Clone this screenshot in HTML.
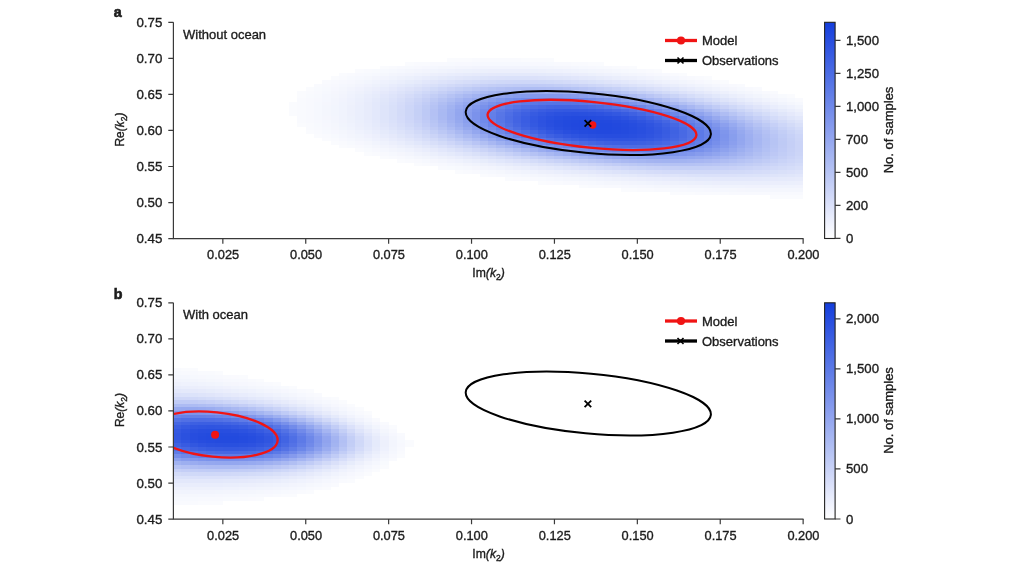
<!DOCTYPE html>
<html><head><meta charset="utf-8"><style>
html,body{margin:0;padding:0;background:#fff;overflow:hidden;}
svg{display:block;font-family:"Liberation Sans", sans-serif;will-change:transform;}
text{fill:#1c1c1c;stroke:#1c1c1c;stroke-width:0.35px;}
</style></head><body>
<svg width="1024" height="571" viewBox="0 0 1024 571">
<rect width="1024" height="571" fill="#fff"/>
<defs><linearGradient id="cbg" x1="0" y1="1" x2="0" y2="0">
<stop offset="0.00" stop-color="#ffffff"/>
<stop offset="0.10" stop-color="#e8ecfc"/>
<stop offset="0.20" stop-color="#d0d8f8"/>
<stop offset="0.30" stop-color="#b8c5f4"/>
<stop offset="0.40" stop-color="#a1b2f1"/>
<stop offset="0.50" stop-color="#8a9eee"/>
<stop offset="0.60" stop-color="#728bea"/>
<stop offset="0.70" stop-color="#5a78e6"/>
<stop offset="0.80" stop-color="#4365e3"/>
<stop offset="0.90" stop-color="#2c51e0"/>
<stop offset="1.00" stop-color="#143edc"/>
</linearGradient></defs>
<clipPath id="clip0"><rect x="174" y="10.00" width="631" height="228.10"/></clipPath>
<g clip-path="url(#clip0)" shape-rendering="crispEdges">
<rect x="289" y="112" width="8" height="4" fill="#fafbfe"/>
<rect x="289" y="109" width="8" height="3" fill="#fafbfe"/>
<rect x="289" y="105" width="8" height="4" fill="#fafbfe"/>
<rect x="289" y="102" width="8" height="3" fill="#fafbfe"/>
<rect x="297" y="123" width="9" height="4" fill="#fafbfe"/>
<rect x="297" y="120" width="9" height="3" fill="#f9fafe"/>
<rect x="297" y="116" width="9" height="4" fill="#f9fafe"/>
<rect x="297" y="112" width="9" height="4" fill="#f9fafe"/>
<rect x="297" y="109" width="9" height="3" fill="#f9fafe"/>
<rect x="297" y="105" width="9" height="4" fill="#f9fafe"/>
<rect x="297" y="102" width="9" height="3" fill="#f9fafe"/>
<rect x="297" y="98" width="9" height="4" fill="#f9fafe"/>
<rect x="297" y="94" width="9" height="4" fill="#fafbfe"/>
<rect x="297" y="91" width="9" height="3" fill="#fafbfe"/>
<rect x="306" y="130" width="8" height="4" fill="#fafbfe"/>
<rect x="306" y="127" width="8" height="3" fill="#f9fafe"/>
<rect x="306" y="123" width="8" height="4" fill="#f9fafe"/>
<rect x="306" y="120" width="8" height="3" fill="#f8f9fe"/>
<rect x="306" y="116" width="8" height="4" fill="#f8f9fe"/>
<rect x="306" y="112" width="8" height="4" fill="#f8f9fe"/>
<rect x="306" y="109" width="8" height="3" fill="#f8f9fe"/>
<rect x="306" y="105" width="8" height="4" fill="#f8f9fe"/>
<rect x="306" y="102" width="8" height="3" fill="#f8f9fe"/>
<rect x="306" y="98" width="8" height="4" fill="#f8f9fe"/>
<rect x="306" y="94" width="8" height="4" fill="#f8fafe"/>
<rect x="306" y="91" width="8" height="3" fill="#f9fafe"/>
<rect x="306" y="87" width="8" height="4" fill="#fafbfe"/>
<rect x="314" y="134" width="8" height="4" fill="#fafbfe"/>
<rect x="314" y="130" width="8" height="4" fill="#f9fafe"/>
<rect x="314" y="127" width="8" height="3" fill="#f8f9fe"/>
<rect x="314" y="123" width="8" height="4" fill="#f7f9fe"/>
<rect x="314" y="120" width="8" height="3" fill="#f7f8fe"/>
<rect x="314" y="116" width="8" height="4" fill="#f6f8fe"/>
<rect x="314" y="112" width="8" height="4" fill="#f6f8fe"/>
<rect x="314" y="109" width="8" height="3" fill="#f6f8fe"/>
<rect x="314" y="105" width="8" height="4" fill="#f6f8fe"/>
<rect x="314" y="102" width="8" height="3" fill="#f6f8fe"/>
<rect x="314" y="98" width="8" height="4" fill="#f7f8fe"/>
<rect x="314" y="94" width="8" height="4" fill="#f7f9fe"/>
<rect x="314" y="91" width="8" height="3" fill="#f8f9fe"/>
<rect x="314" y="87" width="8" height="4" fill="#f8fafe"/>
<rect x="314" y="84" width="8" height="3" fill="#f9fafe"/>
<rect x="322" y="138" width="9" height="3" fill="#fafbfe"/>
<rect x="322" y="134" width="9" height="4" fill="#f9fafe"/>
<rect x="322" y="130" width="9" height="4" fill="#f7f9fe"/>
<rect x="322" y="127" width="9" height="3" fill="#f6f8fe"/>
<rect x="322" y="123" width="9" height="4" fill="#f6f7fe"/>
<rect x="322" y="120" width="9" height="3" fill="#f5f7fe"/>
<rect x="322" y="116" width="9" height="4" fill="#f5f6fd"/>
<rect x="322" y="112" width="9" height="4" fill="#f4f6fd"/>
<rect x="322" y="109" width="9" height="3" fill="#f4f6fd"/>
<rect x="322" y="105" width="9" height="4" fill="#f4f6fd"/>
<rect x="322" y="102" width="9" height="3" fill="#f5f6fd"/>
<rect x="322" y="98" width="9" height="4" fill="#f5f7fe"/>
<rect x="322" y="94" width="9" height="4" fill="#f5f7fe"/>
<rect x="322" y="91" width="9" height="3" fill="#f6f8fe"/>
<rect x="322" y="87" width="9" height="4" fill="#f7f9fe"/>
<rect x="322" y="84" width="9" height="3" fill="#f8f9fe"/>
<rect x="322" y="80" width="9" height="4" fill="#f9fafe"/>
<rect x="331" y="141" width="8" height="4" fill="#fafbfe"/>
<rect x="331" y="138" width="8" height="3" fill="#f9fafe"/>
<rect x="331" y="134" width="8" height="4" fill="#f7f9fe"/>
<rect x="331" y="130" width="8" height="4" fill="#f6f7fe"/>
<rect x="331" y="127" width="8" height="3" fill="#f5f6fd"/>
<rect x="331" y="123" width="8" height="4" fill="#f4f6fd"/>
<rect x="331" y="120" width="8" height="3" fill="#f3f5fd"/>
<rect x="331" y="116" width="8" height="4" fill="#f3f5fd"/>
<rect x="331" y="112" width="8" height="4" fill="#f2f5fd"/>
<rect x="331" y="109" width="8" height="3" fill="#f2f5fd"/>
<rect x="331" y="105" width="8" height="4" fill="#f2f5fd"/>
<rect x="331" y="102" width="8" height="3" fill="#f3f5fd"/>
<rect x="331" y="98" width="8" height="4" fill="#f3f5fd"/>
<rect x="331" y="94" width="8" height="4" fill="#f4f6fd"/>
<rect x="331" y="91" width="8" height="3" fill="#f5f6fd"/>
<rect x="331" y="87" width="8" height="4" fill="#f6f7fe"/>
<rect x="331" y="84" width="8" height="3" fill="#f7f8fe"/>
<rect x="331" y="80" width="8" height="4" fill="#f8f9fe"/>
<rect x="331" y="76" width="8" height="4" fill="#fafbfe"/>
<rect x="339" y="145" width="8" height="3" fill="#fafbfe"/>
<rect x="339" y="141" width="8" height="4" fill="#f9fafe"/>
<rect x="339" y="138" width="8" height="3" fill="#f7f8fe"/>
<rect x="339" y="134" width="8" height="4" fill="#f5f7fe"/>
<rect x="339" y="130" width="8" height="4" fill="#f4f6fd"/>
<rect x="339" y="127" width="8" height="3" fill="#f2f5fd"/>
<rect x="339" y="123" width="8" height="4" fill="#f1f4fd"/>
<rect x="339" y="120" width="8" height="3" fill="#f1f3fd"/>
<rect x="339" y="116" width="8" height="4" fill="#f0f3fd"/>
<rect x="339" y="112" width="8" height="4" fill="#f0f3fd"/>
<rect x="339" y="109" width="8" height="3" fill="#f0f3fd"/>
<rect x="339" y="105" width="8" height="4" fill="#f0f3fd"/>
<rect x="339" y="102" width="8" height="3" fill="#f0f3fd"/>
<rect x="339" y="98" width="8" height="4" fill="#f1f3fd"/>
<rect x="339" y="94" width="8" height="4" fill="#f2f4fd"/>
<rect x="339" y="91" width="8" height="3" fill="#f3f5fd"/>
<rect x="339" y="87" width="8" height="4" fill="#f4f6fd"/>
<rect x="339" y="84" width="8" height="3" fill="#f5f7fe"/>
<rect x="339" y="80" width="8" height="4" fill="#f7f8fe"/>
<rect x="339" y="76" width="8" height="4" fill="#f9fafe"/>
<rect x="339" y="73" width="8" height="3" fill="#fafbfe"/>
<rect x="347" y="145" width="8" height="3" fill="#f9fafe"/>
<rect x="347" y="141" width="8" height="4" fill="#f7f9fe"/>
<rect x="347" y="138" width="8" height="3" fill="#f5f7fe"/>
<rect x="347" y="134" width="8" height="4" fill="#f3f5fd"/>
<rect x="347" y="130" width="8" height="4" fill="#f2f4fd"/>
<rect x="347" y="127" width="8" height="3" fill="#f0f3fd"/>
<rect x="347" y="123" width="8" height="4" fill="#eff2fd"/>
<rect x="347" y="120" width="8" height="3" fill="#eef1fc"/>
<rect x="347" y="116" width="8" height="4" fill="#edf1fc"/>
<rect x="347" y="112" width="8" height="4" fill="#edf0fc"/>
<rect x="347" y="109" width="8" height="3" fill="#edf0fc"/>
<rect x="347" y="105" width="8" height="4" fill="#edf0fc"/>
<rect x="347" y="102" width="8" height="3" fill="#eef1fc"/>
<rect x="347" y="98" width="8" height="4" fill="#eef1fd"/>
<rect x="347" y="94" width="8" height="4" fill="#eff2fd"/>
<rect x="347" y="91" width="8" height="3" fill="#f0f3fd"/>
<rect x="347" y="87" width="8" height="4" fill="#f2f4fd"/>
<rect x="347" y="84" width="8" height="3" fill="#f4f6fd"/>
<rect x="347" y="80" width="8" height="4" fill="#f6f7fe"/>
<rect x="347" y="76" width="8" height="4" fill="#f7f9fe"/>
<rect x="347" y="73" width="8" height="3" fill="#f9fafe"/>
<rect x="355" y="148" width="9" height="4" fill="#fafbfe"/>
<rect x="355" y="145" width="9" height="3" fill="#f8f9fe"/>
<rect x="355" y="141" width="9" height="4" fill="#f6f7fe"/>
<rect x="355" y="138" width="9" height="3" fill="#f3f5fd"/>
<rect x="355" y="134" width="9" height="4" fill="#f1f4fd"/>
<rect x="355" y="130" width="9" height="4" fill="#eff2fd"/>
<rect x="355" y="127" width="9" height="3" fill="#edf0fc"/>
<rect x="355" y="123" width="9" height="4" fill="#eceffc"/>
<rect x="355" y="120" width="9" height="3" fill="#ebeffc"/>
<rect x="355" y="116" width="9" height="4" fill="#eaeefc"/>
<rect x="355" y="112" width="9" height="4" fill="#eaeefc"/>
<rect x="355" y="109" width="9" height="3" fill="#eaeefc"/>
<rect x="355" y="105" width="9" height="4" fill="#eaeefc"/>
<rect x="355" y="102" width="9" height="3" fill="#ebeefc"/>
<rect x="355" y="98" width="9" height="4" fill="#ebeffc"/>
<rect x="355" y="94" width="9" height="4" fill="#ecf0fc"/>
<rect x="355" y="91" width="9" height="3" fill="#eef1fc"/>
<rect x="355" y="87" width="9" height="4" fill="#f0f2fd"/>
<rect x="355" y="84" width="9" height="3" fill="#f2f4fd"/>
<rect x="355" y="80" width="9" height="4" fill="#f4f6fd"/>
<rect x="355" y="76" width="9" height="4" fill="#f6f8fe"/>
<rect x="355" y="73" width="9" height="3" fill="#f8f9fe"/>
<rect x="355" y="69" width="9" height="4" fill="#fafbfe"/>
<rect x="364" y="152" width="8" height="4" fill="#fafbfe"/>
<rect x="364" y="148" width="8" height="4" fill="#f8fafe"/>
<rect x="364" y="145" width="8" height="3" fill="#f6f8fe"/>
<rect x="364" y="141" width="8" height="4" fill="#f4f6fd"/>
<rect x="364" y="138" width="8" height="3" fill="#f1f4fd"/>
<rect x="364" y="134" width="8" height="4" fill="#eff1fd"/>
<rect x="364" y="130" width="8" height="4" fill="#ecf0fc"/>
<rect x="364" y="127" width="8" height="3" fill="#eaeefc"/>
<rect x="364" y="123" width="8" height="4" fill="#e9edfc"/>
<rect x="364" y="120" width="8" height="3" fill="#e8ecfc"/>
<rect x="364" y="116" width="8" height="4" fill="#e7ebfb"/>
<rect x="364" y="112" width="8" height="4" fill="#e7ebfb"/>
<rect x="364" y="109" width="8" height="3" fill="#e7ebfb"/>
<rect x="364" y="105" width="8" height="4" fill="#e7ebfb"/>
<rect x="364" y="102" width="8" height="3" fill="#e7ebfb"/>
<rect x="364" y="98" width="8" height="4" fill="#e8ecfc"/>
<rect x="364" y="94" width="8" height="4" fill="#e9edfc"/>
<rect x="364" y="91" width="8" height="3" fill="#ebeffc"/>
<rect x="364" y="87" width="8" height="4" fill="#edf0fc"/>
<rect x="364" y="84" width="8" height="3" fill="#f0f2fd"/>
<rect x="364" y="80" width="8" height="4" fill="#f2f5fd"/>
<rect x="364" y="76" width="8" height="4" fill="#f5f7fd"/>
<rect x="364" y="73" width="8" height="3" fill="#f7f9fe"/>
<rect x="364" y="69" width="8" height="4" fill="#f9fafe"/>
<rect x="372" y="152" width="8" height="4" fill="#f9fafe"/>
<rect x="372" y="148" width="8" height="4" fill="#f7f8fe"/>
<rect x="372" y="145" width="8" height="3" fill="#f4f6fd"/>
<rect x="372" y="141" width="8" height="4" fill="#f1f4fd"/>
<rect x="372" y="138" width="8" height="3" fill="#eef1fd"/>
<rect x="372" y="134" width="8" height="4" fill="#eceffc"/>
<rect x="372" y="130" width="8" height="4" fill="#e9edfc"/>
<rect x="372" y="127" width="8" height="3" fill="#e7ebfb"/>
<rect x="372" y="123" width="8" height="4" fill="#e5eafb"/>
<rect x="372" y="120" width="8" height="3" fill="#e4e9fb"/>
<rect x="372" y="116" width="8" height="4" fill="#e3e8fb"/>
<rect x="372" y="112" width="8" height="4" fill="#e3e8fb"/>
<rect x="372" y="109" width="8" height="3" fill="#e3e8fb"/>
<rect x="372" y="105" width="8" height="4" fill="#e3e8fb"/>
<rect x="372" y="102" width="8" height="3" fill="#e3e8fb"/>
<rect x="372" y="98" width="8" height="4" fill="#e4e9fb"/>
<rect x="372" y="94" width="8" height="4" fill="#e6ebfb"/>
<rect x="372" y="91" width="8" height="3" fill="#e8ecfc"/>
<rect x="372" y="87" width="8" height="4" fill="#ebeefc"/>
<rect x="372" y="84" width="8" height="3" fill="#edf1fc"/>
<rect x="372" y="80" width="8" height="4" fill="#f0f3fd"/>
<rect x="372" y="76" width="8" height="4" fill="#f3f5fd"/>
<rect x="372" y="73" width="8" height="3" fill="#f6f8fe"/>
<rect x="372" y="69" width="8" height="4" fill="#f8fafe"/>
<rect x="380" y="156" width="9" height="3" fill="#fafbfe"/>
<rect x="380" y="152" width="9" height="4" fill="#f8f9fe"/>
<rect x="380" y="148" width="9" height="4" fill="#f5f7fe"/>
<rect x="380" y="145" width="9" height="3" fill="#f2f4fd"/>
<rect x="380" y="141" width="9" height="4" fill="#eff2fd"/>
<rect x="380" y="138" width="9" height="3" fill="#eceffc"/>
<rect x="380" y="134" width="9" height="4" fill="#e8ecfc"/>
<rect x="380" y="130" width="9" height="4" fill="#e5eafb"/>
<rect x="380" y="127" width="9" height="3" fill="#e3e8fb"/>
<rect x="380" y="123" width="9" height="4" fill="#e1e6fa"/>
<rect x="380" y="120" width="9" height="3" fill="#dfe5fa"/>
<rect x="380" y="116" width="9" height="4" fill="#dee4fa"/>
<rect x="380" y="112" width="9" height="4" fill="#dee4fa"/>
<rect x="380" y="109" width="9" height="3" fill="#dee4fa"/>
<rect x="380" y="105" width="9" height="4" fill="#dee4fa"/>
<rect x="380" y="102" width="9" height="3" fill="#dfe5fa"/>
<rect x="380" y="98" width="9" height="4" fill="#e0e6fa"/>
<rect x="380" y="94" width="9" height="4" fill="#e2e7fb"/>
<rect x="380" y="91" width="9" height="3" fill="#e5e9fb"/>
<rect x="380" y="87" width="9" height="4" fill="#e8ecfc"/>
<rect x="380" y="84" width="9" height="3" fill="#ebeffc"/>
<rect x="380" y="80" width="9" height="4" fill="#eef1fd"/>
<rect x="380" y="76" width="9" height="4" fill="#f2f4fd"/>
<rect x="380" y="73" width="9" height="3" fill="#f5f7fd"/>
<rect x="380" y="69" width="9" height="4" fill="#f7f9fe"/>
<rect x="380" y="66" width="9" height="3" fill="#fafbfe"/>
<rect x="389" y="156" width="8" height="3" fill="#f9fafe"/>
<rect x="389" y="152" width="8" height="4" fill="#f6f8fe"/>
<rect x="389" y="148" width="8" height="4" fill="#f3f5fd"/>
<rect x="389" y="145" width="8" height="3" fill="#f0f2fd"/>
<rect x="389" y="141" width="8" height="4" fill="#eceffc"/>
<rect x="389" y="138" width="8" height="3" fill="#e8ecfc"/>
<rect x="389" y="134" width="8" height="4" fill="#e5e9fb"/>
<rect x="389" y="130" width="8" height="4" fill="#e1e7fb"/>
<rect x="389" y="127" width="8" height="3" fill="#dee4fa"/>
<rect x="389" y="123" width="8" height="4" fill="#dce2fa"/>
<rect x="389" y="120" width="8" height="3" fill="#dae1fa"/>
<rect x="389" y="116" width="8" height="4" fill="#d9e0f9"/>
<rect x="389" y="112" width="8" height="4" fill="#d9e0f9"/>
<rect x="389" y="109" width="8" height="3" fill="#d9e0f9"/>
<rect x="389" y="105" width="8" height="4" fill="#d9e0f9"/>
<rect x="389" y="102" width="8" height="3" fill="#dae1fa"/>
<rect x="389" y="98" width="8" height="4" fill="#dce2fa"/>
<rect x="389" y="94" width="8" height="4" fill="#dee4fa"/>
<rect x="389" y="91" width="8" height="3" fill="#e1e6fb"/>
<rect x="389" y="87" width="8" height="4" fill="#e5e9fb"/>
<rect x="389" y="84" width="8" height="3" fill="#e8ecfc"/>
<rect x="389" y="80" width="8" height="4" fill="#ecf0fc"/>
<rect x="389" y="76" width="8" height="4" fill="#f0f3fd"/>
<rect x="389" y="73" width="8" height="3" fill="#f3f5fd"/>
<rect x="389" y="69" width="8" height="4" fill="#f6f8fe"/>
<rect x="389" y="66" width="8" height="3" fill="#f9fafe"/>
<rect x="397" y="159" width="8" height="4" fill="#fafbfe"/>
<rect x="397" y="156" width="8" height="3" fill="#f8f9fe"/>
<rect x="397" y="152" width="8" height="4" fill="#f5f6fd"/>
<rect x="397" y="148" width="8" height="4" fill="#f1f4fd"/>
<rect x="397" y="145" width="8" height="3" fill="#edf0fc"/>
<rect x="397" y="141" width="8" height="4" fill="#e9edfc"/>
<rect x="397" y="138" width="8" height="3" fill="#e5e9fb"/>
<rect x="397" y="134" width="8" height="4" fill="#e0e6fa"/>
<rect x="397" y="130" width="8" height="4" fill="#dde3fa"/>
<rect x="397" y="127" width="8" height="3" fill="#d9e0f9"/>
<rect x="397" y="123" width="8" height="4" fill="#d7def9"/>
<rect x="397" y="120" width="8" height="3" fill="#d5dcf9"/>
<rect x="397" y="116" width="8" height="4" fill="#d4dbf9"/>
<rect x="397" y="112" width="8" height="4" fill="#d3dbf8"/>
<rect x="397" y="109" width="8" height="3" fill="#d3dbf8"/>
<rect x="397" y="105" width="8" height="4" fill="#d4dbf9"/>
<rect x="397" y="102" width="8" height="3" fill="#d5dcf9"/>
<rect x="397" y="98" width="8" height="4" fill="#d7def9"/>
<rect x="397" y="94" width="8" height="4" fill="#dae0f9"/>
<rect x="397" y="91" width="8" height="3" fill="#dde3fa"/>
<rect x="397" y="87" width="8" height="4" fill="#e1e6fb"/>
<rect x="397" y="84" width="8" height="3" fill="#e5eafb"/>
<rect x="397" y="80" width="8" height="4" fill="#eaeefc"/>
<rect x="397" y="76" width="8" height="4" fill="#eef1fc"/>
<rect x="397" y="73" width="8" height="3" fill="#f2f4fd"/>
<rect x="397" y="69" width="8" height="4" fill="#f5f7fe"/>
<rect x="397" y="66" width="8" height="3" fill="#f8f9fe"/>
<rect x="405" y="159" width="9" height="4" fill="#f9fafe"/>
<rect x="405" y="156" width="9" height="3" fill="#f6f8fe"/>
<rect x="405" y="152" width="9" height="4" fill="#f3f5fd"/>
<rect x="405" y="148" width="9" height="4" fill="#eff2fd"/>
<rect x="405" y="145" width="9" height="3" fill="#eaeefc"/>
<rect x="405" y="141" width="9" height="4" fill="#e5eafb"/>
<rect x="405" y="138" width="9" height="3" fill="#e1e6fa"/>
<rect x="405" y="134" width="9" height="4" fill="#dce2fa"/>
<rect x="405" y="130" width="9" height="4" fill="#d8dff9"/>
<rect x="405" y="127" width="9" height="3" fill="#d4dcf9"/>
<rect x="405" y="123" width="9" height="4" fill="#d1d9f8"/>
<rect x="405" y="120" width="9" height="3" fill="#cfd7f8"/>
<rect x="405" y="116" width="9" height="4" fill="#cdd6f8"/>
<rect x="405" y="112" width="9" height="4" fill="#cdd6f7"/>
<rect x="405" y="109" width="9" height="3" fill="#cdd6f7"/>
<rect x="405" y="105" width="9" height="4" fill="#cdd6f8"/>
<rect x="405" y="102" width="9" height="3" fill="#cfd7f8"/>
<rect x="405" y="98" width="9" height="4" fill="#d1d9f8"/>
<rect x="405" y="94" width="9" height="4" fill="#d5dcf9"/>
<rect x="405" y="91" width="9" height="3" fill="#d9e0f9"/>
<rect x="405" y="87" width="9" height="4" fill="#dee3fa"/>
<rect x="405" y="84" width="9" height="3" fill="#e2e8fb"/>
<rect x="405" y="80" width="9" height="4" fill="#e7ecfb"/>
<rect x="405" y="76" width="9" height="4" fill="#ecf0fc"/>
<rect x="405" y="73" width="9" height="3" fill="#f1f3fd"/>
<rect x="405" y="69" width="9" height="4" fill="#f4f6fd"/>
<rect x="405" y="66" width="9" height="3" fill="#f7f9fe"/>
<rect x="405" y="62" width="9" height="4" fill="#fafbfe"/>
<rect x="414" y="163" width="8" height="3" fill="#fafbfe"/>
<rect x="414" y="159" width="8" height="4" fill="#f8f9fe"/>
<rect x="414" y="156" width="8" height="3" fill="#f4f6fd"/>
<rect x="414" y="152" width="8" height="4" fill="#f0f3fd"/>
<rect x="414" y="148" width="8" height="4" fill="#eceffc"/>
<rect x="414" y="145" width="8" height="3" fill="#e7ebfb"/>
<rect x="414" y="141" width="8" height="4" fill="#e1e7fb"/>
<rect x="414" y="138" width="8" height="3" fill="#dce2fa"/>
<rect x="414" y="134" width="8" height="4" fill="#d7def9"/>
<rect x="414" y="130" width="8" height="4" fill="#d2daf8"/>
<rect x="414" y="127" width="8" height="3" fill="#ced6f8"/>
<rect x="414" y="123" width="8" height="4" fill="#cad4f7"/>
<rect x="414" y="120" width="8" height="3" fill="#c8d1f7"/>
<rect x="414" y="116" width="8" height="4" fill="#c6d0f6"/>
<rect x="414" y="112" width="8" height="4" fill="#c5d0f6"/>
<rect x="414" y="109" width="8" height="3" fill="#c5d0f6"/>
<rect x="414" y="105" width="8" height="4" fill="#c6d0f7"/>
<rect x="414" y="102" width="8" height="3" fill="#c8d2f7"/>
<rect x="414" y="98" width="8" height="4" fill="#cbd4f7"/>
<rect x="414" y="94" width="8" height="4" fill="#cfd8f8"/>
<rect x="414" y="91" width="8" height="3" fill="#d4dcf9"/>
<rect x="414" y="87" width="8" height="4" fill="#dae0f9"/>
<rect x="414" y="84" width="8" height="3" fill="#dfe5fa"/>
<rect x="414" y="80" width="8" height="4" fill="#e5eafb"/>
<rect x="414" y="76" width="8" height="4" fill="#eaeefc"/>
<rect x="414" y="73" width="8" height="3" fill="#eff2fd"/>
<rect x="414" y="69" width="8" height="4" fill="#f3f5fd"/>
<rect x="414" y="66" width="8" height="3" fill="#f7f8fe"/>
<rect x="414" y="62" width="8" height="4" fill="#f9fafe"/>
<rect x="422" y="163" width="8" height="3" fill="#f9fafe"/>
<rect x="422" y="159" width="8" height="4" fill="#f6f8fe"/>
<rect x="422" y="156" width="8" height="3" fill="#f2f5fd"/>
<rect x="422" y="152" width="8" height="4" fill="#eef1fc"/>
<rect x="422" y="148" width="8" height="4" fill="#e9edfc"/>
<rect x="422" y="145" width="8" height="3" fill="#e3e8fb"/>
<rect x="422" y="141" width="8" height="4" fill="#dde3fa"/>
<rect x="422" y="138" width="8" height="3" fill="#d7def9"/>
<rect x="422" y="134" width="8" height="4" fill="#d1d9f8"/>
<rect x="422" y="130" width="8" height="4" fill="#ccd5f7"/>
<rect x="422" y="127" width="8" height="3" fill="#c7d1f7"/>
<rect x="422" y="123" width="8" height="4" fill="#c3cdf6"/>
<rect x="422" y="120" width="8" height="3" fill="#c0cbf6"/>
<rect x="422" y="116" width="8" height="4" fill="#bec9f5"/>
<rect x="422" y="112" width="8" height="4" fill="#bdc9f5"/>
<rect x="422" y="109" width="8" height="3" fill="#bdc9f5"/>
<rect x="422" y="105" width="8" height="4" fill="#becaf5"/>
<rect x="422" y="102" width="8" height="3" fill="#c1ccf6"/>
<rect x="422" y="98" width="8" height="4" fill="#c5cff6"/>
<rect x="422" y="94" width="8" height="4" fill="#cad3f7"/>
<rect x="422" y="91" width="8" height="3" fill="#cfd8f8"/>
<rect x="422" y="87" width="8" height="4" fill="#d6ddf9"/>
<rect x="422" y="84" width="8" height="3" fill="#dce2fa"/>
<rect x="422" y="80" width="8" height="4" fill="#e2e7fb"/>
<rect x="422" y="76" width="8" height="4" fill="#e8ecfc"/>
<rect x="422" y="73" width="8" height="3" fill="#eef1fc"/>
<rect x="422" y="69" width="8" height="4" fill="#f2f4fd"/>
<rect x="422" y="66" width="8" height="3" fill="#f6f7fe"/>
<rect x="422" y="62" width="8" height="4" fill="#f9fafe"/>
<rect x="430" y="163" width="8" height="3" fill="#f8f9fe"/>
<rect x="430" y="159" width="8" height="4" fill="#f5f6fd"/>
<rect x="430" y="156" width="8" height="3" fill="#f0f3fd"/>
<rect x="430" y="152" width="8" height="4" fill="#ebeffc"/>
<rect x="430" y="148" width="8" height="4" fill="#e6eafb"/>
<rect x="430" y="145" width="8" height="3" fill="#dfe5fa"/>
<rect x="430" y="141" width="8" height="4" fill="#d8dff9"/>
<rect x="430" y="138" width="8" height="3" fill="#d2daf8"/>
<rect x="430" y="134" width="8" height="4" fill="#cbd4f7"/>
<rect x="430" y="130" width="8" height="4" fill="#c4cff6"/>
<rect x="430" y="127" width="8" height="3" fill="#bfcaf5"/>
<rect x="430" y="123" width="8" height="4" fill="#bac6f5"/>
<rect x="430" y="120" width="8" height="3" fill="#b7c4f4"/>
<rect x="430" y="116" width="8" height="4" fill="#b4c2f4"/>
<rect x="430" y="112" width="8" height="4" fill="#b4c1f4"/>
<rect x="430" y="109" width="8" height="3" fill="#b4c1f4"/>
<rect x="430" y="105" width="8" height="4" fill="#b6c3f4"/>
<rect x="430" y="102" width="8" height="3" fill="#b9c5f5"/>
<rect x="430" y="98" width="8" height="4" fill="#bdc9f5"/>
<rect x="430" y="94" width="8" height="4" fill="#c3cef6"/>
<rect x="430" y="91" width="8" height="3" fill="#cad4f7"/>
<rect x="430" y="87" width="8" height="4" fill="#d1daf8"/>
<rect x="430" y="84" width="8" height="3" fill="#d9e0f9"/>
<rect x="430" y="80" width="8" height="4" fill="#e0e5fa"/>
<rect x="430" y="76" width="8" height="4" fill="#e6ebfb"/>
<rect x="430" y="73" width="8" height="3" fill="#eceffc"/>
<rect x="430" y="69" width="8" height="4" fill="#f1f4fd"/>
<rect x="430" y="66" width="8" height="3" fill="#f5f7fe"/>
<rect x="430" y="62" width="8" height="4" fill="#f8f9fe"/>
<rect x="438" y="166" width="9" height="4" fill="#f9fafe"/>
<rect x="438" y="163" width="9" height="3" fill="#f7f8fe"/>
<rect x="438" y="159" width="9" height="4" fill="#f3f5fd"/>
<rect x="438" y="156" width="9" height="3" fill="#eef1fc"/>
<rect x="438" y="152" width="9" height="4" fill="#e8ecfc"/>
<rect x="438" y="148" width="9" height="4" fill="#e2e7fb"/>
<rect x="438" y="145" width="9" height="3" fill="#dbe1fa"/>
<rect x="438" y="141" width="9" height="4" fill="#d3dbf8"/>
<rect x="438" y="138" width="9" height="3" fill="#cbd5f7"/>
<rect x="438" y="134" width="9" height="4" fill="#c4cef6"/>
<rect x="438" y="130" width="9" height="4" fill="#bcc8f5"/>
<rect x="438" y="127" width="9" height="3" fill="#b6c3f4"/>
<rect x="438" y="123" width="9" height="4" fill="#b1bff3"/>
<rect x="438" y="120" width="9" height="3" fill="#adbbf3"/>
<rect x="438" y="116" width="9" height="4" fill="#aab9f2"/>
<rect x="438" y="112" width="9" height="4" fill="#a9b9f2"/>
<rect x="438" y="109" width="9" height="3" fill="#aab9f2"/>
<rect x="438" y="105" width="9" height="4" fill="#acbbf3"/>
<rect x="438" y="102" width="9" height="3" fill="#b0bef3"/>
<rect x="438" y="98" width="9" height="4" fill="#b6c3f4"/>
<rect x="438" y="94" width="9" height="4" fill="#bdc9f5"/>
<rect x="438" y="91" width="9" height="3" fill="#c5cff6"/>
<rect x="438" y="87" width="9" height="4" fill="#cdd6f8"/>
<rect x="438" y="84" width="9" height="3" fill="#d5ddf9"/>
<rect x="438" y="80" width="9" height="4" fill="#dde3fa"/>
<rect x="438" y="76" width="9" height="4" fill="#e4e9fb"/>
<rect x="438" y="73" width="9" height="3" fill="#ebeefc"/>
<rect x="438" y="69" width="9" height="4" fill="#f0f3fd"/>
<rect x="438" y="66" width="9" height="3" fill="#f4f6fd"/>
<rect x="438" y="62" width="9" height="4" fill="#f8f9fe"/>
<rect x="447" y="166" width="8" height="4" fill="#f8fafe"/>
<rect x="447" y="163" width="8" height="3" fill="#f5f7fe"/>
<rect x="447" y="159" width="8" height="4" fill="#f1f3fd"/>
<rect x="447" y="156" width="8" height="3" fill="#eceffc"/>
<rect x="447" y="152" width="8" height="4" fill="#e5eafb"/>
<rect x="447" y="148" width="8" height="4" fill="#dee4fa"/>
<rect x="447" y="145" width="8" height="3" fill="#d6ddf9"/>
<rect x="447" y="141" width="8" height="4" fill="#ced6f8"/>
<rect x="447" y="138" width="8" height="3" fill="#c5cff6"/>
<rect x="447" y="134" width="8" height="4" fill="#bcc8f5"/>
<rect x="447" y="130" width="8" height="4" fill="#b4c1f4"/>
<rect x="447" y="127" width="8" height="3" fill="#acbbf3"/>
<rect x="447" y="123" width="8" height="4" fill="#a6b6f2"/>
<rect x="447" y="120" width="8" height="3" fill="#a2b2f1"/>
<rect x="447" y="116" width="8" height="4" fill="#9fb0f1"/>
<rect x="447" y="112" width="8" height="4" fill="#9fb0f1"/>
<rect x="447" y="109" width="8" height="3" fill="#9fb1f1"/>
<rect x="447" y="105" width="8" height="4" fill="#a2b3f1"/>
<rect x="447" y="102" width="8" height="3" fill="#a7b7f2"/>
<rect x="447" y="98" width="8" height="4" fill="#aebdf3"/>
<rect x="447" y="94" width="8" height="4" fill="#b6c3f4"/>
<rect x="447" y="91" width="8" height="3" fill="#bfcbf6"/>
<rect x="447" y="87" width="8" height="4" fill="#c9d2f7"/>
<rect x="447" y="84" width="8" height="3" fill="#d2daf8"/>
<rect x="447" y="80" width="8" height="4" fill="#dbe1fa"/>
<rect x="447" y="76" width="8" height="4" fill="#e2e8fb"/>
<rect x="447" y="73" width="8" height="3" fill="#e9edfc"/>
<rect x="447" y="69" width="8" height="4" fill="#eff2fd"/>
<rect x="447" y="66" width="8" height="3" fill="#f4f6fd"/>
<rect x="447" y="62" width="8" height="4" fill="#f7f9fe"/>
<rect x="447" y="58" width="8" height="4" fill="#fafbfe"/>
<rect x="455" y="170" width="8" height="4" fill="#fafbfe"/>
<rect x="455" y="166" width="8" height="4" fill="#f7f9fe"/>
<rect x="455" y="163" width="8" height="3" fill="#f4f6fd"/>
<rect x="455" y="159" width="8" height="4" fill="#eff2fd"/>
<rect x="455" y="156" width="8" height="3" fill="#e9edfc"/>
<rect x="455" y="152" width="8" height="4" fill="#e2e7fb"/>
<rect x="455" y="148" width="8" height="4" fill="#dae0f9"/>
<rect x="455" y="145" width="8" height="3" fill="#d1d9f8"/>
<rect x="455" y="141" width="8" height="4" fill="#c7d1f7"/>
<rect x="455" y="138" width="8" height="3" fill="#bdc9f5"/>
<rect x="455" y="134" width="8" height="4" fill="#b3c1f4"/>
<rect x="455" y="130" width="8" height="4" fill="#aab9f2"/>
<rect x="455" y="127" width="8" height="3" fill="#a1b2f1"/>
<rect x="455" y="123" width="8" height="4" fill="#9badf0"/>
<rect x="455" y="120" width="8" height="3" fill="#96a9ef"/>
<rect x="455" y="116" width="8" height="4" fill="#94a7ef"/>
<rect x="455" y="112" width="8" height="4" fill="#93a6ef"/>
<rect x="455" y="109" width="8" height="3" fill="#94a7ef"/>
<rect x="455" y="105" width="8" height="4" fill="#98aaf0"/>
<rect x="455" y="102" width="8" height="3" fill="#9eaff1"/>
<rect x="455" y="98" width="8" height="4" fill="#a6b6f2"/>
<rect x="455" y="94" width="8" height="4" fill="#afbef3"/>
<rect x="455" y="91" width="8" height="3" fill="#bac6f5"/>
<rect x="455" y="87" width="8" height="4" fill="#c4cff6"/>
<rect x="455" y="84" width="8" height="3" fill="#cfd7f8"/>
<rect x="455" y="80" width="8" height="4" fill="#d8dff9"/>
<rect x="455" y="76" width="8" height="4" fill="#e1e6fa"/>
<rect x="455" y="73" width="8" height="3" fill="#e8ecfc"/>
<rect x="455" y="69" width="8" height="4" fill="#eef1fc"/>
<rect x="455" y="66" width="8" height="3" fill="#f3f5fd"/>
<rect x="455" y="62" width="8" height="4" fill="#f7f8fe"/>
<rect x="455" y="58" width="8" height="4" fill="#fafbfe"/>
<rect x="463" y="170" width="9" height="4" fill="#f9fafe"/>
<rect x="463" y="166" width="9" height="4" fill="#f6f8fe"/>
<rect x="463" y="163" width="9" height="3" fill="#f2f4fd"/>
<rect x="463" y="159" width="9" height="4" fill="#ecf0fc"/>
<rect x="463" y="156" width="9" height="3" fill="#e6eafb"/>
<rect x="463" y="152" width="9" height="4" fill="#dee4fa"/>
<rect x="463" y="148" width="9" height="4" fill="#d5ddf9"/>
<rect x="463" y="145" width="9" height="3" fill="#cbd4f7"/>
<rect x="463" y="141" width="9" height="4" fill="#c0ccf6"/>
<rect x="463" y="138" width="9" height="3" fill="#b5c2f4"/>
<rect x="463" y="134" width="9" height="4" fill="#aab9f2"/>
<rect x="463" y="130" width="9" height="4" fill="#9fb0f1"/>
<rect x="463" y="127" width="9" height="3" fill="#96a9ef"/>
<rect x="463" y="123" width="9" height="4" fill="#8fa3ee"/>
<rect x="463" y="120" width="9" height="3" fill="#8a9fee"/>
<rect x="463" y="116" width="9" height="4" fill="#879ded"/>
<rect x="463" y="112" width="9" height="4" fill="#879ced"/>
<rect x="463" y="109" width="9" height="3" fill="#899eed"/>
<rect x="463" y="105" width="9" height="4" fill="#8ea2ee"/>
<rect x="463" y="102" width="9" height="3" fill="#95a8ef"/>
<rect x="463" y="98" width="9" height="4" fill="#9eaff1"/>
<rect x="463" y="94" width="9" height="4" fill="#a9b8f2"/>
<rect x="463" y="91" width="9" height="3" fill="#b4c2f4"/>
<rect x="463" y="87" width="9" height="4" fill="#c0ccf6"/>
<rect x="463" y="84" width="9" height="3" fill="#ccd5f7"/>
<rect x="463" y="80" width="9" height="4" fill="#d6ddf9"/>
<rect x="463" y="76" width="9" height="4" fill="#dfe5fa"/>
<rect x="463" y="73" width="9" height="3" fill="#e7ebfb"/>
<rect x="463" y="69" width="9" height="4" fill="#edf1fc"/>
<rect x="463" y="66" width="9" height="3" fill="#f3f5fd"/>
<rect x="463" y="62" width="9" height="4" fill="#f7f8fe"/>
<rect x="463" y="58" width="9" height="4" fill="#fafbfe"/>
<rect x="472" y="170" width="8" height="4" fill="#f8f9fe"/>
<rect x="472" y="166" width="8" height="4" fill="#f5f6fd"/>
<rect x="472" y="163" width="8" height="3" fill="#f0f3fd"/>
<rect x="472" y="159" width="8" height="4" fill="#eaeefc"/>
<rect x="472" y="156" width="8" height="3" fill="#e3e8fb"/>
<rect x="472" y="152" width="8" height="4" fill="#dae1f9"/>
<rect x="472" y="148" width="8" height="4" fill="#d0d8f8"/>
<rect x="472" y="145" width="8" height="3" fill="#c5cff6"/>
<rect x="472" y="141" width="8" height="4" fill="#b9c5f5"/>
<rect x="472" y="138" width="8" height="3" fill="#acbbf3"/>
<rect x="472" y="134" width="8" height="4" fill="#a0b1f1"/>
<rect x="472" y="130" width="8" height="4" fill="#94a7ef"/>
<rect x="472" y="127" width="8" height="3" fill="#8a9fee"/>
<rect x="472" y="123" width="8" height="4" fill="#8298ec"/>
<rect x="472" y="120" width="8" height="3" fill="#7d94ec"/>
<rect x="472" y="116" width="8" height="4" fill="#7b92eb"/>
<rect x="472" y="112" width="8" height="4" fill="#7b92eb"/>
<rect x="472" y="109" width="8" height="3" fill="#7e95ec"/>
<rect x="472" y="105" width="8" height="4" fill="#8399ed"/>
<rect x="472" y="102" width="8" height="3" fill="#8ba0ee"/>
<rect x="472" y="98" width="8" height="4" fill="#96a9ef"/>
<rect x="472" y="94" width="8" height="4" fill="#a2b3f1"/>
<rect x="472" y="91" width="8" height="3" fill="#afbef3"/>
<rect x="472" y="87" width="8" height="4" fill="#bcc8f5"/>
<rect x="472" y="84" width="8" height="3" fill="#c9d2f7"/>
<rect x="472" y="80" width="8" height="4" fill="#d4dcf9"/>
<rect x="472" y="76" width="8" height="4" fill="#dee4fa"/>
<rect x="472" y="73" width="8" height="3" fill="#e6eafb"/>
<rect x="472" y="69" width="8" height="4" fill="#edf0fc"/>
<rect x="472" y="66" width="8" height="3" fill="#f2f4fd"/>
<rect x="472" y="62" width="8" height="4" fill="#f6f8fe"/>
<rect x="472" y="58" width="8" height="4" fill="#f9fafe"/>
<rect x="480" y="174" width="8" height="3" fill="#fafbfe"/>
<rect x="480" y="170" width="8" height="4" fill="#f7f9fe"/>
<rect x="480" y="166" width="8" height="4" fill="#f3f5fd"/>
<rect x="480" y="163" width="8" height="3" fill="#eef1fc"/>
<rect x="480" y="159" width="8" height="4" fill="#e7ecfb"/>
<rect x="480" y="156" width="8" height="3" fill="#dfe5fa"/>
<rect x="480" y="152" width="8" height="4" fill="#d6ddf9"/>
<rect x="480" y="148" width="8" height="4" fill="#cbd4f7"/>
<rect x="480" y="145" width="8" height="3" fill="#becaf5"/>
<rect x="480" y="141" width="8" height="4" fill="#b1bff3"/>
<rect x="480" y="138" width="8" height="3" fill="#a2b3f1"/>
<rect x="480" y="134" width="8" height="4" fill="#95a8ef"/>
<rect x="480" y="130" width="8" height="4" fill="#889ded"/>
<rect x="480" y="127" width="8" height="3" fill="#7d94ec"/>
<rect x="480" y="123" width="8" height="4" fill="#758eea"/>
<rect x="480" y="120" width="8" height="3" fill="#708aea"/>
<rect x="480" y="116" width="8" height="4" fill="#6e88e9"/>
<rect x="480" y="112" width="8" height="4" fill="#6f89ea"/>
<rect x="480" y="109" width="8" height="3" fill="#728bea"/>
<rect x="480" y="105" width="8" height="4" fill="#7991eb"/>
<rect x="480" y="102" width="8" height="3" fill="#8298ec"/>
<rect x="480" y="98" width="8" height="4" fill="#8ea2ee"/>
<rect x="480" y="94" width="8" height="4" fill="#9caef0"/>
<rect x="480" y="91" width="8" height="3" fill="#aab9f2"/>
<rect x="480" y="87" width="8" height="4" fill="#b9c5f5"/>
<rect x="480" y="84" width="8" height="3" fill="#c6d0f7"/>
<rect x="480" y="80" width="8" height="4" fill="#d2daf8"/>
<rect x="480" y="76" width="8" height="4" fill="#dce3fa"/>
<rect x="480" y="73" width="8" height="3" fill="#e5eafb"/>
<rect x="480" y="69" width="8" height="4" fill="#ecf0fc"/>
<rect x="480" y="66" width="8" height="3" fill="#f2f4fd"/>
<rect x="480" y="62" width="8" height="4" fill="#f6f8fe"/>
<rect x="480" y="58" width="8" height="4" fill="#f9fafe"/>
<rect x="488" y="174" width="8" height="3" fill="#f9fafe"/>
<rect x="488" y="170" width="8" height="4" fill="#f6f8fe"/>
<rect x="488" y="166" width="8" height="4" fill="#f2f4fd"/>
<rect x="488" y="163" width="8" height="3" fill="#eceffc"/>
<rect x="488" y="159" width="8" height="4" fill="#e4e9fb"/>
<rect x="488" y="156" width="8" height="3" fill="#dce2fa"/>
<rect x="488" y="152" width="8" height="4" fill="#d1d9f8"/>
<rect x="488" y="148" width="8" height="4" fill="#c5cff6"/>
<rect x="488" y="145" width="8" height="3" fill="#b7c4f4"/>
<rect x="488" y="141" width="8" height="4" fill="#a8b7f2"/>
<rect x="488" y="138" width="8" height="3" fill="#98abf0"/>
<rect x="488" y="134" width="8" height="4" fill="#899eed"/>
<rect x="488" y="130" width="8" height="4" fill="#7c93eb"/>
<rect x="488" y="127" width="8" height="3" fill="#708aea"/>
<rect x="488" y="123" width="8" height="4" fill="#6883e9"/>
<rect x="488" y="120" width="8" height="3" fill="#6480e8"/>
<rect x="488" y="116" width="8" height="4" fill="#627ee8"/>
<rect x="488" y="112" width="8" height="4" fill="#637fe8"/>
<rect x="488" y="109" width="8" height="3" fill="#6782e8"/>
<rect x="488" y="105" width="8" height="4" fill="#6f89ea"/>
<rect x="488" y="102" width="8" height="3" fill="#7991eb"/>
<rect x="488" y="98" width="8" height="4" fill="#879ced"/>
<rect x="488" y="94" width="8" height="4" fill="#96a9ef"/>
<rect x="488" y="91" width="8" height="3" fill="#a6b6f2"/>
<rect x="488" y="87" width="8" height="4" fill="#b5c3f4"/>
<rect x="488" y="84" width="8" height="3" fill="#c4cef6"/>
<rect x="488" y="80" width="8" height="4" fill="#d1d9f8"/>
<rect x="488" y="76" width="8" height="4" fill="#dbe2fa"/>
<rect x="488" y="73" width="8" height="3" fill="#e5e9fb"/>
<rect x="488" y="69" width="8" height="4" fill="#eceffc"/>
<rect x="488" y="66" width="8" height="3" fill="#f2f4fd"/>
<rect x="488" y="62" width="8" height="4" fill="#f6f8fe"/>
<rect x="488" y="58" width="8" height="4" fill="#f9fafe"/>
<rect x="496" y="174" width="9" height="3" fill="#f8f9fe"/>
<rect x="496" y="170" width="9" height="4" fill="#f5f7fd"/>
<rect x="496" y="166" width="9" height="4" fill="#f0f3fd"/>
<rect x="496" y="163" width="9" height="3" fill="#e9edfc"/>
<rect x="496" y="159" width="9" height="4" fill="#e1e7fb"/>
<rect x="496" y="156" width="9" height="3" fill="#d8dff9"/>
<rect x="496" y="152" width="9" height="4" fill="#ccd5f7"/>
<rect x="496" y="148" width="9" height="4" fill="#becaf5"/>
<rect x="496" y="145" width="9" height="3" fill="#afbdf3"/>
<rect x="496" y="141" width="9" height="4" fill="#9eb0f1"/>
<rect x="496" y="138" width="9" height="3" fill="#8da2ee"/>
<rect x="496" y="134" width="9" height="4" fill="#7d94ec"/>
<rect x="496" y="130" width="9" height="4" fill="#6f89ea"/>
<rect x="496" y="127" width="9" height="3" fill="#6480e8"/>
<rect x="496" y="123" width="9" height="4" fill="#5c79e7"/>
<rect x="496" y="120" width="9" height="3" fill="#5876e6"/>
<rect x="496" y="116" width="9" height="4" fill="#5775e6"/>
<rect x="496" y="112" width="9" height="4" fill="#5876e6"/>
<rect x="496" y="109" width="9" height="3" fill="#5d7ae7"/>
<rect x="496" y="105" width="9" height="4" fill="#6681e8"/>
<rect x="496" y="102" width="9" height="3" fill="#718bea"/>
<rect x="496" y="98" width="9" height="4" fill="#8097ec"/>
<rect x="496" y="94" width="9" height="4" fill="#91a4ef"/>
<rect x="496" y="91" width="9" height="3" fill="#a2b3f1"/>
<rect x="496" y="87" width="9" height="4" fill="#b3c0f4"/>
<rect x="496" y="84" width="9" height="3" fill="#c2cdf6"/>
<rect x="496" y="80" width="9" height="4" fill="#cfd8f8"/>
<rect x="496" y="76" width="9" height="4" fill="#dbe1fa"/>
<rect x="496" y="73" width="9" height="3" fill="#e4e9fb"/>
<rect x="496" y="69" width="9" height="4" fill="#eceffc"/>
<rect x="496" y="66" width="9" height="3" fill="#f2f4fd"/>
<rect x="496" y="62" width="9" height="4" fill="#f6f8fe"/>
<rect x="496" y="58" width="9" height="4" fill="#f9fafe"/>
<rect x="505" y="177" width="8" height="4" fill="#fafbfe"/>
<rect x="505" y="174" width="8" height="3" fill="#f7f9fe"/>
<rect x="505" y="170" width="8" height="4" fill="#f3f5fd"/>
<rect x="505" y="166" width="8" height="4" fill="#eef1fc"/>
<rect x="505" y="163" width="8" height="3" fill="#e7ebfb"/>
<rect x="505" y="159" width="8" height="4" fill="#dee4fa"/>
<rect x="505" y="156" width="8" height="3" fill="#d4dbf9"/>
<rect x="505" y="152" width="8" height="4" fill="#c7d1f7"/>
<rect x="505" y="148" width="8" height="4" fill="#b8c5f4"/>
<rect x="505" y="145" width="8" height="3" fill="#a7b7f2"/>
<rect x="505" y="141" width="8" height="4" fill="#95a8ef"/>
<rect x="505" y="138" width="8" height="3" fill="#8299ec"/>
<rect x="505" y="134" width="8" height="4" fill="#718bea"/>
<rect x="505" y="130" width="8" height="4" fill="#637fe8"/>
<rect x="505" y="127" width="8" height="3" fill="#5876e6"/>
<rect x="505" y="123" width="8" height="4" fill="#5170e5"/>
<rect x="505" y="120" width="8" height="3" fill="#4d6de4"/>
<rect x="505" y="116" width="8" height="4" fill="#4c6ce4"/>
<rect x="505" y="112" width="8" height="4" fill="#4e6ee5"/>
<rect x="505" y="109" width="8" height="3" fill="#5472e6"/>
<rect x="505" y="105" width="8" height="4" fill="#5d7ae7"/>
<rect x="505" y="102" width="8" height="3" fill="#6a85e9"/>
<rect x="505" y="98" width="8" height="4" fill="#7a92eb"/>
<rect x="505" y="94" width="8" height="4" fill="#8ca1ee"/>
<rect x="505" y="91" width="8" height="3" fill="#9fb0f1"/>
<rect x="505" y="87" width="8" height="4" fill="#b0bef3"/>
<rect x="505" y="84" width="8" height="3" fill="#c1ccf6"/>
<rect x="505" y="80" width="8" height="4" fill="#cfd7f8"/>
<rect x="505" y="76" width="8" height="4" fill="#dae1fa"/>
<rect x="505" y="73" width="8" height="3" fill="#e4e9fb"/>
<rect x="505" y="69" width="8" height="4" fill="#eceffc"/>
<rect x="505" y="66" width="8" height="3" fill="#f2f4fd"/>
<rect x="505" y="62" width="8" height="4" fill="#f6f8fe"/>
<rect x="505" y="58" width="8" height="4" fill="#f9fafe"/>
<rect x="513" y="177" width="8" height="4" fill="#fafafe"/>
<rect x="513" y="174" width="8" height="3" fill="#f6f8fe"/>
<rect x="513" y="170" width="8" height="4" fill="#f2f4fd"/>
<rect x="513" y="166" width="8" height="4" fill="#eceffc"/>
<rect x="513" y="163" width="8" height="3" fill="#e4e9fb"/>
<rect x="513" y="159" width="8" height="4" fill="#dbe1fa"/>
<rect x="513" y="156" width="8" height="3" fill="#cfd8f8"/>
<rect x="513" y="152" width="8" height="4" fill="#c1ccf6"/>
<rect x="513" y="148" width="8" height="4" fill="#b1bff3"/>
<rect x="513" y="145" width="8" height="3" fill="#9eb0f1"/>
<rect x="513" y="141" width="8" height="4" fill="#8b9fee"/>
<rect x="513" y="138" width="8" height="3" fill="#7790eb"/>
<rect x="513" y="134" width="8" height="4" fill="#6681e8"/>
<rect x="513" y="130" width="8" height="4" fill="#5775e6"/>
<rect x="513" y="127" width="8" height="3" fill="#4d6de4"/>
<rect x="513" y="123" width="8" height="4" fill="#4667e3"/>
<rect x="513" y="120" width="8" height="3" fill="#4364e3"/>
<rect x="513" y="116" width="8" height="4" fill="#4364e3"/>
<rect x="513" y="112" width="8" height="4" fill="#4566e3"/>
<rect x="513" y="109" width="8" height="3" fill="#4c6ce4"/>
<rect x="513" y="105" width="8" height="4" fill="#5674e6"/>
<rect x="513" y="102" width="8" height="3" fill="#6480e8"/>
<rect x="513" y="98" width="8" height="4" fill="#758eea"/>
<rect x="513" y="94" width="8" height="4" fill="#889ded"/>
<rect x="513" y="91" width="8" height="3" fill="#9caef0"/>
<rect x="513" y="87" width="8" height="4" fill="#afbdf3"/>
<rect x="513" y="84" width="8" height="3" fill="#c0cbf6"/>
<rect x="513" y="80" width="8" height="4" fill="#ced7f8"/>
<rect x="513" y="76" width="8" height="4" fill="#dae1fa"/>
<rect x="513" y="73" width="8" height="3" fill="#e4e9fb"/>
<rect x="513" y="69" width="8" height="4" fill="#eceffc"/>
<rect x="513" y="66" width="8" height="3" fill="#f2f4fd"/>
<rect x="513" y="62" width="8" height="4" fill="#f6f8fe"/>
<rect x="513" y="58" width="8" height="4" fill="#f9fafe"/>
<rect x="521" y="177" width="9" height="4" fill="#f9fafe"/>
<rect x="521" y="174" width="9" height="3" fill="#f5f7fe"/>
<rect x="521" y="170" width="9" height="4" fill="#f0f3fd"/>
<rect x="521" y="166" width="9" height="4" fill="#eaeefc"/>
<rect x="521" y="163" width="9" height="3" fill="#e2e7fb"/>
<rect x="521" y="159" width="9" height="4" fill="#d8dff9"/>
<rect x="521" y="156" width="9" height="3" fill="#cbd4f7"/>
<rect x="521" y="152" width="9" height="4" fill="#bbc7f5"/>
<rect x="521" y="148" width="9" height="4" fill="#a9b9f2"/>
<rect x="521" y="145" width="9" height="3" fill="#95a8ef"/>
<rect x="521" y="141" width="9" height="4" fill="#8197ec"/>
<rect x="521" y="138" width="9" height="3" fill="#6d87e9"/>
<rect x="521" y="134" width="9" height="4" fill="#5b78e7"/>
<rect x="521" y="130" width="9" height="4" fill="#4d6ce4"/>
<rect x="521" y="127" width="9" height="3" fill="#4264e3"/>
<rect x="521" y="123" width="9" height="4" fill="#3c5fe2"/>
<rect x="521" y="120" width="9" height="3" fill="#3a5de2"/>
<rect x="521" y="116" width="9" height="4" fill="#3a5de2"/>
<rect x="521" y="112" width="9" height="4" fill="#3e60e2"/>
<rect x="521" y="109" width="9" height="3" fill="#4566e3"/>
<rect x="521" y="105" width="9" height="4" fill="#506fe5"/>
<rect x="521" y="102" width="9" height="3" fill="#5f7be7"/>
<rect x="521" y="98" width="9" height="4" fill="#718aea"/>
<rect x="521" y="94" width="9" height="4" fill="#859bed"/>
<rect x="521" y="91" width="9" height="3" fill="#9aacf0"/>
<rect x="521" y="87" width="9" height="4" fill="#aebcf3"/>
<rect x="521" y="84" width="9" height="3" fill="#bfcbf6"/>
<rect x="521" y="80" width="9" height="4" fill="#ced7f8"/>
<rect x="521" y="76" width="9" height="4" fill="#dae1fa"/>
<rect x="521" y="73" width="9" height="3" fill="#e4e9fb"/>
<rect x="521" y="69" width="9" height="4" fill="#eceffc"/>
<rect x="521" y="66" width="9" height="3" fill="#f2f4fd"/>
<rect x="521" y="62" width="9" height="4" fill="#f6f8fe"/>
<rect x="521" y="58" width="9" height="4" fill="#fafbfe"/>
<rect x="530" y="177" width="8" height="4" fill="#f8f9fe"/>
<rect x="530" y="174" width="8" height="3" fill="#f4f6fd"/>
<rect x="530" y="170" width="8" height="4" fill="#eff2fd"/>
<rect x="530" y="166" width="8" height="4" fill="#e8ecfc"/>
<rect x="530" y="163" width="8" height="3" fill="#dfe5fa"/>
<rect x="530" y="159" width="8" height="4" fill="#d4dcf9"/>
<rect x="530" y="156" width="8" height="3" fill="#c6d0f7"/>
<rect x="530" y="152" width="8" height="4" fill="#b5c2f4"/>
<rect x="530" y="148" width="8" height="4" fill="#a2b2f1"/>
<rect x="530" y="145" width="8" height="3" fill="#8ca1ee"/>
<rect x="530" y="141" width="8" height="4" fill="#778feb"/>
<rect x="530" y="138" width="8" height="3" fill="#627ee8"/>
<rect x="530" y="134" width="8" height="4" fill="#5170e5"/>
<rect x="530" y="130" width="8" height="4" fill="#4365e3"/>
<rect x="530" y="127" width="8" height="3" fill="#3a5de2"/>
<rect x="530" y="123" width="8" height="4" fill="#3459e1"/>
<rect x="530" y="120" width="8" height="3" fill="#3357e1"/>
<rect x="530" y="116" width="8" height="4" fill="#3358e1"/>
<rect x="530" y="112" width="8" height="4" fill="#375be1"/>
<rect x="530" y="109" width="8" height="3" fill="#3f61e2"/>
<rect x="530" y="105" width="8" height="4" fill="#4a6be4"/>
<rect x="530" y="102" width="8" height="3" fill="#5a78e6"/>
<rect x="530" y="98" width="8" height="4" fill="#6e88e9"/>
<rect x="530" y="94" width="8" height="4" fill="#8399ed"/>
<rect x="530" y="91" width="8" height="3" fill="#99abf0"/>
<rect x="530" y="87" width="8" height="4" fill="#adbcf3"/>
<rect x="530" y="84" width="8" height="3" fill="#bfcbf6"/>
<rect x="530" y="80" width="8" height="4" fill="#cfd7f8"/>
<rect x="530" y="76" width="8" height="4" fill="#dbe1fa"/>
<rect x="530" y="73" width="8" height="3" fill="#e5e9fb"/>
<rect x="530" y="69" width="8" height="4" fill="#ecf0fc"/>
<rect x="530" y="66" width="8" height="3" fill="#f2f5fd"/>
<rect x="530" y="62" width="8" height="4" fill="#f7f8fe"/>
<rect x="530" y="58" width="8" height="4" fill="#fafbfe"/>
<rect x="538" y="181" width="8" height="4" fill="#fafbfe"/>
<rect x="538" y="177" width="8" height="4" fill="#f7f9fe"/>
<rect x="538" y="174" width="8" height="3" fill="#f3f5fd"/>
<rect x="538" y="170" width="8" height="4" fill="#edf0fc"/>
<rect x="538" y="166" width="8" height="4" fill="#e6eafb"/>
<rect x="538" y="163" width="8" height="3" fill="#dce2fa"/>
<rect x="538" y="159" width="8" height="4" fill="#d0d9f8"/>
<rect x="538" y="156" width="8" height="3" fill="#c1ccf6"/>
<rect x="538" y="152" width="8" height="4" fill="#afbdf3"/>
<rect x="538" y="148" width="8" height="4" fill="#9aacf0"/>
<rect x="538" y="145" width="8" height="3" fill="#849aed"/>
<rect x="538" y="141" width="8" height="4" fill="#6d87e9"/>
<rect x="538" y="138" width="8" height="3" fill="#5876e6"/>
<rect x="538" y="134" width="8" height="4" fill="#4768e4"/>
<rect x="538" y="130" width="8" height="4" fill="#3a5ee2"/>
<rect x="538" y="127" width="8" height="3" fill="#3257e0"/>
<rect x="538" y="123" width="8" height="4" fill="#2e53e0"/>
<rect x="538" y="120" width="8" height="3" fill="#2d52e0"/>
<rect x="538" y="116" width="8" height="4" fill="#2e53e0"/>
<rect x="538" y="112" width="8" height="4" fill="#3257e0"/>
<rect x="538" y="109" width="8" height="3" fill="#3a5de2"/>
<rect x="538" y="105" width="8" height="4" fill="#4768e4"/>
<rect x="538" y="102" width="8" height="3" fill="#5775e6"/>
<rect x="538" y="98" width="8" height="4" fill="#6c86e9"/>
<rect x="538" y="94" width="8" height="4" fill="#8299ec"/>
<rect x="538" y="91" width="8" height="3" fill="#99abf0"/>
<rect x="538" y="87" width="8" height="4" fill="#aebcf3"/>
<rect x="538" y="84" width="8" height="3" fill="#c0cbf6"/>
<rect x="538" y="80" width="8" height="4" fill="#cfd8f8"/>
<rect x="538" y="76" width="8" height="4" fill="#dce2fa"/>
<rect x="538" y="73" width="8" height="3" fill="#e5eafb"/>
<rect x="538" y="69" width="8" height="4" fill="#edf0fc"/>
<rect x="538" y="66" width="8" height="3" fill="#f3f5fd"/>
<rect x="538" y="62" width="8" height="4" fill="#f7f8fe"/>
<rect x="538" y="58" width="8" height="4" fill="#fafbfe"/>
<rect x="546" y="181" width="8" height="4" fill="#fafafe"/>
<rect x="546" y="177" width="8" height="4" fill="#f6f8fe"/>
<rect x="546" y="174" width="8" height="3" fill="#f2f4fd"/>
<rect x="546" y="170" width="8" height="4" fill="#eceffc"/>
<rect x="546" y="166" width="8" height="4" fill="#e4e9fb"/>
<rect x="546" y="163" width="8" height="3" fill="#d9e0f9"/>
<rect x="546" y="159" width="8" height="4" fill="#ccd5f7"/>
<rect x="546" y="156" width="8" height="3" fill="#bcc8f5"/>
<rect x="546" y="152" width="8" height="4" fill="#a9b8f2"/>
<rect x="546" y="148" width="8" height="4" fill="#93a6ef"/>
<rect x="546" y="145" width="8" height="3" fill="#7b93eb"/>
<rect x="546" y="141" width="8" height="4" fill="#6480e8"/>
<rect x="546" y="138" width="8" height="3" fill="#506fe5"/>
<rect x="546" y="134" width="8" height="4" fill="#3f61e2"/>
<rect x="546" y="130" width="8" height="4" fill="#3358e1"/>
<rect x="546" y="127" width="8" height="3" fill="#2c52e0"/>
<rect x="546" y="123" width="8" height="4" fill="#294fdf"/>
<rect x="546" y="120" width="8" height="3" fill="#284edf"/>
<rect x="546" y="116" width="8" height="4" fill="#2950df"/>
<rect x="546" y="112" width="8" height="4" fill="#2e53e0"/>
<rect x="546" y="109" width="8" height="3" fill="#375ae1"/>
<rect x="546" y="105" width="8" height="4" fill="#4465e3"/>
<rect x="546" y="102" width="8" height="3" fill="#5674e6"/>
<rect x="546" y="98" width="8" height="4" fill="#6b86e9"/>
<rect x="546" y="94" width="8" height="4" fill="#8299ec"/>
<rect x="546" y="91" width="8" height="3" fill="#99acf0"/>
<rect x="546" y="87" width="8" height="4" fill="#afbdf3"/>
<rect x="546" y="84" width="8" height="3" fill="#c1ccf6"/>
<rect x="546" y="80" width="8" height="4" fill="#d0d9f8"/>
<rect x="546" y="76" width="8" height="4" fill="#dde3fa"/>
<rect x="546" y="73" width="8" height="3" fill="#e6ebfb"/>
<rect x="546" y="69" width="8" height="4" fill="#eef1fc"/>
<rect x="546" y="66" width="8" height="3" fill="#f3f5fd"/>
<rect x="546" y="62" width="8" height="4" fill="#f7f9fe"/>
<rect x="546" y="58" width="8" height="4" fill="#fafbfe"/>
<rect x="554" y="181" width="9" height="4" fill="#f9fafe"/>
<rect x="554" y="177" width="9" height="4" fill="#f5f7fe"/>
<rect x="554" y="174" width="9" height="3" fill="#f1f3fd"/>
<rect x="554" y="170" width="9" height="4" fill="#eaeefc"/>
<rect x="554" y="166" width="9" height="4" fill="#e1e7fb"/>
<rect x="554" y="163" width="9" height="3" fill="#d6def9"/>
<rect x="554" y="159" width="9" height="4" fill="#c8d2f7"/>
<rect x="554" y="156" width="9" height="3" fill="#b7c4f4"/>
<rect x="554" y="152" width="9" height="4" fill="#a2b3f1"/>
<rect x="554" y="148" width="9" height="4" fill="#8ba0ee"/>
<rect x="554" y="145" width="9" height="3" fill="#738cea"/>
<rect x="554" y="141" width="9" height="4" fill="#5c79e7"/>
<rect x="554" y="138" width="9" height="3" fill="#4869e4"/>
<rect x="554" y="134" width="9" height="4" fill="#385ce1"/>
<rect x="554" y="130" width="9" height="4" fill="#2e53e0"/>
<rect x="554" y="127" width="9" height="3" fill="#274edf"/>
<rect x="554" y="123" width="9" height="4" fill="#254cde"/>
<rect x="554" y="120" width="9" height="3" fill="#244cde"/>
<rect x="554" y="116" width="9" height="4" fill="#264ddf"/>
<rect x="554" y="112" width="9" height="4" fill="#2b51df"/>
<rect x="554" y="109" width="9" height="3" fill="#3459e1"/>
<rect x="554" y="105" width="9" height="4" fill="#4264e3"/>
<rect x="554" y="102" width="9" height="3" fill="#5574e6"/>
<rect x="554" y="98" width="9" height="4" fill="#6b86e9"/>
<rect x="554" y="94" width="9" height="4" fill="#8399ed"/>
<rect x="554" y="91" width="9" height="3" fill="#9badf0"/>
<rect x="554" y="87" width="9" height="4" fill="#b0bef3"/>
<rect x="554" y="84" width="9" height="3" fill="#c3cef6"/>
<rect x="554" y="80" width="9" height="4" fill="#d2daf8"/>
<rect x="554" y="76" width="9" height="4" fill="#dee4fa"/>
<rect x="554" y="73" width="9" height="3" fill="#e7ebfb"/>
<rect x="554" y="69" width="9" height="4" fill="#eef1fd"/>
<rect x="554" y="66" width="9" height="3" fill="#f4f6fd"/>
<rect x="554" y="62" width="9" height="4" fill="#f8f9fe"/>
<rect x="563" y="181" width="8" height="4" fill="#f8f9fe"/>
<rect x="563" y="177" width="8" height="4" fill="#f4f6fd"/>
<rect x="563" y="174" width="8" height="3" fill="#eff2fd"/>
<rect x="563" y="170" width="8" height="4" fill="#e8ecfc"/>
<rect x="563" y="166" width="8" height="4" fill="#dfe5fa"/>
<rect x="563" y="163" width="8" height="3" fill="#d3dbf8"/>
<rect x="563" y="159" width="8" height="4" fill="#c4cff6"/>
<rect x="563" y="156" width="8" height="3" fill="#b2c0f4"/>
<rect x="563" y="152" width="8" height="4" fill="#9caef0"/>
<rect x="563" y="148" width="8" height="4" fill="#849aed"/>
<rect x="563" y="145" width="8" height="3" fill="#6b86e9"/>
<rect x="563" y="141" width="8" height="4" fill="#5573e6"/>
<rect x="563" y="138" width="8" height="3" fill="#4163e3"/>
<rect x="563" y="134" width="8" height="4" fill="#3357e1"/>
<rect x="563" y="130" width="8" height="4" fill="#294fdf"/>
<rect x="563" y="127" width="8" height="3" fill="#244bde"/>
<rect x="563" y="123" width="8" height="4" fill="#224ade"/>
<rect x="563" y="120" width="8" height="3" fill="#224ade"/>
<rect x="563" y="116" width="8" height="4" fill="#244bde"/>
<rect x="563" y="112" width="8" height="4" fill="#2a50df"/>
<rect x="563" y="109" width="8" height="3" fill="#3358e1"/>
<rect x="563" y="105" width="8" height="4" fill="#4264e3"/>
<rect x="563" y="102" width="8" height="3" fill="#5674e6"/>
<rect x="563" y="98" width="8" height="4" fill="#6d87e9"/>
<rect x="563" y="94" width="8" height="4" fill="#859bed"/>
<rect x="563" y="91" width="8" height="3" fill="#9daff0"/>
<rect x="563" y="87" width="8" height="4" fill="#b3c0f4"/>
<rect x="563" y="84" width="8" height="3" fill="#c5cff6"/>
<rect x="563" y="80" width="8" height="4" fill="#d4dbf9"/>
<rect x="563" y="76" width="8" height="4" fill="#dfe5fa"/>
<rect x="563" y="73" width="8" height="3" fill="#e8ecfc"/>
<rect x="563" y="69" width="8" height="4" fill="#eff2fd"/>
<rect x="563" y="66" width="8" height="3" fill="#f5f6fd"/>
<rect x="563" y="62" width="8" height="4" fill="#f8f9fe"/>
<rect x="571" y="181" width="8" height="4" fill="#f8f9fe"/>
<rect x="571" y="177" width="8" height="4" fill="#f3f6fd"/>
<rect x="571" y="174" width="8" height="3" fill="#eef1fc"/>
<rect x="571" y="170" width="8" height="4" fill="#e6ebfb"/>
<rect x="571" y="166" width="8" height="4" fill="#dde3fa"/>
<rect x="571" y="163" width="8" height="3" fill="#d0d9f8"/>
<rect x="571" y="159" width="8" height="4" fill="#c0ccf6"/>
<rect x="571" y="156" width="8" height="3" fill="#adbcf3"/>
<rect x="571" y="152" width="8" height="4" fill="#96a9ef"/>
<rect x="571" y="148" width="8" height="4" fill="#7d95ec"/>
<rect x="571" y="145" width="8" height="3" fill="#6580e8"/>
<rect x="571" y="141" width="8" height="4" fill="#4e6ee5"/>
<rect x="571" y="138" width="8" height="3" fill="#3c5fe2"/>
<rect x="571" y="134" width="8" height="4" fill="#2e54e0"/>
<rect x="571" y="130" width="8" height="4" fill="#264ddf"/>
<rect x="571" y="127" width="8" height="3" fill="#2249de"/>
<rect x="571" y="123" width="8" height="4" fill="#2148de"/>
<rect x="571" y="120" width="8" height="3" fill="#2149de"/>
<rect x="571" y="116" width="8" height="4" fill="#234ade"/>
<rect x="571" y="112" width="8" height="4" fill="#294fdf"/>
<rect x="571" y="109" width="8" height="3" fill="#3458e1"/>
<rect x="571" y="105" width="8" height="4" fill="#4365e3"/>
<rect x="571" y="102" width="8" height="3" fill="#5875e6"/>
<rect x="571" y="98" width="8" height="4" fill="#6f89ea"/>
<rect x="571" y="94" width="8" height="4" fill="#889ded"/>
<rect x="571" y="91" width="8" height="3" fill="#a0b1f1"/>
<rect x="571" y="87" width="8" height="4" fill="#b5c3f4"/>
<rect x="571" y="84" width="8" height="3" fill="#c7d1f7"/>
<rect x="571" y="80" width="8" height="4" fill="#d6ddf9"/>
<rect x="571" y="76" width="8" height="4" fill="#e1e6fb"/>
<rect x="571" y="73" width="8" height="3" fill="#eaedfc"/>
<rect x="571" y="69" width="8" height="4" fill="#f0f3fd"/>
<rect x="571" y="66" width="8" height="3" fill="#f5f7fe"/>
<rect x="571" y="62" width="8" height="4" fill="#f9fafe"/>
<rect x="579" y="185" width="9" height="3" fill="#fafbfe"/>
<rect x="579" y="181" width="9" height="4" fill="#f7f8fe"/>
<rect x="579" y="177" width="9" height="4" fill="#f2f5fd"/>
<rect x="579" y="174" width="9" height="3" fill="#edf0fc"/>
<rect x="579" y="170" width="9" height="4" fill="#e5e9fb"/>
<rect x="579" y="166" width="9" height="4" fill="#dae1fa"/>
<rect x="579" y="163" width="9" height="3" fill="#cdd6f8"/>
<rect x="579" y="159" width="9" height="4" fill="#bcc8f5"/>
<rect x="579" y="156" width="9" height="3" fill="#a8b8f2"/>
<rect x="579" y="152" width="9" height="4" fill="#90a4ef"/>
<rect x="579" y="148" width="9" height="4" fill="#7790eb"/>
<rect x="579" y="145" width="9" height="3" fill="#5f7be7"/>
<rect x="579" y="141" width="9" height="4" fill="#4969e4"/>
<rect x="579" y="138" width="9" height="3" fill="#375be1"/>
<rect x="579" y="134" width="9" height="4" fill="#2b51df"/>
<rect x="579" y="130" width="9" height="4" fill="#244bde"/>
<rect x="579" y="127" width="9" height="3" fill="#2148de"/>
<rect x="579" y="123" width="9" height="4" fill="#2048de"/>
<rect x="579" y="120" width="9" height="3" fill="#2048de"/>
<rect x="579" y="116" width="9" height="4" fill="#234ade"/>
<rect x="579" y="112" width="9" height="4" fill="#2950df"/>
<rect x="579" y="109" width="9" height="3" fill="#3559e1"/>
<rect x="579" y="105" width="9" height="4" fill="#4566e3"/>
<rect x="579" y="102" width="9" height="3" fill="#5a78e6"/>
<rect x="579" y="98" width="9" height="4" fill="#738cea"/>
<rect x="579" y="94" width="9" height="4" fill="#8ca0ee"/>
<rect x="579" y="91" width="9" height="3" fill="#a4b4f1"/>
<rect x="579" y="87" width="9" height="4" fill="#b9c5f5"/>
<rect x="579" y="84" width="9" height="3" fill="#cad3f7"/>
<rect x="579" y="80" width="9" height="4" fill="#d8dff9"/>
<rect x="579" y="76" width="9" height="4" fill="#e3e8fb"/>
<rect x="579" y="73" width="9" height="3" fill="#ebeefc"/>
<rect x="579" y="69" width="9" height="4" fill="#f1f4fd"/>
<rect x="579" y="66" width="9" height="3" fill="#f6f8fe"/>
<rect x="579" y="62" width="9" height="4" fill="#f9fafe"/>
<rect x="588" y="185" width="8" height="3" fill="#f9fafe"/>
<rect x="588" y="181" width="8" height="4" fill="#f6f8fe"/>
<rect x="588" y="177" width="8" height="4" fill="#f1f4fd"/>
<rect x="588" y="174" width="8" height="3" fill="#ebeffc"/>
<rect x="588" y="170" width="8" height="4" fill="#e3e8fb"/>
<rect x="588" y="166" width="8" height="4" fill="#d8dff9"/>
<rect x="588" y="163" width="8" height="3" fill="#cad3f7"/>
<rect x="588" y="159" width="8" height="4" fill="#b8c5f4"/>
<rect x="588" y="156" width="8" height="3" fill="#a3b4f1"/>
<rect x="588" y="152" width="8" height="4" fill="#8ba0ee"/>
<rect x="588" y="148" width="8" height="4" fill="#728bea"/>
<rect x="588" y="145" width="8" height="3" fill="#5977e6"/>
<rect x="588" y="141" width="8" height="4" fill="#4466e3"/>
<rect x="588" y="138" width="8" height="3" fill="#3458e1"/>
<rect x="588" y="134" width="8" height="4" fill="#294fdf"/>
<rect x="588" y="130" width="8" height="4" fill="#234ade"/>
<rect x="588" y="127" width="8" height="3" fill="#2048de"/>
<rect x="588" y="123" width="8" height="4" fill="#2048de"/>
<rect x="588" y="120" width="8" height="3" fill="#2048de"/>
<rect x="588" y="116" width="8" height="4" fill="#244bde"/>
<rect x="588" y="112" width="8" height="4" fill="#2b51df"/>
<rect x="588" y="109" width="8" height="3" fill="#375be1"/>
<rect x="588" y="105" width="8" height="4" fill="#4869e4"/>
<rect x="588" y="102" width="8" height="3" fill="#5e7be7"/>
<rect x="588" y="98" width="8" height="4" fill="#778feb"/>
<rect x="588" y="94" width="8" height="4" fill="#90a4ee"/>
<rect x="588" y="91" width="8" height="3" fill="#a8b7f2"/>
<rect x="588" y="87" width="8" height="4" fill="#bcc8f5"/>
<rect x="588" y="84" width="8" height="3" fill="#cdd6f8"/>
<rect x="588" y="80" width="8" height="4" fill="#dae1f9"/>
<rect x="588" y="76" width="8" height="4" fill="#e4e9fb"/>
<rect x="588" y="73" width="8" height="3" fill="#ecf0fc"/>
<rect x="588" y="69" width="8" height="4" fill="#f2f5fd"/>
<rect x="588" y="66" width="8" height="3" fill="#f7f8fe"/>
<rect x="588" y="62" width="8" height="4" fill="#fafbfe"/>
<rect x="596" y="185" width="8" height="3" fill="#f9fafe"/>
<rect x="596" y="181" width="8" height="4" fill="#f5f7fe"/>
<rect x="596" y="177" width="8" height="4" fill="#f0f3fd"/>
<rect x="596" y="174" width="8" height="3" fill="#eaedfc"/>
<rect x="596" y="170" width="8" height="4" fill="#e1e6fb"/>
<rect x="596" y="166" width="8" height="4" fill="#d5ddf9"/>
<rect x="596" y="163" width="8" height="3" fill="#c7d1f7"/>
<rect x="596" y="159" width="8" height="4" fill="#b5c2f4"/>
<rect x="596" y="156" width="8" height="3" fill="#9fb0f1"/>
<rect x="596" y="152" width="8" height="4" fill="#869ced"/>
<rect x="596" y="148" width="8" height="4" fill="#6d87e9"/>
<rect x="596" y="145" width="8" height="3" fill="#5573e6"/>
<rect x="596" y="141" width="8" height="4" fill="#4163e3"/>
<rect x="596" y="138" width="8" height="3" fill="#3156e0"/>
<rect x="596" y="134" width="8" height="4" fill="#274edf"/>
<rect x="596" y="130" width="8" height="4" fill="#2249de"/>
<rect x="596" y="127" width="8" height="3" fill="#2048de"/>
<rect x="596" y="123" width="8" height="4" fill="#2048de"/>
<rect x="596" y="120" width="8" height="3" fill="#2149de"/>
<rect x="596" y="116" width="8" height="4" fill="#254cde"/>
<rect x="596" y="112" width="8" height="4" fill="#2d52e0"/>
<rect x="596" y="109" width="8" height="3" fill="#3a5de2"/>
<rect x="596" y="105" width="8" height="4" fill="#4c6ce4"/>
<rect x="596" y="102" width="8" height="3" fill="#637fe8"/>
<rect x="596" y="98" width="8" height="4" fill="#7c93eb"/>
<rect x="596" y="94" width="8" height="4" fill="#95a8ef"/>
<rect x="596" y="91" width="8" height="3" fill="#acbbf3"/>
<rect x="596" y="87" width="8" height="4" fill="#c0cbf6"/>
<rect x="596" y="84" width="8" height="3" fill="#d0d8f8"/>
<rect x="596" y="80" width="8" height="4" fill="#dce3fa"/>
<rect x="596" y="76" width="8" height="4" fill="#e6ebfb"/>
<rect x="596" y="73" width="8" height="3" fill="#eef1fc"/>
<rect x="596" y="69" width="8" height="4" fill="#f3f5fd"/>
<rect x="596" y="66" width="8" height="3" fill="#f7f9fe"/>
<rect x="596" y="62" width="8" height="4" fill="#fafbfe"/>
<rect x="604" y="185" width="8" height="3" fill="#f8f9fe"/>
<rect x="604" y="181" width="8" height="4" fill="#f4f6fd"/>
<rect x="604" y="177" width="8" height="4" fill="#eff2fd"/>
<rect x="604" y="174" width="8" height="3" fill="#e8ecfc"/>
<rect x="604" y="170" width="8" height="4" fill="#dfe5fa"/>
<rect x="604" y="166" width="8" height="4" fill="#d3dbf8"/>
<rect x="604" y="163" width="8" height="3" fill="#c4cef6"/>
<rect x="604" y="159" width="8" height="4" fill="#b1bff3"/>
<rect x="604" y="156" width="8" height="3" fill="#9aacf0"/>
<rect x="604" y="152" width="8" height="4" fill="#8298ec"/>
<rect x="604" y="148" width="8" height="4" fill="#6984e9"/>
<rect x="604" y="145" width="8" height="3" fill="#5170e5"/>
<rect x="604" y="141" width="8" height="4" fill="#3e60e2"/>
<rect x="604" y="138" width="8" height="3" fill="#3055e0"/>
<rect x="604" y="134" width="8" height="4" fill="#274ddf"/>
<rect x="604" y="130" width="8" height="4" fill="#2249de"/>
<rect x="604" y="127" width="8" height="3" fill="#2048de"/>
<rect x="604" y="123" width="8" height="4" fill="#2048de"/>
<rect x="604" y="120" width="8" height="3" fill="#2249de"/>
<rect x="604" y="116" width="8" height="4" fill="#264ddf"/>
<rect x="604" y="112" width="8" height="4" fill="#3055e0"/>
<rect x="604" y="109" width="8" height="3" fill="#3e60e2"/>
<rect x="604" y="105" width="8" height="4" fill="#5170e5"/>
<rect x="604" y="102" width="8" height="3" fill="#6883e9"/>
<rect x="604" y="98" width="8" height="4" fill="#8298ec"/>
<rect x="604" y="94" width="8" height="4" fill="#9aacf0"/>
<rect x="604" y="91" width="8" height="3" fill="#b1bff3"/>
<rect x="604" y="87" width="8" height="4" fill="#c3cef6"/>
<rect x="604" y="84" width="8" height="3" fill="#d3dbf8"/>
<rect x="604" y="80" width="8" height="4" fill="#dfe4fa"/>
<rect x="604" y="76" width="8" height="4" fill="#e8ecfc"/>
<rect x="604" y="73" width="8" height="3" fill="#eff2fd"/>
<rect x="604" y="69" width="8" height="4" fill="#f4f6fd"/>
<rect x="604" y="66" width="8" height="3" fill="#f8f9fe"/>
<rect x="612" y="185" width="9" height="3" fill="#f8f9fe"/>
<rect x="612" y="181" width="9" height="4" fill="#f4f6fd"/>
<rect x="612" y="177" width="9" height="4" fill="#eef1fc"/>
<rect x="612" y="174" width="9" height="3" fill="#e7ebfb"/>
<rect x="612" y="170" width="9" height="4" fill="#dde3fa"/>
<rect x="612" y="166" width="9" height="4" fill="#d1d9f8"/>
<rect x="612" y="163" width="9" height="3" fill="#c1ccf6"/>
<rect x="612" y="159" width="9" height="4" fill="#adbcf3"/>
<rect x="612" y="156" width="9" height="3" fill="#97a9ef"/>
<rect x="612" y="152" width="9" height="4" fill="#7e95ec"/>
<rect x="612" y="148" width="9" height="4" fill="#6581e8"/>
<rect x="612" y="145" width="9" height="3" fill="#4f6ee5"/>
<rect x="612" y="141" width="9" height="4" fill="#3c5fe2"/>
<rect x="612" y="138" width="9" height="3" fill="#2f54e0"/>
<rect x="612" y="134" width="9" height="4" fill="#274ddf"/>
<rect x="612" y="130" width="9" height="4" fill="#234ade"/>
<rect x="612" y="127" width="9" height="3" fill="#2149de"/>
<rect x="612" y="123" width="9" height="4" fill="#2249de"/>
<rect x="612" y="120" width="9" height="3" fill="#244bde"/>
<rect x="612" y="116" width="9" height="4" fill="#294fdf"/>
<rect x="612" y="112" width="9" height="4" fill="#3358e1"/>
<rect x="612" y="109" width="9" height="3" fill="#4364e3"/>
<rect x="612" y="105" width="9" height="4" fill="#5775e6"/>
<rect x="612" y="102" width="9" height="3" fill="#6f89ea"/>
<rect x="612" y="98" width="9" height="4" fill="#889ded"/>
<rect x="612" y="94" width="9" height="4" fill="#a0b1f1"/>
<rect x="612" y="91" width="9" height="3" fill="#b5c3f4"/>
<rect x="612" y="87" width="9" height="4" fill="#c7d1f7"/>
<rect x="612" y="84" width="9" height="3" fill="#d6ddf9"/>
<rect x="612" y="80" width="9" height="4" fill="#e1e6fb"/>
<rect x="612" y="76" width="9" height="4" fill="#eaeefc"/>
<rect x="612" y="73" width="9" height="3" fill="#f0f3fd"/>
<rect x="612" y="69" width="9" height="4" fill="#f5f7fe"/>
<rect x="612" y="66" width="9" height="3" fill="#f9fafe"/>
<rect x="621" y="188" width="8" height="4" fill="#fafbfe"/>
<rect x="621" y="185" width="8" height="3" fill="#f7f8fe"/>
<rect x="621" y="181" width="8" height="4" fill="#f3f5fd"/>
<rect x="621" y="177" width="8" height="4" fill="#edf0fc"/>
<rect x="621" y="174" width="8" height="3" fill="#e5eafb"/>
<rect x="621" y="170" width="8" height="4" fill="#dbe2fa"/>
<rect x="621" y="166" width="8" height="4" fill="#ced7f8"/>
<rect x="621" y="163" width="8" height="3" fill="#becaf5"/>
<rect x="621" y="159" width="8" height="4" fill="#aab9f2"/>
<rect x="621" y="156" width="8" height="3" fill="#94a7ef"/>
<rect x="621" y="152" width="8" height="4" fill="#7b93eb"/>
<rect x="621" y="148" width="8" height="4" fill="#637fe8"/>
<rect x="621" y="145" width="8" height="3" fill="#4d6de5"/>
<rect x="621" y="141" width="8" height="4" fill="#3c5fe2"/>
<rect x="621" y="138" width="8" height="3" fill="#2f54e0"/>
<rect x="621" y="134" width="8" height="4" fill="#274edf"/>
<rect x="621" y="130" width="8" height="4" fill="#244bde"/>
<rect x="621" y="127" width="8" height="3" fill="#234ade"/>
<rect x="621" y="123" width="8" height="4" fill="#234bde"/>
<rect x="621" y="120" width="8" height="3" fill="#264ddf"/>
<rect x="621" y="116" width="8" height="4" fill="#2d52e0"/>
<rect x="621" y="112" width="8" height="4" fill="#385ce1"/>
<rect x="621" y="109" width="8" height="3" fill="#4969e4"/>
<rect x="621" y="105" width="8" height="4" fill="#5e7be7"/>
<rect x="621" y="102" width="8" height="3" fill="#768eeb"/>
<rect x="621" y="98" width="8" height="4" fill="#8fa3ee"/>
<rect x="621" y="94" width="8" height="4" fill="#a6b6f2"/>
<rect x="621" y="91" width="8" height="3" fill="#bac7f5"/>
<rect x="621" y="87" width="8" height="4" fill="#cbd5f7"/>
<rect x="621" y="84" width="8" height="3" fill="#d9e0f9"/>
<rect x="621" y="80" width="8" height="4" fill="#e3e8fb"/>
<rect x="621" y="76" width="8" height="4" fill="#eceffc"/>
<rect x="621" y="73" width="8" height="3" fill="#f2f4fd"/>
<rect x="621" y="69" width="8" height="4" fill="#f6f8fe"/>
<rect x="621" y="66" width="8" height="3" fill="#fafafe"/>
<rect x="629" y="188" width="8" height="4" fill="#fafbfe"/>
<rect x="629" y="185" width="8" height="3" fill="#f6f8fe"/>
<rect x="629" y="181" width="8" height="4" fill="#f2f4fd"/>
<rect x="629" y="177" width="8" height="4" fill="#eceffc"/>
<rect x="629" y="174" width="8" height="3" fill="#e4e9fb"/>
<rect x="629" y="170" width="8" height="4" fill="#d9e0f9"/>
<rect x="629" y="166" width="8" height="4" fill="#ccd5f7"/>
<rect x="629" y="163" width="8" height="3" fill="#bcc8f5"/>
<rect x="629" y="159" width="8" height="4" fill="#a8b7f2"/>
<rect x="629" y="156" width="8" height="3" fill="#91a5ef"/>
<rect x="629" y="152" width="8" height="4" fill="#7991eb"/>
<rect x="629" y="148" width="8" height="4" fill="#617ee8"/>
<rect x="629" y="145" width="8" height="3" fill="#4d6ce4"/>
<rect x="629" y="141" width="8" height="4" fill="#3c5fe2"/>
<rect x="629" y="138" width="8" height="3" fill="#3055e0"/>
<rect x="629" y="134" width="8" height="4" fill="#294fdf"/>
<rect x="629" y="130" width="8" height="4" fill="#264ddf"/>
<rect x="629" y="127" width="8" height="3" fill="#254cdf"/>
<rect x="629" y="123" width="8" height="4" fill="#264ddf"/>
<rect x="629" y="120" width="8" height="3" fill="#2a50df"/>
<rect x="629" y="116" width="8" height="4" fill="#3257e0"/>
<rect x="629" y="112" width="8" height="4" fill="#3f61e2"/>
<rect x="629" y="109" width="8" height="3" fill="#506fe5"/>
<rect x="629" y="105" width="8" height="4" fill="#6681e8"/>
<rect x="629" y="102" width="8" height="3" fill="#7e95ec"/>
<rect x="629" y="98" width="8" height="4" fill="#96a8ef"/>
<rect x="629" y="94" width="8" height="4" fill="#acbbf3"/>
<rect x="629" y="91" width="8" height="3" fill="#bfcbf6"/>
<rect x="629" y="87" width="8" height="4" fill="#cfd8f8"/>
<rect x="629" y="84" width="8" height="3" fill="#dce2fa"/>
<rect x="629" y="80" width="8" height="4" fill="#e6eafb"/>
<rect x="629" y="76" width="8" height="4" fill="#edf0fc"/>
<rect x="629" y="73" width="8" height="3" fill="#f3f5fd"/>
<rect x="629" y="69" width="8" height="4" fill="#f7f9fe"/>
<rect x="629" y="66" width="8" height="3" fill="#fafbfe"/>
<rect x="637" y="188" width="9" height="4" fill="#f9fafe"/>
<rect x="637" y="185" width="9" height="3" fill="#f6f7fe"/>
<rect x="637" y="181" width="9" height="4" fill="#f1f4fd"/>
<rect x="637" y="177" width="9" height="4" fill="#ebeefc"/>
<rect x="637" y="174" width="9" height="3" fill="#e2e7fb"/>
<rect x="637" y="170" width="9" height="4" fill="#d8dff9"/>
<rect x="637" y="166" width="9" height="4" fill="#cad4f7"/>
<rect x="637" y="163" width="9" height="3" fill="#b9c6f5"/>
<rect x="637" y="159" width="9" height="4" fill="#a6b6f2"/>
<rect x="637" y="156" width="9" height="3" fill="#8fa3ee"/>
<rect x="637" y="152" width="9" height="4" fill="#7890eb"/>
<rect x="637" y="148" width="9" height="4" fill="#617de7"/>
<rect x="637" y="145" width="9" height="3" fill="#4d6de4"/>
<rect x="637" y="141" width="9" height="4" fill="#3d60e2"/>
<rect x="637" y="138" width="9" height="3" fill="#3257e0"/>
<rect x="637" y="134" width="9" height="4" fill="#2c51e0"/>
<rect x="637" y="130" width="9" height="4" fill="#294fdf"/>
<rect x="637" y="127" width="9" height="3" fill="#284fdf"/>
<rect x="637" y="123" width="9" height="4" fill="#2a50df"/>
<rect x="637" y="120" width="9" height="3" fill="#2f54e0"/>
<rect x="637" y="116" width="9" height="4" fill="#385ce1"/>
<rect x="637" y="112" width="9" height="4" fill="#4667e3"/>
<rect x="637" y="109" width="9" height="3" fill="#5876e6"/>
<rect x="637" y="105" width="9" height="4" fill="#6e88e9"/>
<rect x="637" y="102" width="9" height="3" fill="#869bed"/>
<rect x="637" y="98" width="9" height="4" fill="#9daff0"/>
<rect x="637" y="94" width="9" height="4" fill="#b2c0f4"/>
<rect x="637" y="91" width="9" height="3" fill="#c4cff6"/>
<rect x="637" y="87" width="9" height="4" fill="#d3dbf8"/>
<rect x="637" y="84" width="9" height="3" fill="#dfe5fa"/>
<rect x="637" y="80" width="9" height="4" fill="#e8ecfc"/>
<rect x="637" y="76" width="9" height="4" fill="#eff2fd"/>
<rect x="637" y="73" width="9" height="3" fill="#f4f6fd"/>
<rect x="637" y="69" width="9" height="4" fill="#f8f9fe"/>
<rect x="646" y="188" width="8" height="4" fill="#f9fafe"/>
<rect x="646" y="185" width="8" height="3" fill="#f5f7fe"/>
<rect x="646" y="181" width="8" height="4" fill="#f0f3fd"/>
<rect x="646" y="177" width="8" height="4" fill="#eaedfc"/>
<rect x="646" y="174" width="8" height="3" fill="#e1e6fb"/>
<rect x="646" y="170" width="8" height="4" fill="#d6ddf9"/>
<rect x="646" y="166" width="8" height="4" fill="#c8d2f7"/>
<rect x="646" y="163" width="8" height="3" fill="#b8c4f4"/>
<rect x="646" y="159" width="8" height="4" fill="#a4b4f1"/>
<rect x="646" y="156" width="8" height="3" fill="#8ea2ee"/>
<rect x="646" y="152" width="8" height="4" fill="#778feb"/>
<rect x="646" y="148" width="8" height="4" fill="#617de8"/>
<rect x="646" y="145" width="8" height="3" fill="#4e6ee5"/>
<rect x="646" y="141" width="8" height="4" fill="#4062e2"/>
<rect x="646" y="138" width="8" height="3" fill="#3559e1"/>
<rect x="646" y="134" width="8" height="4" fill="#2f54e0"/>
<rect x="646" y="130" width="8" height="4" fill="#2d52e0"/>
<rect x="646" y="127" width="8" height="3" fill="#2d52e0"/>
<rect x="646" y="123" width="8" height="4" fill="#2f54e0"/>
<rect x="646" y="120" width="8" height="3" fill="#3559e1"/>
<rect x="646" y="116" width="8" height="4" fill="#3f62e2"/>
<rect x="646" y="112" width="8" height="4" fill="#4e6ee5"/>
<rect x="646" y="109" width="8" height="3" fill="#617de8"/>
<rect x="646" y="105" width="8" height="4" fill="#7790eb"/>
<rect x="646" y="102" width="8" height="3" fill="#8ea2ee"/>
<rect x="646" y="98" width="8" height="4" fill="#a5b5f2"/>
<rect x="646" y="94" width="8" height="4" fill="#b9c5f5"/>
<rect x="646" y="91" width="8" height="3" fill="#c9d3f7"/>
<rect x="646" y="87" width="8" height="4" fill="#d7def9"/>
<rect x="646" y="84" width="8" height="3" fill="#e2e7fb"/>
<rect x="646" y="80" width="8" height="4" fill="#eaeefc"/>
<rect x="646" y="76" width="8" height="4" fill="#f1f3fd"/>
<rect x="646" y="73" width="8" height="3" fill="#f6f7fe"/>
<rect x="646" y="69" width="8" height="4" fill="#f9fafe"/>
<rect x="654" y="188" width="8" height="4" fill="#f8f9fe"/>
<rect x="654" y="185" width="8" height="3" fill="#f4f6fd"/>
<rect x="654" y="181" width="8" height="4" fill="#eff2fd"/>
<rect x="654" y="177" width="8" height="4" fill="#e9edfc"/>
<rect x="654" y="174" width="8" height="3" fill="#e0e5fa"/>
<rect x="654" y="170" width="8" height="4" fill="#d5dcf9"/>
<rect x="654" y="166" width="8" height="4" fill="#c7d1f7"/>
<rect x="654" y="163" width="8" height="3" fill="#b6c3f4"/>
<rect x="654" y="159" width="8" height="4" fill="#a3b3f1"/>
<rect x="654" y="156" width="8" height="3" fill="#8ea2ee"/>
<rect x="654" y="152" width="8" height="4" fill="#7890eb"/>
<rect x="654" y="148" width="8" height="4" fill="#637fe8"/>
<rect x="654" y="145" width="8" height="3" fill="#5170e5"/>
<rect x="654" y="141" width="8" height="4" fill="#4365e3"/>
<rect x="654" y="138" width="8" height="3" fill="#395de2"/>
<rect x="654" y="134" width="8" height="4" fill="#3458e1"/>
<rect x="654" y="130" width="8" height="4" fill="#3256e0"/>
<rect x="654" y="127" width="8" height="3" fill="#3257e0"/>
<rect x="654" y="123" width="8" height="4" fill="#3559e1"/>
<rect x="654" y="120" width="8" height="3" fill="#3d5fe2"/>
<rect x="654" y="116" width="8" height="4" fill="#4869e4"/>
<rect x="654" y="112" width="8" height="4" fill="#5876e6"/>
<rect x="654" y="109" width="8" height="3" fill="#6b86e9"/>
<rect x="654" y="105" width="8" height="4" fill="#8197ec"/>
<rect x="654" y="102" width="8" height="3" fill="#97aaf0"/>
<rect x="654" y="98" width="8" height="4" fill="#acbbf3"/>
<rect x="654" y="94" width="8" height="4" fill="#bfcaf5"/>
<rect x="654" y="91" width="8" height="3" fill="#ced7f8"/>
<rect x="654" y="87" width="8" height="4" fill="#dbe1fa"/>
<rect x="654" y="84" width="8" height="3" fill="#e5e9fb"/>
<rect x="654" y="80" width="8" height="4" fill="#edf0fc"/>
<rect x="654" y="76" width="8" height="4" fill="#f2f5fd"/>
<rect x="654" y="73" width="8" height="3" fill="#f7f8fe"/>
<rect x="654" y="69" width="8" height="4" fill="#fafbfe"/>
<rect x="662" y="188" width="8" height="4" fill="#f8f9fe"/>
<rect x="662" y="185" width="8" height="3" fill="#f4f6fd"/>
<rect x="662" y="181" width="8" height="4" fill="#eff1fd"/>
<rect x="662" y="177" width="8" height="4" fill="#e8ecfc"/>
<rect x="662" y="174" width="8" height="3" fill="#dfe4fa"/>
<rect x="662" y="170" width="8" height="4" fill="#d3dbf9"/>
<rect x="662" y="166" width="8" height="4" fill="#c6d0f6"/>
<rect x="662" y="163" width="8" height="3" fill="#b5c3f4"/>
<rect x="662" y="159" width="8" height="4" fill="#a2b3f1"/>
<rect x="662" y="156" width="8" height="3" fill="#8ea2ee"/>
<rect x="662" y="152" width="8" height="4" fill="#7991eb"/>
<rect x="662" y="148" width="8" height="4" fill="#6581e8"/>
<rect x="662" y="145" width="8" height="3" fill="#5473e6"/>
<rect x="662" y="141" width="8" height="4" fill="#4768e4"/>
<rect x="662" y="138" width="8" height="3" fill="#3f61e2"/>
<rect x="662" y="134" width="8" height="4" fill="#3a5de2"/>
<rect x="662" y="130" width="8" height="4" fill="#385ce1"/>
<rect x="662" y="127" width="8" height="3" fill="#395ce2"/>
<rect x="662" y="123" width="8" height="4" fill="#3d60e2"/>
<rect x="662" y="120" width="8" height="3" fill="#4566e3"/>
<rect x="662" y="116" width="8" height="4" fill="#5271e5"/>
<rect x="662" y="112" width="8" height="4" fill="#627ee8"/>
<rect x="662" y="109" width="8" height="3" fill="#758eeb"/>
<rect x="662" y="105" width="8" height="4" fill="#8b9fee"/>
<rect x="662" y="102" width="8" height="3" fill="#a0b1f1"/>
<rect x="662" y="98" width="8" height="4" fill="#b4c1f4"/>
<rect x="662" y="94" width="8" height="4" fill="#c5cff6"/>
<rect x="662" y="91" width="8" height="3" fill="#d3dbf8"/>
<rect x="662" y="87" width="8" height="4" fill="#dee4fa"/>
<rect x="662" y="84" width="8" height="3" fill="#e8ecfc"/>
<rect x="662" y="80" width="8" height="4" fill="#eff2fd"/>
<rect x="662" y="76" width="8" height="4" fill="#f4f6fd"/>
<rect x="662" y="73" width="8" height="3" fill="#f8f9fe"/>
<rect x="670" y="192" width="9" height="3" fill="#fafbfe"/>
<rect x="670" y="188" width="9" height="4" fill="#f7f9fe"/>
<rect x="670" y="185" width="9" height="3" fill="#f3f5fd"/>
<rect x="670" y="181" width="9" height="4" fill="#eef1fc"/>
<rect x="670" y="177" width="9" height="4" fill="#e7ebfb"/>
<rect x="670" y="174" width="9" height="3" fill="#dee4fa"/>
<rect x="670" y="170" width="9" height="4" fill="#d2daf8"/>
<rect x="670" y="166" width="9" height="4" fill="#c5cff6"/>
<rect x="670" y="163" width="9" height="3" fill="#b5c2f4"/>
<rect x="670" y="159" width="9" height="4" fill="#a3b3f1"/>
<rect x="670" y="156" width="9" height="3" fill="#8fa3ee"/>
<rect x="670" y="152" width="9" height="4" fill="#7b93eb"/>
<rect x="670" y="148" width="9" height="4" fill="#6984e9"/>
<rect x="670" y="145" width="9" height="3" fill="#5977e6"/>
<rect x="670" y="141" width="9" height="4" fill="#4d6de5"/>
<rect x="670" y="138" width="9" height="3" fill="#4566e3"/>
<rect x="670" y="134" width="9" height="4" fill="#4163e3"/>
<rect x="670" y="130" width="9" height="4" fill="#3f62e2"/>
<rect x="670" y="127" width="9" height="3" fill="#4163e3"/>
<rect x="670" y="123" width="9" height="4" fill="#4667e3"/>
<rect x="670" y="120" width="9" height="3" fill="#4f6fe5"/>
<rect x="670" y="116" width="9" height="4" fill="#5c79e7"/>
<rect x="670" y="112" width="9" height="4" fill="#6d87e9"/>
<rect x="670" y="109" width="9" height="3" fill="#8097ec"/>
<rect x="670" y="105" width="9" height="4" fill="#95a8ef"/>
<rect x="670" y="102" width="9" height="3" fill="#a9b8f2"/>
<rect x="670" y="98" width="9" height="4" fill="#bbc7f5"/>
<rect x="670" y="94" width="9" height="4" fill="#cad4f7"/>
<rect x="670" y="91" width="9" height="3" fill="#d7dff9"/>
<rect x="670" y="87" width="9" height="4" fill="#e2e7fb"/>
<rect x="670" y="84" width="9" height="3" fill="#eaeefc"/>
<rect x="670" y="80" width="9" height="4" fill="#f1f3fd"/>
<rect x="670" y="76" width="9" height="4" fill="#f5f7fe"/>
<rect x="670" y="73" width="9" height="3" fill="#f9fafe"/>
<rect x="679" y="192" width="8" height="3" fill="#fafbfe"/>
<rect x="679" y="188" width="8" height="4" fill="#f7f8fe"/>
<rect x="679" y="185" width="8" height="3" fill="#f3f5fd"/>
<rect x="679" y="181" width="8" height="4" fill="#edf0fc"/>
<rect x="679" y="177" width="8" height="4" fill="#e6eafb"/>
<rect x="679" y="174" width="8" height="3" fill="#dde3fa"/>
<rect x="679" y="170" width="8" height="4" fill="#d2daf8"/>
<rect x="679" y="166" width="8" height="4" fill="#c4cff6"/>
<rect x="679" y="163" width="8" height="3" fill="#b5c2f4"/>
<rect x="679" y="159" width="8" height="4" fill="#a3b4f1"/>
<rect x="679" y="156" width="8" height="3" fill="#91a4ef"/>
<rect x="679" y="152" width="8" height="4" fill="#7e95ec"/>
<rect x="679" y="148" width="8" height="4" fill="#6d87e9"/>
<rect x="679" y="145" width="8" height="3" fill="#5f7be7"/>
<rect x="679" y="141" width="8" height="4" fill="#5472e5"/>
<rect x="679" y="138" width="8" height="3" fill="#4d6ce4"/>
<rect x="679" y="134" width="8" height="4" fill="#4969e4"/>
<rect x="679" y="130" width="8" height="4" fill="#4869e4"/>
<rect x="679" y="127" width="8" height="3" fill="#4a6be4"/>
<rect x="679" y="123" width="8" height="4" fill="#506fe5"/>
<rect x="679" y="120" width="8" height="3" fill="#5a77e6"/>
<rect x="679" y="116" width="8" height="4" fill="#6783e8"/>
<rect x="679" y="112" width="8" height="4" fill="#7890eb"/>
<rect x="679" y="109" width="8" height="3" fill="#8ba0ee"/>
<rect x="679" y="105" width="8" height="4" fill="#9eb0f1"/>
<rect x="679" y="102" width="8" height="3" fill="#b1bff3"/>
<rect x="679" y="98" width="8" height="4" fill="#c2cdf6"/>
<rect x="679" y="94" width="8" height="4" fill="#d0d8f8"/>
<rect x="679" y="91" width="8" height="3" fill="#dce2fa"/>
<rect x="679" y="87" width="8" height="4" fill="#e5eafb"/>
<rect x="679" y="84" width="8" height="3" fill="#edf0fc"/>
<rect x="679" y="80" width="8" height="4" fill="#f2f5fd"/>
<rect x="679" y="76" width="8" height="4" fill="#f7f8fe"/>
<rect x="679" y="73" width="8" height="3" fill="#fafbfe"/>
<rect x="687" y="192" width="8" height="3" fill="#fafbfe"/>
<rect x="687" y="188" width="8" height="4" fill="#f6f8fe"/>
<rect x="687" y="185" width="8" height="3" fill="#f2f4fd"/>
<rect x="687" y="181" width="8" height="4" fill="#ecf0fc"/>
<rect x="687" y="177" width="8" height="4" fill="#e5eafb"/>
<rect x="687" y="174" width="8" height="3" fill="#dce2fa"/>
<rect x="687" y="170" width="8" height="4" fill="#d1d9f8"/>
<rect x="687" y="166" width="8" height="4" fill="#c4cff6"/>
<rect x="687" y="163" width="8" height="3" fill="#b5c2f4"/>
<rect x="687" y="159" width="8" height="4" fill="#a5b5f2"/>
<rect x="687" y="156" width="8" height="3" fill="#93a7ef"/>
<rect x="687" y="152" width="8" height="4" fill="#8298ec"/>
<rect x="687" y="148" width="8" height="4" fill="#728bea"/>
<rect x="687" y="145" width="8" height="3" fill="#6581e8"/>
<rect x="687" y="141" width="8" height="4" fill="#5b79e7"/>
<rect x="687" y="138" width="8" height="3" fill="#5573e6"/>
<rect x="687" y="134" width="8" height="4" fill="#5271e5"/>
<rect x="687" y="130" width="8" height="4" fill="#5271e5"/>
<rect x="687" y="127" width="8" height="3" fill="#5573e6"/>
<rect x="687" y="123" width="8" height="4" fill="#5b79e7"/>
<rect x="687" y="120" width="8" height="3" fill="#6681e8"/>
<rect x="687" y="116" width="8" height="4" fill="#738cea"/>
<rect x="687" y="112" width="8" height="4" fill="#849aed"/>
<rect x="687" y="109" width="8" height="3" fill="#96a9ef"/>
<rect x="687" y="105" width="8" height="4" fill="#a8b7f2"/>
<rect x="687" y="102" width="8" height="3" fill="#b9c5f5"/>
<rect x="687" y="98" width="8" height="4" fill="#c8d2f7"/>
<rect x="687" y="94" width="8" height="4" fill="#d5ddf9"/>
<rect x="687" y="91" width="8" height="3" fill="#e0e5fa"/>
<rect x="687" y="87" width="8" height="4" fill="#e8ecfc"/>
<rect x="687" y="84" width="8" height="3" fill="#eff2fd"/>
<rect x="687" y="80" width="8" height="4" fill="#f4f6fd"/>
<rect x="687" y="76" width="8" height="4" fill="#f8f9fe"/>
<rect x="695" y="192" width="9" height="3" fill="#f9fafe"/>
<rect x="695" y="188" width="9" height="4" fill="#f6f8fe"/>
<rect x="695" y="185" width="9" height="3" fill="#f2f4fd"/>
<rect x="695" y="181" width="9" height="4" fill="#eceffc"/>
<rect x="695" y="177" width="9" height="4" fill="#e4e9fb"/>
<rect x="695" y="174" width="9" height="3" fill="#dbe2fa"/>
<rect x="695" y="170" width="9" height="4" fill="#d1d9f8"/>
<rect x="695" y="166" width="9" height="4" fill="#c4cff6"/>
<rect x="695" y="163" width="9" height="3" fill="#b6c3f4"/>
<rect x="695" y="159" width="9" height="4" fill="#a7b6f2"/>
<rect x="695" y="156" width="9" height="3" fill="#96a9ef"/>
<rect x="695" y="152" width="9" height="4" fill="#879ced"/>
<rect x="695" y="148" width="9" height="4" fill="#7890eb"/>
<rect x="695" y="145" width="9" height="3" fill="#6c87e9"/>
<rect x="695" y="141" width="9" height="4" fill="#647fe8"/>
<rect x="695" y="138" width="9" height="3" fill="#5e7be7"/>
<rect x="695" y="134" width="9" height="4" fill="#5c79e7"/>
<rect x="695" y="130" width="9" height="4" fill="#5c79e7"/>
<rect x="695" y="127" width="9" height="3" fill="#607ce7"/>
<rect x="695" y="123" width="9" height="4" fill="#6782e8"/>
<rect x="695" y="120" width="9" height="3" fill="#728bea"/>
<rect x="695" y="116" width="9" height="4" fill="#7f96ec"/>
<rect x="695" y="112" width="9" height="4" fill="#8fa3ee"/>
<rect x="695" y="109" width="9" height="3" fill="#a0b1f1"/>
<rect x="695" y="105" width="9" height="4" fill="#b1bff3"/>
<rect x="695" y="102" width="9" height="3" fill="#c1ccf6"/>
<rect x="695" y="98" width="9" height="4" fill="#ced7f8"/>
<rect x="695" y="94" width="9" height="4" fill="#dae1f9"/>
<rect x="695" y="91" width="9" height="3" fill="#e3e8fb"/>
<rect x="695" y="87" width="9" height="4" fill="#ebeffc"/>
<rect x="695" y="84" width="9" height="3" fill="#f1f4fd"/>
<rect x="695" y="80" width="9" height="4" fill="#f6f7fe"/>
<rect x="695" y="76" width="9" height="4" fill="#f9fafe"/>
<rect x="704" y="192" width="8" height="3" fill="#f9fafe"/>
<rect x="704" y="188" width="8" height="4" fill="#f6f7fe"/>
<rect x="704" y="185" width="8" height="3" fill="#f1f4fd"/>
<rect x="704" y="181" width="8" height="4" fill="#ebeffc"/>
<rect x="704" y="177" width="8" height="4" fill="#e4e9fb"/>
<rect x="704" y="174" width="8" height="3" fill="#dbe1fa"/>
<rect x="704" y="170" width="8" height="4" fill="#d1d9f8"/>
<rect x="704" y="166" width="8" height="4" fill="#c5cff6"/>
<rect x="704" y="163" width="8" height="3" fill="#b7c4f4"/>
<rect x="704" y="159" width="8" height="4" fill="#a9b8f2"/>
<rect x="704" y="156" width="8" height="3" fill="#9aacf0"/>
<rect x="704" y="152" width="8" height="4" fill="#8ca0ee"/>
<rect x="704" y="148" width="8" height="4" fill="#7f96ec"/>
<rect x="704" y="145" width="8" height="3" fill="#748dea"/>
<rect x="704" y="141" width="8" height="4" fill="#6d87e9"/>
<rect x="704" y="138" width="8" height="3" fill="#6883e9"/>
<rect x="704" y="134" width="8" height="4" fill="#6782e8"/>
<rect x="704" y="130" width="8" height="4" fill="#6883e8"/>
<rect x="704" y="127" width="8" height="3" fill="#6c86e9"/>
<rect x="704" y="123" width="8" height="4" fill="#738cea"/>
<rect x="704" y="120" width="8" height="3" fill="#7e95ec"/>
<rect x="704" y="116" width="8" height="4" fill="#8ba0ee"/>
<rect x="704" y="112" width="8" height="4" fill="#9aacf0"/>
<rect x="704" y="109" width="8" height="3" fill="#aab9f2"/>
<rect x="704" y="105" width="8" height="4" fill="#b9c6f5"/>
<rect x="704" y="102" width="8" height="3" fill="#c8d1f7"/>
<rect x="704" y="98" width="8" height="4" fill="#d4dcf9"/>
<rect x="704" y="94" width="8" height="4" fill="#dee4fa"/>
<rect x="704" y="91" width="8" height="3" fill="#e7ebfb"/>
<rect x="704" y="87" width="8" height="4" fill="#eef1fc"/>
<rect x="704" y="84" width="8" height="3" fill="#f3f5fd"/>
<rect x="704" y="80" width="8" height="4" fill="#f7f9fe"/>
<rect x="704" y="76" width="8" height="4" fill="#fafbfe"/>
<rect x="712" y="192" width="8" height="3" fill="#f9fafe"/>
<rect x="712" y="188" width="8" height="4" fill="#f5f7fe"/>
<rect x="712" y="185" width="8" height="3" fill="#f1f3fd"/>
<rect x="712" y="181" width="8" height="4" fill="#ebeefc"/>
<rect x="712" y="177" width="8" height="4" fill="#e4e8fb"/>
<rect x="712" y="174" width="8" height="3" fill="#dbe1fa"/>
<rect x="712" y="170" width="8" height="4" fill="#d1d9f8"/>
<rect x="712" y="166" width="8" height="4" fill="#c5d0f6"/>
<rect x="712" y="163" width="8" height="3" fill="#b9c5f5"/>
<rect x="712" y="159" width="8" height="4" fill="#acbaf3"/>
<rect x="712" y="156" width="8" height="3" fill="#9eaff1"/>
<rect x="712" y="152" width="8" height="4" fill="#91a5ef"/>
<rect x="712" y="148" width="8" height="4" fill="#869ced"/>
<rect x="712" y="145" width="8" height="3" fill="#7d94ec"/>
<rect x="712" y="141" width="8" height="4" fill="#778feb"/>
<rect x="712" y="138" width="8" height="3" fill="#738cea"/>
<rect x="712" y="134" width="8" height="4" fill="#728bea"/>
<rect x="712" y="130" width="8" height="4" fill="#738cea"/>
<rect x="712" y="127" width="8" height="3" fill="#7890eb"/>
<rect x="712" y="123" width="8" height="4" fill="#7f96ec"/>
<rect x="712" y="120" width="8" height="3" fill="#8a9fee"/>
<rect x="712" y="116" width="8" height="4" fill="#97a9ef"/>
<rect x="712" y="112" width="8" height="4" fill="#a5b5f2"/>
<rect x="712" y="109" width="8" height="3" fill="#b3c1f4"/>
<rect x="712" y="105" width="8" height="4" fill="#c1ccf6"/>
<rect x="712" y="102" width="8" height="3" fill="#ced7f8"/>
<rect x="712" y="98" width="8" height="4" fill="#d9e0f9"/>
<rect x="712" y="94" width="8" height="4" fill="#e2e8fb"/>
<rect x="712" y="91" width="8" height="3" fill="#eaeefc"/>
<rect x="712" y="87" width="8" height="4" fill="#f0f3fd"/>
<rect x="712" y="84" width="8" height="3" fill="#f5f7fe"/>
<rect x="712" y="80" width="8" height="4" fill="#f9fafe"/>
<rect x="720" y="192" width="9" height="3" fill="#f9fafe"/>
<rect x="720" y="188" width="9" height="4" fill="#f5f7fe"/>
<rect x="720" y="185" width="9" height="3" fill="#f0f3fd"/>
<rect x="720" y="181" width="9" height="4" fill="#eaeefc"/>
<rect x="720" y="177" width="9" height="4" fill="#e3e8fb"/>
<rect x="720" y="174" width="9" height="3" fill="#dbe1fa"/>
<rect x="720" y="170" width="9" height="4" fill="#d1d9f8"/>
<rect x="720" y="166" width="9" height="4" fill="#c6d0f7"/>
<rect x="720" y="163" width="9" height="3" fill="#bbc7f5"/>
<rect x="720" y="159" width="9" height="4" fill="#afbdf3"/>
<rect x="720" y="156" width="9" height="3" fill="#a3b3f1"/>
<rect x="720" y="152" width="9" height="4" fill="#97aaf0"/>
<rect x="720" y="148" width="9" height="4" fill="#8ea2ee"/>
<rect x="720" y="145" width="9" height="3" fill="#869bed"/>
<rect x="720" y="141" width="9" height="4" fill="#8197ec"/>
<rect x="720" y="138" width="9" height="3" fill="#7e95ec"/>
<rect x="720" y="134" width="9" height="4" fill="#7d94ec"/>
<rect x="720" y="130" width="9" height="4" fill="#7f96ec"/>
<rect x="720" y="127" width="9" height="3" fill="#849aed"/>
<rect x="720" y="123" width="9" height="4" fill="#8ca0ee"/>
<rect x="720" y="120" width="9" height="3" fill="#96a9ef"/>
<rect x="720" y="116" width="9" height="4" fill="#a2b3f1"/>
<rect x="720" y="112" width="9" height="4" fill="#afbdf3"/>
<rect x="720" y="109" width="9" height="3" fill="#bcc8f5"/>
<rect x="720" y="105" width="9" height="4" fill="#c9d2f7"/>
<rect x="720" y="102" width="9" height="3" fill="#d4dcf9"/>
<rect x="720" y="98" width="9" height="4" fill="#dee4fa"/>
<rect x="720" y="94" width="9" height="4" fill="#e6ebfb"/>
<rect x="720" y="91" width="9" height="3" fill="#edf0fc"/>
<rect x="720" y="87" width="9" height="4" fill="#f3f5fd"/>
<rect x="720" y="84" width="9" height="3" fill="#f7f8fe"/>
<rect x="720" y="80" width="9" height="4" fill="#fafbfe"/>
<rect x="729" y="192" width="8" height="3" fill="#f8f9fe"/>
<rect x="729" y="188" width="8" height="4" fill="#f5f7fd"/>
<rect x="729" y="185" width="8" height="3" fill="#f0f3fd"/>
<rect x="729" y="181" width="8" height="4" fill="#eaeefc"/>
<rect x="729" y="177" width="8" height="4" fill="#e3e8fb"/>
<rect x="729" y="174" width="8" height="3" fill="#dbe1fa"/>
<rect x="729" y="170" width="8" height="4" fill="#d2daf8"/>
<rect x="729" y="166" width="8" height="4" fill="#c8d1f7"/>
<rect x="729" y="163" width="8" height="3" fill="#bdc9f5"/>
<rect x="729" y="159" width="8" height="4" fill="#b2c0f4"/>
<rect x="729" y="156" width="8" height="3" fill="#a7b7f2"/>
<rect x="729" y="152" width="8" height="4" fill="#9eaff0"/>
<rect x="729" y="148" width="8" height="4" fill="#95a8ef"/>
<rect x="729" y="145" width="8" height="3" fill="#8fa3ee"/>
<rect x="729" y="141" width="8" height="4" fill="#8b9fee"/>
<rect x="729" y="138" width="8" height="3" fill="#889eed"/>
<rect x="729" y="134" width="8" height="4" fill="#889eed"/>
<rect x="729" y="130" width="8" height="4" fill="#8b9fee"/>
<rect x="729" y="127" width="8" height="3" fill="#90a4ee"/>
<rect x="729" y="123" width="8" height="4" fill="#97aaf0"/>
<rect x="729" y="120" width="8" height="3" fill="#a1b2f1"/>
<rect x="729" y="116" width="8" height="4" fill="#acbbf3"/>
<rect x="729" y="112" width="8" height="4" fill="#b8c5f4"/>
<rect x="729" y="109" width="8" height="3" fill="#c4cff6"/>
<rect x="729" y="105" width="8" height="4" fill="#cfd8f8"/>
<rect x="729" y="102" width="8" height="3" fill="#dae0f9"/>
<rect x="729" y="98" width="8" height="4" fill="#e2e7fb"/>
<rect x="729" y="94" width="8" height="4" fill="#eaeefc"/>
<rect x="729" y="91" width="8" height="3" fill="#f0f3fd"/>
<rect x="729" y="87" width="8" height="4" fill="#f5f6fd"/>
<rect x="729" y="84" width="8" height="3" fill="#f8f9fe"/>
<rect x="737" y="192" width="8" height="3" fill="#f8f9fe"/>
<rect x="737" y="188" width="8" height="4" fill="#f5f6fd"/>
<rect x="737" y="185" width="8" height="3" fill="#f0f3fd"/>
<rect x="737" y="181" width="8" height="4" fill="#eaeefc"/>
<rect x="737" y="177" width="8" height="4" fill="#e3e8fb"/>
<rect x="737" y="174" width="8" height="3" fill="#dbe2fa"/>
<rect x="737" y="170" width="8" height="4" fill="#d2daf8"/>
<rect x="737" y="166" width="8" height="4" fill="#c9d3f7"/>
<rect x="737" y="163" width="8" height="3" fill="#bfcbf6"/>
<rect x="737" y="159" width="8" height="4" fill="#b6c3f4"/>
<rect x="737" y="156" width="8" height="3" fill="#acbbf3"/>
<rect x="737" y="152" width="8" height="4" fill="#a4b4f1"/>
<rect x="737" y="148" width="8" height="4" fill="#9daff0"/>
<rect x="737" y="145" width="8" height="3" fill="#98aaf0"/>
<rect x="737" y="141" width="8" height="4" fill="#94a7ef"/>
<rect x="737" y="138" width="8" height="3" fill="#93a6ef"/>
<rect x="737" y="134" width="8" height="4" fill="#93a7ef"/>
<rect x="737" y="130" width="8" height="4" fill="#96a9ef"/>
<rect x="737" y="127" width="8" height="3" fill="#9badf0"/>
<rect x="737" y="123" width="8" height="4" fill="#a2b3f1"/>
<rect x="737" y="120" width="8" height="3" fill="#abbaf3"/>
<rect x="737" y="116" width="8" height="4" fill="#b6c3f4"/>
<rect x="737" y="112" width="8" height="4" fill="#c1ccf6"/>
<rect x="737" y="109" width="8" height="3" fill="#cbd5f7"/>
<rect x="737" y="105" width="8" height="4" fill="#d5ddf9"/>
<rect x="737" y="102" width="8" height="3" fill="#dfe4fa"/>
<rect x="737" y="98" width="8" height="4" fill="#e6ebfb"/>
<rect x="737" y="94" width="8" height="4" fill="#edf0fc"/>
<rect x="737" y="91" width="8" height="3" fill="#f2f5fd"/>
<rect x="737" y="87" width="8" height="4" fill="#f6f8fe"/>
<rect x="737" y="84" width="8" height="3" fill="#f9fafe"/>
<rect x="745" y="192" width="8" height="3" fill="#f8f9fe"/>
<rect x="745" y="188" width="8" height="4" fill="#f4f6fd"/>
<rect x="745" y="185" width="8" height="3" fill="#f0f2fd"/>
<rect x="745" y="181" width="8" height="4" fill="#eaeefc"/>
<rect x="745" y="177" width="8" height="4" fill="#e3e8fb"/>
<rect x="745" y="174" width="8" height="3" fill="#dce2fa"/>
<rect x="745" y="170" width="8" height="4" fill="#d3dbf9"/>
<rect x="745" y="166" width="8" height="4" fill="#cbd4f7"/>
<rect x="745" y="163" width="8" height="3" fill="#c2cdf6"/>
<rect x="745" y="159" width="8" height="4" fill="#b9c6f5"/>
<rect x="745" y="156" width="8" height="3" fill="#b1bff3"/>
<rect x="745" y="152" width="8" height="4" fill="#aab9f2"/>
<rect x="745" y="148" width="8" height="4" fill="#a5b5f2"/>
<rect x="745" y="145" width="8" height="3" fill="#a0b1f1"/>
<rect x="745" y="141" width="8" height="4" fill="#9eaff1"/>
<rect x="745" y="138" width="8" height="3" fill="#9daff0"/>
<rect x="745" y="134" width="8" height="4" fill="#9eaff1"/>
<rect x="745" y="130" width="8" height="4" fill="#a1b1f1"/>
<rect x="745" y="127" width="8" height="3" fill="#a6b6f2"/>
<rect x="745" y="123" width="8" height="4" fill="#adbbf3"/>
<rect x="745" y="120" width="8" height="3" fill="#b5c2f4"/>
<rect x="745" y="116" width="8" height="4" fill="#becaf5"/>
<rect x="745" y="112" width="8" height="4" fill="#c8d2f7"/>
<rect x="745" y="109" width="8" height="3" fill="#d2daf8"/>
<rect x="745" y="105" width="8" height="4" fill="#dbe1fa"/>
<rect x="745" y="102" width="8" height="3" fill="#e3e8fb"/>
<rect x="745" y="98" width="8" height="4" fill="#eaeefc"/>
<rect x="745" y="94" width="8" height="4" fill="#f0f3fd"/>
<rect x="745" y="91" width="8" height="3" fill="#f4f6fd"/>
<rect x="745" y="87" width="8" height="4" fill="#f8f9fe"/>
<rect x="753" y="192" width="9" height="3" fill="#f8f9fe"/>
<rect x="753" y="188" width="9" height="4" fill="#f4f6fd"/>
<rect x="753" y="185" width="9" height="3" fill="#f0f2fd"/>
<rect x="753" y="181" width="9" height="4" fill="#eaeefc"/>
<rect x="753" y="177" width="9" height="4" fill="#e4e8fb"/>
<rect x="753" y="174" width="9" height="3" fill="#dce3fa"/>
<rect x="753" y="170" width="9" height="4" fill="#d5dcf9"/>
<rect x="753" y="166" width="9" height="4" fill="#cdd6f8"/>
<rect x="753" y="163" width="9" height="3" fill="#c5cff6"/>
<rect x="753" y="159" width="9" height="4" fill="#bdc9f5"/>
<rect x="753" y="156" width="9" height="3" fill="#b6c3f4"/>
<rect x="753" y="152" width="9" height="4" fill="#b1bff3"/>
<rect x="753" y="148" width="9" height="4" fill="#acbbf3"/>
<rect x="753" y="145" width="9" height="3" fill="#a9b8f2"/>
<rect x="753" y="141" width="9" height="4" fill="#a7b7f2"/>
<rect x="753" y="138" width="9" height="3" fill="#a7b6f2"/>
<rect x="753" y="134" width="9" height="4" fill="#a8b7f2"/>
<rect x="753" y="130" width="9" height="4" fill="#abbaf2"/>
<rect x="753" y="127" width="9" height="3" fill="#afbef3"/>
<rect x="753" y="123" width="9" height="4" fill="#b6c3f4"/>
<rect x="753" y="120" width="9" height="3" fill="#bec9f5"/>
<rect x="753" y="116" width="9" height="4" fill="#c6d0f7"/>
<rect x="753" y="112" width="9" height="4" fill="#cfd8f8"/>
<rect x="753" y="109" width="9" height="3" fill="#d8dff9"/>
<rect x="753" y="105" width="9" height="4" fill="#e0e5fa"/>
<rect x="753" y="102" width="9" height="3" fill="#e7ebfb"/>
<rect x="753" y="98" width="9" height="4" fill="#edf0fc"/>
<rect x="753" y="94" width="9" height="4" fill="#f2f5fd"/>
<rect x="753" y="91" width="9" height="3" fill="#f6f8fe"/>
<rect x="753" y="87" width="9" height="4" fill="#f9fafe"/>
<rect x="762" y="192" width="8" height="3" fill="#f8f9fe"/>
<rect x="762" y="188" width="8" height="4" fill="#f4f6fd"/>
<rect x="762" y="185" width="8" height="3" fill="#f0f2fd"/>
<rect x="762" y="181" width="8" height="4" fill="#eaeefc"/>
<rect x="762" y="177" width="8" height="4" fill="#e4e9fb"/>
<rect x="762" y="174" width="8" height="3" fill="#dde3fa"/>
<rect x="762" y="170" width="8" height="4" fill="#d6ddf9"/>
<rect x="762" y="166" width="8" height="4" fill="#cfd7f8"/>
<rect x="762" y="163" width="8" height="3" fill="#c8d2f7"/>
<rect x="762" y="159" width="8" height="4" fill="#c1ccf6"/>
<rect x="762" y="156" width="8" height="3" fill="#bbc8f5"/>
<rect x="762" y="152" width="8" height="4" fill="#b7c4f4"/>
<rect x="762" y="148" width="8" height="4" fill="#b3c1f4"/>
<rect x="762" y="145" width="8" height="3" fill="#b1bff3"/>
<rect x="762" y="141" width="8" height="4" fill="#b0bef3"/>
<rect x="762" y="138" width="8" height="3" fill="#afbef3"/>
<rect x="762" y="134" width="8" height="4" fill="#b1bff3"/>
<rect x="762" y="130" width="8" height="4" fill="#b4c1f4"/>
<rect x="762" y="127" width="8" height="3" fill="#b8c5f4"/>
<rect x="762" y="123" width="8" height="4" fill="#becaf5"/>
<rect x="762" y="120" width="8" height="3" fill="#c6d0f6"/>
<rect x="762" y="116" width="8" height="4" fill="#cdd6f8"/>
<rect x="762" y="112" width="8" height="4" fill="#d5ddf9"/>
<rect x="762" y="109" width="8" height="3" fill="#dde3fa"/>
<rect x="762" y="105" width="8" height="4" fill="#e4e9fb"/>
<rect x="762" y="102" width="8" height="3" fill="#ebeefc"/>
<rect x="762" y="98" width="8" height="4" fill="#f0f3fd"/>
<rect x="762" y="94" width="8" height="4" fill="#f5f7fd"/>
<rect x="762" y="91" width="8" height="3" fill="#f8f9fe"/>
<rect x="770" y="195" width="8" height="4" fill="#fafbfe"/>
<rect x="770" y="192" width="8" height="3" fill="#f8f9fe"/>
<rect x="770" y="188" width="8" height="4" fill="#f4f6fd"/>
<rect x="770" y="185" width="8" height="3" fill="#f0f3fd"/>
<rect x="770" y="181" width="8" height="4" fill="#ebeefc"/>
<rect x="770" y="177" width="8" height="4" fill="#e5e9fb"/>
<rect x="770" y="174" width="8" height="3" fill="#dee4fa"/>
<rect x="770" y="170" width="8" height="4" fill="#d7dff9"/>
<rect x="770" y="166" width="8" height="4" fill="#d1d9f8"/>
<rect x="770" y="163" width="8" height="3" fill="#cbd4f7"/>
<rect x="770" y="159" width="8" height="4" fill="#c5cff6"/>
<rect x="770" y="156" width="8" height="3" fill="#c0ccf6"/>
<rect x="770" y="152" width="8" height="4" fill="#bdc8f5"/>
<rect x="770" y="148" width="8" height="4" fill="#bac6f5"/>
<rect x="770" y="145" width="8" height="3" fill="#b8c5f4"/>
<rect x="770" y="141" width="8" height="4" fill="#b7c4f4"/>
<rect x="770" y="138" width="8" height="3" fill="#b7c4f4"/>
<rect x="770" y="134" width="8" height="4" fill="#b9c5f5"/>
<rect x="770" y="130" width="8" height="4" fill="#bcc8f5"/>
<rect x="770" y="127" width="8" height="3" fill="#c0ccf6"/>
<rect x="770" y="123" width="8" height="4" fill="#c6d0f7"/>
<rect x="770" y="120" width="8" height="3" fill="#cdd6f8"/>
<rect x="770" y="116" width="8" height="4" fill="#d4dcf9"/>
<rect x="770" y="112" width="8" height="4" fill="#dbe2fa"/>
<rect x="770" y="109" width="8" height="3" fill="#e2e7fb"/>
<rect x="770" y="105" width="8" height="4" fill="#e9edfc"/>
<rect x="770" y="102" width="8" height="3" fill="#eef1fc"/>
<rect x="770" y="98" width="8" height="4" fill="#f3f5fd"/>
<rect x="770" y="94" width="8" height="4" fill="#f7f8fe"/>
<rect x="770" y="91" width="8" height="3" fill="#f9fafe"/>
<rect x="778" y="195" width="9" height="4" fill="#fafbfe"/>
<rect x="778" y="192" width="9" height="3" fill="#f8f9fe"/>
<rect x="778" y="188" width="9" height="4" fill="#f4f6fd"/>
<rect x="778" y="185" width="9" height="3" fill="#f0f3fd"/>
<rect x="778" y="181" width="9" height="4" fill="#ebeefc"/>
<rect x="778" y="177" width="9" height="4" fill="#e5eafb"/>
<rect x="778" y="174" width="9" height="3" fill="#dfe5fa"/>
<rect x="778" y="170" width="9" height="4" fill="#d9e0f9"/>
<rect x="778" y="166" width="9" height="4" fill="#d3dbf8"/>
<rect x="778" y="163" width="9" height="3" fill="#ced7f8"/>
<rect x="778" y="159" width="9" height="4" fill="#c9d3f7"/>
<rect x="778" y="156" width="9" height="3" fill="#c5cff6"/>
<rect x="778" y="152" width="9" height="4" fill="#c2cdf6"/>
<rect x="778" y="148" width="9" height="4" fill="#c0cbf6"/>
<rect x="778" y="145" width="9" height="3" fill="#bfcaf5"/>
<rect x="778" y="141" width="9" height="4" fill="#becaf5"/>
<rect x="778" y="138" width="9" height="3" fill="#bfcaf5"/>
<rect x="778" y="134" width="9" height="4" fill="#c0ccf6"/>
<rect x="778" y="130" width="9" height="4" fill="#c3cef6"/>
<rect x="778" y="127" width="9" height="3" fill="#c8d2f7"/>
<rect x="778" y="123" width="9" height="4" fill="#cdd6f8"/>
<rect x="778" y="120" width="9" height="3" fill="#d3dbf8"/>
<rect x="778" y="116" width="9" height="4" fill="#dae0f9"/>
<rect x="778" y="112" width="9" height="4" fill="#e0e6fa"/>
<rect x="778" y="109" width="9" height="3" fill="#e6ebfb"/>
<rect x="778" y="105" width="9" height="4" fill="#ecf0fc"/>
<rect x="778" y="102" width="9" height="3" fill="#f1f4fd"/>
<rect x="778" y="98" width="9" height="4" fill="#f5f7fe"/>
<rect x="778" y="94" width="9" height="4" fill="#f8fafe"/>
<rect x="787" y="195" width="8" height="4" fill="#fafbfe"/>
<rect x="787" y="192" width="8" height="3" fill="#f8f9fe"/>
<rect x="787" y="188" width="8" height="4" fill="#f4f6fd"/>
<rect x="787" y="185" width="8" height="3" fill="#f0f3fd"/>
<rect x="787" y="181" width="8" height="4" fill="#ebeffc"/>
<rect x="787" y="177" width="8" height="4" fill="#e6eafb"/>
<rect x="787" y="174" width="8" height="3" fill="#e0e6fa"/>
<rect x="787" y="170" width="8" height="4" fill="#dbe1fa"/>
<rect x="787" y="166" width="8" height="4" fill="#d5ddf9"/>
<rect x="787" y="163" width="8" height="3" fill="#d1d9f8"/>
<rect x="787" y="159" width="8" height="4" fill="#cdd6f8"/>
<rect x="787" y="156" width="8" height="3" fill="#cad3f7"/>
<rect x="787" y="152" width="8" height="4" fill="#c7d1f7"/>
<rect x="787" y="148" width="8" height="4" fill="#c6d0f6"/>
<rect x="787" y="145" width="8" height="3" fill="#c5cff6"/>
<rect x="787" y="141" width="8" height="4" fill="#c5cff6"/>
<rect x="787" y="138" width="8" height="3" fill="#c5d0f6"/>
<rect x="787" y="134" width="8" height="4" fill="#c7d1f7"/>
<rect x="787" y="130" width="8" height="4" fill="#cad4f7"/>
<rect x="787" y="127" width="8" height="3" fill="#ced7f8"/>
<rect x="787" y="123" width="8" height="4" fill="#d3dbf8"/>
<rect x="787" y="120" width="8" height="3" fill="#d9e0f9"/>
<rect x="787" y="116" width="8" height="4" fill="#dfe5fa"/>
<rect x="787" y="112" width="8" height="4" fill="#e5e9fb"/>
<rect x="787" y="109" width="8" height="3" fill="#eaeefc"/>
<rect x="787" y="105" width="8" height="4" fill="#eff2fd"/>
<rect x="787" y="102" width="8" height="3" fill="#f4f6fd"/>
<rect x="787" y="98" width="8" height="4" fill="#f7f9fe"/>
<rect x="787" y="94" width="8" height="4" fill="#fafbfe"/>
<rect x="795" y="195" width="8" height="4" fill="#fafbfe"/>
<rect x="795" y="192" width="8" height="3" fill="#f8f9fe"/>
<rect x="795" y="188" width="8" height="4" fill="#f4f6fd"/>
<rect x="795" y="185" width="8" height="3" fill="#f1f3fd"/>
<rect x="795" y="181" width="8" height="4" fill="#eceffc"/>
<rect x="795" y="177" width="8" height="4" fill="#e7ebfb"/>
<rect x="795" y="174" width="8" height="3" fill="#e2e7fb"/>
<rect x="795" y="170" width="8" height="4" fill="#dde3fa"/>
<rect x="795" y="166" width="8" height="4" fill="#d8dff9"/>
<rect x="795" y="163" width="8" height="3" fill="#d4dcf9"/>
<rect x="795" y="159" width="8" height="4" fill="#d0d9f8"/>
<rect x="795" y="156" width="8" height="3" fill="#ced7f8"/>
<rect x="795" y="152" width="8" height="4" fill="#ccd5f7"/>
<rect x="795" y="148" width="8" height="4" fill="#cbd4f7"/>
<rect x="795" y="145" width="8" height="3" fill="#cbd4f7"/>
<rect x="795" y="141" width="8" height="4" fill="#cbd4f7"/>
<rect x="795" y="138" width="8" height="3" fill="#ccd5f7"/>
<rect x="795" y="134" width="8" height="4" fill="#cdd6f8"/>
<rect x="795" y="130" width="8" height="4" fill="#d0d9f8"/>
<rect x="795" y="127" width="8" height="3" fill="#d4dcf9"/>
<rect x="795" y="123" width="8" height="4" fill="#d9e0f9"/>
<rect x="795" y="120" width="8" height="3" fill="#dee4fa"/>
<rect x="795" y="116" width="8" height="4" fill="#e3e8fb"/>
<rect x="795" y="112" width="8" height="4" fill="#e9edfc"/>
<rect x="795" y="109" width="8" height="3" fill="#eef1fc"/>
<rect x="795" y="105" width="8" height="4" fill="#f2f5fd"/>
<rect x="795" y="102" width="8" height="3" fill="#f6f8fe"/>
<rect x="795" y="98" width="8" height="4" fill="#f9fafe"/>
</g>
<ellipse cx="588.30" cy="123.00" rx="123.10" ry="29.90" transform="rotate(5.33 588.30 123.00)" fill="none" stroke="#000" stroke-width="2.00"/>
<g clip-path="url(#clip0)">
<ellipse cx="592.00" cy="124.90" rx="104.90" ry="22.90" transform="rotate(5.70 592.00 124.90)" fill="none" stroke="#f01414" stroke-width="2.30"/>
</g>
<circle cx="592.70" cy="125.00" r="3.7" fill="#f01414"/>
<path d="M584.60 120.10L591.20 126.70M584.60 126.70L591.20 120.10" stroke="#000" stroke-width="1.80" fill="none"/>
<path d="M173.4 22.30 V238.60 H803.5" fill="none" stroke="#3a3a3a" stroke-width="1.2"/>
<path d="M168.3 22.30H173.4M168.3 58.35H173.4M168.3 94.40H173.4M168.3 130.45H173.4M168.3 166.50H173.4M168.3 202.55H173.4M168.3 238.60H173.4M222.84 238.60V243.80M305.74 238.60V243.80M388.64 238.60V243.80M471.54 238.60V243.80M554.44 238.60V243.80M637.34 238.60V243.80M720.24 238.60V243.80M803.14 238.60V243.80" stroke="#3a3a3a" stroke-width="1.2" fill="none"/>
<g font-size="13.3"><text x="162.3" y="26.80" text-anchor="end">0.75</text><text x="162.3" y="62.85" text-anchor="end">0.70</text><text x="162.3" y="98.90" text-anchor="end">0.65</text><text x="162.3" y="134.95" text-anchor="end">0.60</text><text x="162.3" y="171.00" text-anchor="end">0.55</text><text x="162.3" y="207.05" text-anchor="end">0.50</text><text x="162.3" y="243.10" text-anchor="end">0.45</text></g>
<g font-size="12.8"><text x="223.14" y="259.00" text-anchor="middle">0.025</text><text x="306.04" y="259.00" text-anchor="middle">0.050</text><text x="388.94" y="259.00" text-anchor="middle">0.075</text><text x="471.84" y="259.00" text-anchor="middle">0.100</text><text x="554.74" y="259.00" text-anchor="middle">0.125</text><text x="637.64" y="259.00" text-anchor="middle">0.150</text><text x="720.54" y="259.00" text-anchor="middle">0.175</text><text x="803.44" y="259.00" text-anchor="middle">0.200</text></g>
<text x="472.3" y="277.20" font-size="12.2">Im<tspan font-style="italic">(k</tspan><tspan font-size="8.5" dy="3">2</tspan><tspan dy="-3" font-style="italic">)</tspan></text>
<text transform="translate(123.9 146.60) rotate(-90)" font-size="12">Re<tspan font-style="italic">(k</tspan><tspan font-size="8.4" dy="3">2</tspan><tspan dy="-3" font-style="italic">)</tspan></text>
<text x="113.8" y="16.80" font-size="14.3" font-weight="bold" style="stroke-width:0.6px">a</text>
<text x="183" y="38.70" font-size="13">Without ocean</text>
<path d="M665 40.50H697" stroke="#f01414" stroke-width="3.3" fill="none"/>
<circle cx="681" cy="40.50" r="4.1" fill="#f01414"/>
<path d="M665 60.50H697" stroke="#000" stroke-width="3.3" fill="none"/>
<path d="M677.50 57.50L683.50 63.50M677.50 63.50L683.50 57.50" stroke="#000" stroke-width="1.60" fill="none"/>
<text x="702.0" y="45.10" font-size="13">Model</text>
<text x="702.0" y="65.30" font-size="13">Observations</text>
<rect x="824.6" y="22.30" width="10.5" height="216.20" fill="url(#cbg)" stroke="#222" stroke-width="1.1"/>
<path d="M835 238.30H840.5M835 205.30H840.5M835 172.30H840.5M835 139.30H840.5M835 106.30H840.5M835 73.30H840.5M835 40.30H840.5" stroke="#3a3a3a" stroke-width="1.2" fill="none"/>
<g font-size="13.2"><text x="846" y="242.80">0</text><text x="846" y="209.80">200</text><text x="846" y="176.80">500</text><text x="846" y="143.80">700</text><text x="846" y="110.80">1,000</text><text x="846" y="77.80">1,250</text><text x="846" y="44.80">1,500</text></g>
<text transform="translate(892.5 130.00) rotate(-90)" text-anchor="middle" font-size="13">No. of samples</text>
<clipPath id="clip280"><rect x="174" y="290.50" width="631" height="228.10"/></clipPath>
<g clip-path="url(#clip280)" shape-rendering="crispEdges">
<rect x="173" y="501" width="8" height="4" fill="#f9fafe"/>
<rect x="173" y="497" width="8" height="4" fill="#f7f9fe"/>
<rect x="173" y="494" width="8" height="3" fill="#f5f7fd"/>
<rect x="173" y="490" width="8" height="4" fill="#f2f4fd"/>
<rect x="173" y="487" width="8" height="3" fill="#eef1fc"/>
<rect x="173" y="483" width="8" height="4" fill="#e9edfc"/>
<rect x="173" y="479" width="8" height="4" fill="#e3e8fb"/>
<rect x="173" y="476" width="8" height="3" fill="#dce2fa"/>
<rect x="173" y="472" width="8" height="4" fill="#d3dbf8"/>
<rect x="173" y="469" width="8" height="3" fill="#c6d0f7"/>
<rect x="173" y="465" width="8" height="4" fill="#b6c3f4"/>
<rect x="173" y="461" width="8" height="4" fill="#a2b3f1"/>
<rect x="173" y="458" width="8" height="3" fill="#8ca1ee"/>
<rect x="173" y="454" width="8" height="4" fill="#758eea"/>
<rect x="173" y="451" width="8" height="3" fill="#5f7ce7"/>
<rect x="173" y="447" width="8" height="4" fill="#4d6de5"/>
<rect x="173" y="443" width="8" height="4" fill="#3f62e2"/>
<rect x="173" y="440" width="8" height="3" fill="#365ae1"/>
<rect x="173" y="436" width="8" height="4" fill="#3256e0"/>
<rect x="173" y="433" width="8" height="3" fill="#3156e0"/>
<rect x="173" y="429" width="8" height="4" fill="#3458e1"/>
<rect x="173" y="425" width="8" height="4" fill="#3b5ee2"/>
<rect x="173" y="422" width="8" height="3" fill="#4667e3"/>
<rect x="173" y="418" width="8" height="4" fill="#5574e6"/>
<rect x="173" y="415" width="8" height="3" fill="#6984e9"/>
<rect x="173" y="411" width="8" height="4" fill="#8096ec"/>
<rect x="173" y="407" width="8" height="4" fill="#97a9ef"/>
<rect x="173" y="404" width="8" height="3" fill="#adbcf3"/>
<rect x="173" y="400" width="8" height="4" fill="#c0cbf6"/>
<rect x="173" y="397" width="8" height="3" fill="#cfd8f8"/>
<rect x="173" y="393" width="8" height="4" fill="#dbe1fa"/>
<rect x="173" y="389" width="8" height="4" fill="#e3e8fb"/>
<rect x="173" y="386" width="8" height="3" fill="#e9edfc"/>
<rect x="173" y="382" width="8" height="4" fill="#eef1fc"/>
<rect x="173" y="379" width="8" height="3" fill="#f2f4fd"/>
<rect x="173" y="375" width="8" height="4" fill="#f5f7fd"/>
<rect x="173" y="371" width="8" height="4" fill="#f7f9fe"/>
<rect x="173" y="368" width="8" height="3" fill="#f9fafe"/>
<rect x="181" y="501" width="9" height="4" fill="#f9fafe"/>
<rect x="181" y="497" width="9" height="4" fill="#f7f9fe"/>
<rect x="181" y="494" width="9" height="3" fill="#f5f7fd"/>
<rect x="181" y="490" width="9" height="4" fill="#f1f4fd"/>
<rect x="181" y="487" width="9" height="3" fill="#eef1fc"/>
<rect x="181" y="483" width="9" height="4" fill="#e9edfc"/>
<rect x="181" y="479" width="9" height="4" fill="#e3e8fb"/>
<rect x="181" y="476" width="9" height="3" fill="#dbe2fa"/>
<rect x="181" y="472" width="9" height="4" fill="#d1d9f8"/>
<rect x="181" y="469" width="9" height="3" fill="#c4cef6"/>
<rect x="181" y="465" width="9" height="4" fill="#b3c0f4"/>
<rect x="181" y="461" width="9" height="4" fill="#9daff0"/>
<rect x="181" y="458" width="9" height="3" fill="#869bed"/>
<rect x="181" y="454" width="9" height="4" fill="#6e88e9"/>
<rect x="181" y="451" width="9" height="3" fill="#5875e6"/>
<rect x="181" y="447" width="9" height="4" fill="#4566e3"/>
<rect x="181" y="443" width="9" height="4" fill="#385be1"/>
<rect x="181" y="440" width="9" height="3" fill="#2f54e0"/>
<rect x="181" y="436" width="9" height="4" fill="#2b51df"/>
<rect x="181" y="433" width="9" height="3" fill="#2b51df"/>
<rect x="181" y="429" width="9" height="4" fill="#2e53e0"/>
<rect x="181" y="425" width="9" height="4" fill="#3559e1"/>
<rect x="181" y="422" width="9" height="3" fill="#4163e3"/>
<rect x="181" y="418" width="9" height="4" fill="#5170e5"/>
<rect x="181" y="415" width="9" height="3" fill="#6681e8"/>
<rect x="181" y="411" width="9" height="4" fill="#7d94ec"/>
<rect x="181" y="407" width="9" height="4" fill="#96a8ef"/>
<rect x="181" y="404" width="9" height="3" fill="#adbbf3"/>
<rect x="181" y="400" width="9" height="4" fill="#c0cbf6"/>
<rect x="181" y="397" width="9" height="3" fill="#d0d8f8"/>
<rect x="181" y="393" width="9" height="4" fill="#dbe2fa"/>
<rect x="181" y="389" width="9" height="4" fill="#e4e9fb"/>
<rect x="181" y="386" width="9" height="3" fill="#eaeefc"/>
<rect x="181" y="382" width="9" height="4" fill="#eff2fd"/>
<rect x="181" y="379" width="9" height="3" fill="#f2f5fd"/>
<rect x="181" y="375" width="9" height="4" fill="#f5f7fe"/>
<rect x="181" y="371" width="9" height="4" fill="#f8f9fe"/>
<rect x="181" y="368" width="9" height="3" fill="#fafbfe"/>
<rect x="190" y="501" width="8" height="4" fill="#f9fafe"/>
<rect x="190" y="497" width="8" height="4" fill="#f7f9fe"/>
<rect x="190" y="494" width="8" height="3" fill="#f5f7fd"/>
<rect x="190" y="490" width="8" height="4" fill="#f2f4fd"/>
<rect x="190" y="487" width="8" height="3" fill="#eef1fc"/>
<rect x="190" y="483" width="8" height="4" fill="#e9edfc"/>
<rect x="190" y="479" width="8" height="4" fill="#e3e8fb"/>
<rect x="190" y="476" width="8" height="3" fill="#dbe1fa"/>
<rect x="190" y="472" width="8" height="4" fill="#d0d9f8"/>
<rect x="190" y="469" width="8" height="3" fill="#c2cdf6"/>
<rect x="190" y="465" width="8" height="4" fill="#b0bef3"/>
<rect x="190" y="461" width="8" height="4" fill="#9aacf0"/>
<rect x="190" y="458" width="8" height="3" fill="#8197ec"/>
<rect x="190" y="454" width="8" height="4" fill="#6883e8"/>
<rect x="190" y="451" width="8" height="3" fill="#5170e5"/>
<rect x="190" y="447" width="8" height="4" fill="#3f61e2"/>
<rect x="190" y="443" width="8" height="4" fill="#3257e0"/>
<rect x="190" y="440" width="8" height="3" fill="#2a50df"/>
<rect x="190" y="436" width="8" height="4" fill="#274ddf"/>
<rect x="190" y="433" width="8" height="3" fill="#274ddf"/>
<rect x="190" y="429" width="8" height="4" fill="#2a50df"/>
<rect x="190" y="425" width="8" height="4" fill="#3256e0"/>
<rect x="190" y="422" width="8" height="3" fill="#3d60e2"/>
<rect x="190" y="418" width="8" height="4" fill="#4e6ee5"/>
<rect x="190" y="415" width="8" height="3" fill="#6480e8"/>
<rect x="190" y="411" width="8" height="4" fill="#7d94ec"/>
<rect x="190" y="407" width="8" height="4" fill="#96a9ef"/>
<rect x="190" y="404" width="8" height="3" fill="#adbcf3"/>
<rect x="190" y="400" width="8" height="4" fill="#c1ccf6"/>
<rect x="190" y="397" width="8" height="3" fill="#d1d9f8"/>
<rect x="190" y="393" width="8" height="4" fill="#dce3fa"/>
<rect x="190" y="389" width="8" height="4" fill="#e5e9fb"/>
<rect x="190" y="386" width="8" height="3" fill="#ebeefc"/>
<rect x="190" y="382" width="8" height="4" fill="#eff2fd"/>
<rect x="190" y="379" width="8" height="3" fill="#f3f5fd"/>
<rect x="190" y="375" width="8" height="4" fill="#f6f8fe"/>
<rect x="190" y="371" width="8" height="4" fill="#f8f9fe"/>
<rect x="190" y="368" width="8" height="3" fill="#fafbfe"/>
<rect x="198" y="501" width="8" height="4" fill="#fafbfe"/>
<rect x="198" y="497" width="8" height="4" fill="#f8f9fe"/>
<rect x="198" y="494" width="8" height="3" fill="#f5f7fe"/>
<rect x="198" y="490" width="8" height="4" fill="#f2f4fd"/>
<rect x="198" y="487" width="8" height="3" fill="#eef1fc"/>
<rect x="198" y="483" width="8" height="4" fill="#e9edfc"/>
<rect x="198" y="479" width="8" height="4" fill="#e3e8fb"/>
<rect x="198" y="476" width="8" height="3" fill="#dae1fa"/>
<rect x="198" y="472" width="8" height="4" fill="#d0d8f8"/>
<rect x="198" y="469" width="8" height="3" fill="#c1ccf6"/>
<rect x="198" y="465" width="8" height="4" fill="#aebcf3"/>
<rect x="198" y="461" width="8" height="4" fill="#97a9ef"/>
<rect x="198" y="458" width="8" height="3" fill="#7d94ec"/>
<rect x="198" y="454" width="8" height="4" fill="#637fe8"/>
<rect x="198" y="451" width="8" height="3" fill="#4d6de4"/>
<rect x="198" y="447" width="8" height="4" fill="#3a5ee2"/>
<rect x="198" y="443" width="8" height="4" fill="#2e53e0"/>
<rect x="198" y="440" width="8" height="3" fill="#274ddf"/>
<rect x="198" y="436" width="8" height="4" fill="#244bde"/>
<rect x="198" y="433" width="8" height="3" fill="#254cde"/>
<rect x="198" y="429" width="8" height="4" fill="#284edf"/>
<rect x="198" y="425" width="8" height="4" fill="#3055e0"/>
<rect x="198" y="422" width="8" height="3" fill="#3c5fe2"/>
<rect x="198" y="418" width="8" height="4" fill="#4e6de5"/>
<rect x="198" y="415" width="8" height="3" fill="#6480e8"/>
<rect x="198" y="411" width="8" height="4" fill="#7e95ec"/>
<rect x="198" y="407" width="8" height="4" fill="#98aaf0"/>
<rect x="198" y="404" width="8" height="3" fill="#afbef3"/>
<rect x="198" y="400" width="8" height="4" fill="#c3cef6"/>
<rect x="198" y="397" width="8" height="3" fill="#d3dbf8"/>
<rect x="198" y="393" width="8" height="4" fill="#dee4fa"/>
<rect x="198" y="389" width="8" height="4" fill="#e6eafb"/>
<rect x="198" y="386" width="8" height="3" fill="#eceffc"/>
<rect x="198" y="382" width="8" height="4" fill="#f0f3fd"/>
<rect x="198" y="379" width="8" height="3" fill="#f4f6fd"/>
<rect x="198" y="375" width="8" height="4" fill="#f7f8fe"/>
<rect x="198" y="371" width="8" height="4" fill="#f9fafe"/>
<rect x="206" y="501" width="9" height="4" fill="#fafbfe"/>
<rect x="206" y="497" width="9" height="4" fill="#f8f9fe"/>
<rect x="206" y="494" width="9" height="3" fill="#f5f7fe"/>
<rect x="206" y="490" width="9" height="4" fill="#f2f4fd"/>
<rect x="206" y="487" width="9" height="3" fill="#eef1fc"/>
<rect x="206" y="483" width="9" height="4" fill="#e9edfc"/>
<rect x="206" y="479" width="9" height="4" fill="#e3e8fb"/>
<rect x="206" y="476" width="9" height="3" fill="#dbe1fa"/>
<rect x="206" y="472" width="9" height="4" fill="#cfd8f8"/>
<rect x="206" y="469" width="9" height="3" fill="#c0ccf6"/>
<rect x="206" y="465" width="9" height="4" fill="#adbbf3"/>
<rect x="206" y="461" width="9" height="4" fill="#95a8ef"/>
<rect x="206" y="458" width="9" height="3" fill="#7a92eb"/>
<rect x="206" y="454" width="9" height="4" fill="#607de7"/>
<rect x="206" y="451" width="9" height="3" fill="#496ae4"/>
<rect x="206" y="447" width="9" height="4" fill="#375be1"/>
<rect x="206" y="443" width="9" height="4" fill="#2b51df"/>
<rect x="206" y="440" width="9" height="3" fill="#254cdf"/>
<rect x="206" y="436" width="9" height="4" fill="#234ade"/>
<rect x="206" y="433" width="9" height="3" fill="#234bde"/>
<rect x="206" y="429" width="9" height="4" fill="#274edf"/>
<rect x="206" y="425" width="9" height="4" fill="#2f54e0"/>
<rect x="206" y="422" width="9" height="3" fill="#3c5fe2"/>
<rect x="206" y="418" width="9" height="4" fill="#4f6ee5"/>
<rect x="206" y="415" width="9" height="3" fill="#6681e8"/>
<rect x="206" y="411" width="9" height="4" fill="#8097ec"/>
<rect x="206" y="407" width="9" height="4" fill="#9aacf0"/>
<rect x="206" y="404" width="9" height="3" fill="#b2c0f4"/>
<rect x="206" y="400" width="9" height="4" fill="#c6d0f7"/>
<rect x="206" y="397" width="9" height="3" fill="#d5ddf9"/>
<rect x="206" y="393" width="9" height="4" fill="#e0e5fa"/>
<rect x="206" y="389" width="9" height="4" fill="#e7ecfb"/>
<rect x="206" y="386" width="9" height="3" fill="#edf0fc"/>
<rect x="206" y="382" width="9" height="4" fill="#f1f4fd"/>
<rect x="206" y="379" width="9" height="3" fill="#f5f7fd"/>
<rect x="206" y="375" width="9" height="4" fill="#f7f9fe"/>
<rect x="206" y="371" width="9" height="4" fill="#f9fafe"/>
<rect x="215" y="501" width="8" height="4" fill="#fafbfe"/>
<rect x="215" y="497" width="8" height="4" fill="#f8f9fe"/>
<rect x="215" y="494" width="8" height="3" fill="#f6f7fe"/>
<rect x="215" y="490" width="8" height="4" fill="#f2f5fd"/>
<rect x="215" y="487" width="8" height="3" fill="#eef1fd"/>
<rect x="215" y="483" width="8" height="4" fill="#e9edfc"/>
<rect x="215" y="479" width="8" height="4" fill="#e3e8fb"/>
<rect x="215" y="476" width="8" height="3" fill="#dbe1fa"/>
<rect x="215" y="472" width="8" height="4" fill="#d0d8f8"/>
<rect x="215" y="469" width="8" height="3" fill="#c0cbf6"/>
<rect x="215" y="465" width="8" height="4" fill="#acbbf3"/>
<rect x="215" y="461" width="8" height="4" fill="#94a7ef"/>
<rect x="215" y="458" width="8" height="3" fill="#7991eb"/>
<rect x="215" y="454" width="8" height="4" fill="#5e7be7"/>
<rect x="215" y="451" width="8" height="3" fill="#4768e4"/>
<rect x="215" y="447" width="8" height="4" fill="#365ae1"/>
<rect x="215" y="443" width="8" height="4" fill="#2a50df"/>
<rect x="215" y="440" width="8" height="3" fill="#244bde"/>
<rect x="215" y="436" width="8" height="4" fill="#224ade"/>
<rect x="215" y="433" width="8" height="3" fill="#234bde"/>
<rect x="215" y="429" width="8" height="4" fill="#274edf"/>
<rect x="215" y="425" width="8" height="4" fill="#3055e0"/>
<rect x="215" y="422" width="8" height="3" fill="#3d60e2"/>
<rect x="215" y="418" width="8" height="4" fill="#5170e5"/>
<rect x="215" y="415" width="8" height="3" fill="#6984e9"/>
<rect x="215" y="411" width="8" height="4" fill="#849aed"/>
<rect x="215" y="407" width="8" height="4" fill="#9eb0f1"/>
<rect x="215" y="404" width="8" height="3" fill="#b6c3f4"/>
<rect x="215" y="400" width="8" height="4" fill="#c9d3f7"/>
<rect x="215" y="397" width="8" height="3" fill="#d8dff9"/>
<rect x="215" y="393" width="8" height="4" fill="#e2e7fb"/>
<rect x="215" y="389" width="8" height="4" fill="#e9edfc"/>
<rect x="215" y="386" width="8" height="3" fill="#eef1fd"/>
<rect x="215" y="382" width="8" height="4" fill="#f2f5fd"/>
<rect x="215" y="379" width="8" height="3" fill="#f6f7fe"/>
<rect x="215" y="375" width="8" height="4" fill="#f8f9fe"/>
<rect x="215" y="371" width="8" height="4" fill="#fafbfe"/>
<rect x="223" y="497" width="8" height="4" fill="#f8fafe"/>
<rect x="223" y="494" width="8" height="3" fill="#f6f8fe"/>
<rect x="223" y="490" width="8" height="4" fill="#f3f5fd"/>
<rect x="223" y="487" width="8" height="3" fill="#eff2fd"/>
<rect x="223" y="483" width="8" height="4" fill="#eaeefc"/>
<rect x="223" y="479" width="8" height="4" fill="#e4e9fb"/>
<rect x="223" y="476" width="8" height="3" fill="#dbe2fa"/>
<rect x="223" y="472" width="8" height="4" fill="#d0d8f8"/>
<rect x="223" y="469" width="8" height="3" fill="#c0ccf6"/>
<rect x="223" y="465" width="8" height="4" fill="#acbbf3"/>
<rect x="223" y="461" width="8" height="4" fill="#93a7ef"/>
<rect x="223" y="458" width="8" height="3" fill="#7890eb"/>
<rect x="223" y="454" width="8" height="4" fill="#5e7ae7"/>
<rect x="223" y="451" width="8" height="3" fill="#4667e4"/>
<rect x="223" y="447" width="8" height="4" fill="#3559e1"/>
<rect x="223" y="443" width="8" height="4" fill="#2950df"/>
<rect x="223" y="440" width="8" height="3" fill="#244bde"/>
<rect x="223" y="436" width="8" height="4" fill="#224ade"/>
<rect x="223" y="433" width="8" height="3" fill="#244bde"/>
<rect x="223" y="429" width="8" height="4" fill="#284edf"/>
<rect x="223" y="425" width="8" height="4" fill="#3156e0"/>
<rect x="223" y="422" width="8" height="3" fill="#4062e3"/>
<rect x="223" y="418" width="8" height="4" fill="#5473e6"/>
<rect x="223" y="415" width="8" height="3" fill="#6d87e9"/>
<rect x="223" y="411" width="8" height="4" fill="#899eed"/>
<rect x="223" y="407" width="8" height="4" fill="#a3b4f1"/>
<rect x="223" y="404" width="8" height="3" fill="#bac7f5"/>
<rect x="223" y="400" width="8" height="4" fill="#cdd6f8"/>
<rect x="223" y="397" width="8" height="3" fill="#dae1fa"/>
<rect x="223" y="393" width="8" height="4" fill="#e4e9fb"/>
<rect x="223" y="389" width="8" height="4" fill="#ebeefc"/>
<rect x="223" y="386" width="8" height="3" fill="#f0f2fd"/>
<rect x="223" y="382" width="8" height="4" fill="#f4f6fd"/>
<rect x="223" y="379" width="8" height="3" fill="#f7f8fe"/>
<rect x="223" y="375" width="8" height="4" fill="#f9fafe"/>
<rect x="231" y="497" width="8" height="4" fill="#f9fafe"/>
<rect x="231" y="494" width="8" height="3" fill="#f6f8fe"/>
<rect x="231" y="490" width="8" height="4" fill="#f3f5fd"/>
<rect x="231" y="487" width="8" height="3" fill="#eff2fd"/>
<rect x="231" y="483" width="8" height="4" fill="#eaeefc"/>
<rect x="231" y="479" width="8" height="4" fill="#e4e9fb"/>
<rect x="231" y="476" width="8" height="3" fill="#dce2fa"/>
<rect x="231" y="472" width="8" height="4" fill="#d1d9f8"/>
<rect x="231" y="469" width="8" height="3" fill="#c1ccf6"/>
<rect x="231" y="465" width="8" height="4" fill="#acbbf3"/>
<rect x="231" y="461" width="8" height="4" fill="#94a7ef"/>
<rect x="231" y="458" width="8" height="3" fill="#7890eb"/>
<rect x="231" y="454" width="8" height="4" fill="#5e7ae7"/>
<rect x="231" y="451" width="8" height="3" fill="#4667e4"/>
<rect x="231" y="447" width="8" height="4" fill="#3559e1"/>
<rect x="231" y="443" width="8" height="4" fill="#2950df"/>
<rect x="231" y="440" width="8" height="3" fill="#244bde"/>
<rect x="231" y="436" width="8" height="4" fill="#224ade"/>
<rect x="231" y="433" width="8" height="3" fill="#244bde"/>
<rect x="231" y="429" width="8" height="4" fill="#2a50df"/>
<rect x="231" y="425" width="8" height="4" fill="#3458e1"/>
<rect x="231" y="422" width="8" height="3" fill="#4365e3"/>
<rect x="231" y="418" width="8" height="4" fill="#5977e6"/>
<rect x="231" y="415" width="8" height="3" fill="#738cea"/>
<rect x="231" y="411" width="8" height="4" fill="#8ea2ee"/>
<rect x="231" y="407" width="8" height="4" fill="#a9b8f2"/>
<rect x="231" y="404" width="8" height="3" fill="#bfcaf5"/>
<rect x="231" y="400" width="8" height="4" fill="#d0d9f8"/>
<rect x="231" y="397" width="8" height="3" fill="#dde3fa"/>
<rect x="231" y="393" width="8" height="4" fill="#e6eafb"/>
<rect x="231" y="389" width="8" height="4" fill="#ecf0fc"/>
<rect x="231" y="386" width="8" height="3" fill="#f1f4fd"/>
<rect x="231" y="382" width="8" height="4" fill="#f5f6fd"/>
<rect x="231" y="379" width="8" height="3" fill="#f7f9fe"/>
<rect x="231" y="375" width="8" height="4" fill="#fafafe"/>
<rect x="239" y="497" width="9" height="4" fill="#f9fafe"/>
<rect x="239" y="494" width="9" height="3" fill="#f7f8fe"/>
<rect x="239" y="490" width="9" height="4" fill="#f4f6fd"/>
<rect x="239" y="487" width="9" height="3" fill="#f0f3fd"/>
<rect x="239" y="483" width="9" height="4" fill="#ebeffc"/>
<rect x="239" y="479" width="9" height="4" fill="#e5e9fb"/>
<rect x="239" y="476" width="9" height="3" fill="#dde3fa"/>
<rect x="239" y="472" width="9" height="4" fill="#d1daf8"/>
<rect x="239" y="469" width="9" height="3" fill="#c2cdf6"/>
<rect x="239" y="465" width="9" height="4" fill="#aebcf3"/>
<rect x="239" y="461" width="9" height="4" fill="#95a8ef"/>
<rect x="239" y="458" width="9" height="3" fill="#7a91eb"/>
<rect x="239" y="454" width="9" height="4" fill="#5f7be7"/>
<rect x="239" y="451" width="9" height="3" fill="#4868e4"/>
<rect x="239" y="447" width="9" height="4" fill="#365ae1"/>
<rect x="239" y="443" width="9" height="4" fill="#2b51df"/>
<rect x="239" y="440" width="9" height="3" fill="#254cdf"/>
<rect x="239" y="436" width="9" height="4" fill="#244bde"/>
<rect x="239" y="433" width="9" height="3" fill="#264ddf"/>
<rect x="239" y="429" width="9" height="4" fill="#2c52e0"/>
<rect x="239" y="425" width="9" height="4" fill="#375be1"/>
<rect x="239" y="422" width="9" height="3" fill="#4869e4"/>
<rect x="239" y="418" width="9" height="4" fill="#5f7be7"/>
<rect x="239" y="415" width="9" height="3" fill="#7991eb"/>
<rect x="239" y="411" width="9" height="4" fill="#95a8ef"/>
<rect x="239" y="407" width="9" height="4" fill="#aebdf3"/>
<rect x="239" y="404" width="9" height="3" fill="#c4cef6"/>
<rect x="239" y="400" width="9" height="4" fill="#d4dcf9"/>
<rect x="239" y="397" width="9" height="3" fill="#e0e5fa"/>
<rect x="239" y="393" width="9" height="4" fill="#e8ecfc"/>
<rect x="239" y="389" width="9" height="4" fill="#eef1fc"/>
<rect x="239" y="386" width="9" height="3" fill="#f2f5fd"/>
<rect x="239" y="382" width="9" height="4" fill="#f6f7fe"/>
<rect x="239" y="379" width="9" height="3" fill="#f8f9fe"/>
<rect x="239" y="375" width="9" height="4" fill="#fafbfe"/>
<rect x="248" y="497" width="8" height="4" fill="#fafafe"/>
<rect x="248" y="494" width="8" height="3" fill="#f7f9fe"/>
<rect x="248" y="490" width="8" height="4" fill="#f4f6fd"/>
<rect x="248" y="487" width="8" height="3" fill="#f1f3fd"/>
<rect x="248" y="483" width="8" height="4" fill="#eceffc"/>
<rect x="248" y="479" width="8" height="4" fill="#e6eafb"/>
<rect x="248" y="476" width="8" height="3" fill="#dee4fa"/>
<rect x="248" y="472" width="8" height="4" fill="#d3dbf8"/>
<rect x="248" y="469" width="8" height="3" fill="#c3cef6"/>
<rect x="248" y="465" width="8" height="4" fill="#afbef3"/>
<rect x="248" y="461" width="8" height="4" fill="#97aaf0"/>
<rect x="248" y="458" width="8" height="3" fill="#7c93eb"/>
<rect x="248" y="454" width="8" height="4" fill="#617ee8"/>
<rect x="248" y="451" width="8" height="3" fill="#4a6ae4"/>
<rect x="248" y="447" width="8" height="4" fill="#385ce1"/>
<rect x="248" y="443" width="8" height="4" fill="#2d52e0"/>
<rect x="248" y="440" width="8" height="3" fill="#274edf"/>
<rect x="248" y="436" width="8" height="4" fill="#264ddf"/>
<rect x="248" y="433" width="8" height="3" fill="#294fdf"/>
<rect x="248" y="429" width="8" height="4" fill="#3055e0"/>
<rect x="248" y="425" width="8" height="4" fill="#3c5fe2"/>
<rect x="248" y="422" width="8" height="3" fill="#4f6ee5"/>
<rect x="248" y="418" width="8" height="4" fill="#6681e8"/>
<rect x="248" y="415" width="8" height="3" fill="#8197ec"/>
<rect x="248" y="411" width="8" height="4" fill="#9caef0"/>
<rect x="248" y="407" width="8" height="4" fill="#b5c2f4"/>
<rect x="248" y="404" width="8" height="3" fill="#c9d3f7"/>
<rect x="248" y="400" width="8" height="4" fill="#d8dff9"/>
<rect x="248" y="397" width="8" height="3" fill="#e3e8fb"/>
<rect x="248" y="393" width="8" height="4" fill="#eaeefc"/>
<rect x="248" y="389" width="8" height="4" fill="#eff2fd"/>
<rect x="248" y="386" width="8" height="3" fill="#f4f6fd"/>
<rect x="248" y="382" width="8" height="4" fill="#f7f8fe"/>
<rect x="248" y="379" width="8" height="3" fill="#f9fafe"/>
<rect x="256" y="497" width="8" height="4" fill="#fafbfe"/>
<rect x="256" y="494" width="8" height="3" fill="#f8f9fe"/>
<rect x="256" y="490" width="8" height="4" fill="#f5f7fd"/>
<rect x="256" y="487" width="8" height="3" fill="#f1f4fd"/>
<rect x="256" y="483" width="8" height="4" fill="#edf0fc"/>
<rect x="256" y="479" width="8" height="4" fill="#e7ebfb"/>
<rect x="256" y="476" width="8" height="3" fill="#dfe5fa"/>
<rect x="256" y="472" width="8" height="4" fill="#d4dcf9"/>
<rect x="256" y="469" width="8" height="3" fill="#c6d0f6"/>
<rect x="256" y="465" width="8" height="4" fill="#b2c0f4"/>
<rect x="256" y="461" width="8" height="4" fill="#9aacf0"/>
<rect x="256" y="458" width="8" height="3" fill="#8096ec"/>
<rect x="256" y="454" width="8" height="4" fill="#6581e8"/>
<rect x="256" y="451" width="8" height="3" fill="#4e6ee5"/>
<rect x="256" y="447" width="8" height="4" fill="#3c5fe2"/>
<rect x="256" y="443" width="8" height="4" fill="#3156e0"/>
<rect x="256" y="440" width="8" height="3" fill="#2b51df"/>
<rect x="256" y="436" width="8" height="4" fill="#2a50df"/>
<rect x="256" y="433" width="8" height="3" fill="#2d53e0"/>
<rect x="256" y="429" width="8" height="4" fill="#365ae1"/>
<rect x="256" y="425" width="8" height="4" fill="#4365e3"/>
<rect x="256" y="422" width="8" height="3" fill="#5775e6"/>
<rect x="256" y="418" width="8" height="4" fill="#6f89ea"/>
<rect x="256" y="415" width="8" height="3" fill="#8a9fee"/>
<rect x="256" y="411" width="8" height="4" fill="#a4b5f1"/>
<rect x="256" y="407" width="8" height="4" fill="#bcc8f5"/>
<rect x="256" y="404" width="8" height="3" fill="#ced7f8"/>
<rect x="256" y="400" width="8" height="4" fill="#dce2fa"/>
<rect x="256" y="397" width="8" height="3" fill="#e5eafb"/>
<rect x="256" y="393" width="8" height="4" fill="#ecf0fc"/>
<rect x="256" y="389" width="8" height="4" fill="#f1f4fd"/>
<rect x="256" y="386" width="8" height="3" fill="#f5f7fd"/>
<rect x="256" y="382" width="8" height="4" fill="#f8f9fe"/>
<rect x="256" y="379" width="8" height="3" fill="#fafbfe"/>
<rect x="264" y="494" width="9" height="3" fill="#f8f9fe"/>
<rect x="264" y="490" width="9" height="4" fill="#f6f7fe"/>
<rect x="264" y="487" width="9" height="3" fill="#f2f4fd"/>
<rect x="264" y="483" width="9" height="4" fill="#eef1fc"/>
<rect x="264" y="479" width="9" height="4" fill="#e8ecfc"/>
<rect x="264" y="476" width="9" height="3" fill="#e0e6fa"/>
<rect x="264" y="472" width="9" height="4" fill="#d6def9"/>
<rect x="264" y="469" width="9" height="3" fill="#c8d2f7"/>
<rect x="264" y="465" width="9" height="4" fill="#b6c3f4"/>
<rect x="264" y="461" width="9" height="4" fill="#9fb0f1"/>
<rect x="264" y="458" width="9" height="3" fill="#859bed"/>
<rect x="264" y="454" width="9" height="4" fill="#6b85e9"/>
<rect x="264" y="451" width="9" height="3" fill="#5473e6"/>
<rect x="264" y="447" width="9" height="4" fill="#4264e3"/>
<rect x="264" y="443" width="9" height="4" fill="#365ae1"/>
<rect x="264" y="440" width="9" height="3" fill="#3055e0"/>
<rect x="264" y="436" width="9" height="4" fill="#3055e0"/>
<rect x="264" y="433" width="9" height="3" fill="#3458e1"/>
<rect x="264" y="429" width="9" height="4" fill="#3d60e2"/>
<rect x="264" y="425" width="9" height="4" fill="#4c6ce4"/>
<rect x="264" y="422" width="9" height="3" fill="#617de7"/>
<rect x="264" y="418" width="9" height="4" fill="#7991eb"/>
<rect x="264" y="415" width="9" height="3" fill="#94a7ef"/>
<rect x="264" y="411" width="9" height="4" fill="#adbcf3"/>
<rect x="264" y="407" width="9" height="4" fill="#c3cef6"/>
<rect x="264" y="404" width="9" height="3" fill="#d4dbf9"/>
<rect x="264" y="400" width="9" height="4" fill="#e0e5fa"/>
<rect x="264" y="397" width="9" height="3" fill="#e8ecfc"/>
<rect x="264" y="393" width="9" height="4" fill="#eef1fd"/>
<rect x="264" y="389" width="9" height="4" fill="#f3f5fd"/>
<rect x="264" y="386" width="9" height="3" fill="#f6f8fe"/>
<rect x="264" y="382" width="9" height="4" fill="#f9fafe"/>
<rect x="273" y="494" width="8" height="3" fill="#f9fafe"/>
<rect x="273" y="490" width="8" height="4" fill="#f6f8fe"/>
<rect x="273" y="487" width="8" height="3" fill="#f3f5fd"/>
<rect x="273" y="483" width="8" height="4" fill="#eff2fd"/>
<rect x="273" y="479" width="8" height="4" fill="#e9edfc"/>
<rect x="273" y="476" width="8" height="3" fill="#e2e7fb"/>
<rect x="273" y="472" width="8" height="4" fill="#d9e0f9"/>
<rect x="273" y="469" width="8" height="3" fill="#ccd5f7"/>
<rect x="273" y="465" width="8" height="4" fill="#bac6f5"/>
<rect x="273" y="461" width="8" height="4" fill="#a4b4f1"/>
<rect x="273" y="458" width="8" height="3" fill="#8ba0ee"/>
<rect x="273" y="454" width="8" height="4" fill="#728bea"/>
<rect x="273" y="451" width="8" height="3" fill="#5b79e7"/>
<rect x="273" y="447" width="8" height="4" fill="#4a6ae4"/>
<rect x="273" y="443" width="8" height="4" fill="#3e61e2"/>
<rect x="273" y="440" width="8" height="3" fill="#385ce1"/>
<rect x="273" y="436" width="8" height="4" fill="#385be1"/>
<rect x="273" y="433" width="8" height="3" fill="#3d60e2"/>
<rect x="273" y="429" width="8" height="4" fill="#4768e4"/>
<rect x="273" y="425" width="8" height="4" fill="#5775e6"/>
<rect x="273" y="422" width="8" height="3" fill="#6c86e9"/>
<rect x="273" y="418" width="8" height="4" fill="#859bed"/>
<rect x="273" y="415" width="8" height="3" fill="#9eb0f1"/>
<rect x="273" y="411" width="8" height="4" fill="#b6c3f4"/>
<rect x="273" y="407" width="8" height="4" fill="#cad3f7"/>
<rect x="273" y="404" width="8" height="3" fill="#d9e0f9"/>
<rect x="273" y="400" width="8" height="4" fill="#e4e8fb"/>
<rect x="273" y="397" width="8" height="3" fill="#ebeffc"/>
<rect x="273" y="393" width="8" height="4" fill="#f0f3fd"/>
<rect x="273" y="389" width="8" height="4" fill="#f4f6fd"/>
<rect x="273" y="386" width="8" height="3" fill="#f7f9fe"/>
<rect x="273" y="382" width="8" height="4" fill="#fafbfe"/>
<rect x="281" y="494" width="8" height="3" fill="#fafbfe"/>
<rect x="281" y="490" width="8" height="4" fill="#f7f9fe"/>
<rect x="281" y="487" width="8" height="3" fill="#f4f6fd"/>
<rect x="281" y="483" width="8" height="4" fill="#f0f3fd"/>
<rect x="281" y="479" width="8" height="4" fill="#ebeffc"/>
<rect x="281" y="476" width="8" height="3" fill="#e4e9fb"/>
<rect x="281" y="472" width="8" height="4" fill="#dce2fa"/>
<rect x="281" y="469" width="8" height="3" fill="#cfd8f8"/>
<rect x="281" y="465" width="8" height="4" fill="#bfcaf5"/>
<rect x="281" y="461" width="8" height="4" fill="#aab9f2"/>
<rect x="281" y="458" width="8" height="3" fill="#93a6ef"/>
<rect x="281" y="454" width="8" height="4" fill="#7b92eb"/>
<rect x="281" y="451" width="8" height="3" fill="#6580e8"/>
<rect x="281" y="447" width="8" height="4" fill="#5472e5"/>
<rect x="281" y="443" width="8" height="4" fill="#4869e4"/>
<rect x="281" y="440" width="8" height="3" fill="#4264e3"/>
<rect x="281" y="436" width="8" height="4" fill="#4264e3"/>
<rect x="281" y="433" width="8" height="3" fill="#4869e4"/>
<rect x="281" y="429" width="8" height="4" fill="#5372e5"/>
<rect x="281" y="425" width="8" height="4" fill="#6480e8"/>
<rect x="281" y="422" width="8" height="3" fill="#7991eb"/>
<rect x="281" y="418" width="8" height="4" fill="#91a5ef"/>
<rect x="281" y="415" width="8" height="3" fill="#aab9f2"/>
<rect x="281" y="411" width="8" height="4" fill="#bfcbf6"/>
<rect x="281" y="407" width="8" height="4" fill="#d1d9f8"/>
<rect x="281" y="404" width="8" height="3" fill="#dee4fa"/>
<rect x="281" y="400" width="8" height="4" fill="#e7ebfb"/>
<rect x="281" y="397" width="8" height="3" fill="#eef1fc"/>
<rect x="281" y="393" width="8" height="4" fill="#f2f5fd"/>
<rect x="281" y="389" width="8" height="4" fill="#f6f7fe"/>
<rect x="281" y="386" width="8" height="3" fill="#f8fafe"/>
<rect x="289" y="494" width="8" height="3" fill="#fafbfe"/>
<rect x="289" y="490" width="8" height="4" fill="#f8f9fe"/>
<rect x="289" y="487" width="8" height="3" fill="#f5f7fe"/>
<rect x="289" y="483" width="8" height="4" fill="#f2f4fd"/>
<rect x="289" y="479" width="8" height="4" fill="#edf0fc"/>
<rect x="289" y="476" width="8" height="3" fill="#e7ebfb"/>
<rect x="289" y="472" width="8" height="4" fill="#dfe4fa"/>
<rect x="289" y="469" width="8" height="3" fill="#d4dbf9"/>
<rect x="289" y="465" width="8" height="4" fill="#c4cff6"/>
<rect x="289" y="461" width="8" height="4" fill="#b1bff3"/>
<rect x="289" y="458" width="8" height="3" fill="#9badf0"/>
<rect x="289" y="454" width="8" height="4" fill="#859aed"/>
<rect x="289" y="451" width="8" height="3" fill="#7089ea"/>
<rect x="289" y="447" width="8" height="4" fill="#5f7ce7"/>
<rect x="289" y="443" width="8" height="4" fill="#5472e6"/>
<rect x="289" y="440" width="8" height="3" fill="#4f6ee5"/>
<rect x="289" y="436" width="8" height="4" fill="#4f6fe5"/>
<rect x="289" y="433" width="8" height="3" fill="#5574e6"/>
<rect x="289" y="429" width="8" height="4" fill="#617de8"/>
<rect x="289" y="425" width="8" height="4" fill="#728bea"/>
<rect x="289" y="422" width="8" height="3" fill="#889ded"/>
<rect x="289" y="418" width="8" height="4" fill="#9fb0f1"/>
<rect x="289" y="415" width="8" height="3" fill="#b5c2f4"/>
<rect x="289" y="411" width="8" height="4" fill="#c8d2f7"/>
<rect x="289" y="407" width="8" height="4" fill="#d8dff9"/>
<rect x="289" y="404" width="8" height="3" fill="#e3e8fb"/>
<rect x="289" y="400" width="8" height="4" fill="#ebeefc"/>
<rect x="289" y="397" width="8" height="3" fill="#f0f3fd"/>
<rect x="289" y="393" width="8" height="4" fill="#f4f6fd"/>
<rect x="289" y="389" width="8" height="4" fill="#f7f9fe"/>
<rect x="289" y="386" width="8" height="3" fill="#fafbfe"/>
<rect x="297" y="490" width="9" height="4" fill="#f9fafe"/>
<rect x="297" y="487" width="9" height="3" fill="#f6f8fe"/>
<rect x="297" y="483" width="9" height="4" fill="#f3f5fd"/>
<rect x="297" y="479" width="9" height="4" fill="#eff2fd"/>
<rect x="297" y="476" width="9" height="3" fill="#e9edfc"/>
<rect x="297" y="472" width="9" height="4" fill="#e2e7fb"/>
<rect x="297" y="469" width="9" height="3" fill="#d8dff9"/>
<rect x="297" y="465" width="9" height="4" fill="#cad4f7"/>
<rect x="297" y="461" width="9" height="4" fill="#b9c6f5"/>
<rect x="297" y="458" width="9" height="3" fill="#a5b5f2"/>
<rect x="297" y="454" width="9" height="4" fill="#90a4ee"/>
<rect x="297" y="451" width="9" height="3" fill="#7c94ec"/>
<rect x="297" y="447" width="9" height="4" fill="#6c87e9"/>
<rect x="297" y="443" width="9" height="4" fill="#627ee8"/>
<rect x="297" y="440" width="9" height="3" fill="#5d7ae7"/>
<rect x="297" y="436" width="9" height="4" fill="#5e7be7"/>
<rect x="297" y="433" width="9" height="3" fill="#6580e8"/>
<rect x="297" y="429" width="9" height="4" fill="#718aea"/>
<rect x="297" y="425" width="9" height="4" fill="#8298ec"/>
<rect x="297" y="422" width="9" height="3" fill="#96a9ef"/>
<rect x="297" y="418" width="9" height="4" fill="#acbbf3"/>
<rect x="297" y="415" width="9" height="3" fill="#c0cbf6"/>
<rect x="297" y="411" width="9" height="4" fill="#d1d9f8"/>
<rect x="297" y="407" width="9" height="4" fill="#dee4fa"/>
<rect x="297" y="404" width="9" height="3" fill="#e7ecfb"/>
<rect x="297" y="400" width="9" height="4" fill="#eef1fc"/>
<rect x="297" y="397" width="9" height="3" fill="#f3f5fd"/>
<rect x="297" y="393" width="9" height="4" fill="#f6f8fe"/>
<rect x="297" y="389" width="9" height="4" fill="#f9fafe"/>
<rect x="306" y="490" width="8" height="4" fill="#fafbfe"/>
<rect x="306" y="487" width="8" height="3" fill="#f8f9fe"/>
<rect x="306" y="483" width="8" height="4" fill="#f5f7fd"/>
<rect x="306" y="479" width="8" height="4" fill="#f1f3fd"/>
<rect x="306" y="476" width="8" height="3" fill="#eceffc"/>
<rect x="306" y="472" width="8" height="4" fill="#e6eafb"/>
<rect x="306" y="469" width="8" height="3" fill="#dde3fa"/>
<rect x="306" y="465" width="8" height="4" fill="#d1d9f8"/>
<rect x="306" y="461" width="8" height="4" fill="#c1ccf6"/>
<rect x="306" y="458" width="8" height="3" fill="#afbdf3"/>
<rect x="306" y="454" width="8" height="4" fill="#9cadf0"/>
<rect x="306" y="451" width="8" height="3" fill="#8a9fee"/>
<rect x="306" y="447" width="8" height="4" fill="#7b93eb"/>
<rect x="306" y="443" width="8" height="4" fill="#718aea"/>
<rect x="306" y="440" width="8" height="3" fill="#6d87e9"/>
<rect x="306" y="436" width="8" height="4" fill="#6e88e9"/>
<rect x="306" y="433" width="8" height="3" fill="#758eeb"/>
<rect x="306" y="429" width="8" height="4" fill="#8298ec"/>
<rect x="306" y="425" width="8" height="4" fill="#92a6ef"/>
<rect x="306" y="422" width="8" height="3" fill="#a6b6f2"/>
<rect x="306" y="418" width="8" height="4" fill="#b9c6f5"/>
<rect x="306" y="415" width="8" height="3" fill="#cbd4f7"/>
<rect x="306" y="411" width="8" height="4" fill="#d9e0f9"/>
<rect x="306" y="407" width="8" height="4" fill="#e4e9fb"/>
<rect x="306" y="404" width="8" height="3" fill="#eceffc"/>
<rect x="306" y="400" width="8" height="4" fill="#f1f4fd"/>
<rect x="306" y="397" width="8" height="3" fill="#f5f7fd"/>
<rect x="306" y="393" width="8" height="4" fill="#f8f9fe"/>
<rect x="306" y="389" width="8" height="4" fill="#fafbfe"/>
<rect x="314" y="487" width="8" height="3" fill="#f9fafe"/>
<rect x="314" y="483" width="8" height="4" fill="#f6f8fe"/>
<rect x="314" y="479" width="8" height="4" fill="#f3f5fd"/>
<rect x="314" y="476" width="8" height="3" fill="#eff2fd"/>
<rect x="314" y="472" width="8" height="4" fill="#e9edfc"/>
<rect x="314" y="469" width="8" height="3" fill="#e2e7fb"/>
<rect x="314" y="465" width="8" height="4" fill="#d7def9"/>
<rect x="314" y="461" width="8" height="4" fill="#cad3f7"/>
<rect x="314" y="458" width="8" height="3" fill="#bac6f5"/>
<rect x="314" y="454" width="8" height="4" fill="#a8b8f2"/>
<rect x="314" y="451" width="8" height="3" fill="#98aaf0"/>
<rect x="314" y="447" width="8" height="4" fill="#8a9fee"/>
<rect x="314" y="443" width="8" height="4" fill="#8198ec"/>
<rect x="314" y="440" width="8" height="3" fill="#7e95ec"/>
<rect x="314" y="436" width="8" height="4" fill="#8096ec"/>
<rect x="314" y="433" width="8" height="3" fill="#879ced"/>
<rect x="314" y="429" width="8" height="4" fill="#93a6ef"/>
<rect x="314" y="425" width="8" height="4" fill="#a3b3f1"/>
<rect x="314" y="422" width="8" height="3" fill="#b4c2f4"/>
<rect x="314" y="418" width="8" height="4" fill="#c6d0f6"/>
<rect x="314" y="415" width="8" height="3" fill="#d5dcf9"/>
<rect x="314" y="411" width="8" height="4" fill="#e1e6fa"/>
<rect x="314" y="407" width="8" height="4" fill="#e9edfc"/>
<rect x="314" y="404" width="8" height="3" fill="#eff2fd"/>
<rect x="314" y="400" width="8" height="4" fill="#f4f6fd"/>
<rect x="314" y="397" width="8" height="3" fill="#f7f8fe"/>
<rect x="314" y="393" width="8" height="4" fill="#f9fafe"/>
<rect x="322" y="487" width="9" height="3" fill="#fafbfe"/>
<rect x="322" y="483" width="9" height="4" fill="#f8f9fe"/>
<rect x="322" y="479" width="9" height="4" fill="#f5f7fe"/>
<rect x="322" y="476" width="9" height="3" fill="#f1f4fd"/>
<rect x="322" y="472" width="9" height="4" fill="#edf0fc"/>
<rect x="322" y="469" width="9" height="3" fill="#e6ebfb"/>
<rect x="322" y="465" width="9" height="4" fill="#dde3fa"/>
<rect x="322" y="461" width="9" height="4" fill="#d2daf8"/>
<rect x="322" y="458" width="9" height="3" fill="#c4cef6"/>
<rect x="322" y="454" width="9" height="4" fill="#b5c2f4"/>
<rect x="322" y="451" width="9" height="3" fill="#a6b6f2"/>
<rect x="322" y="447" width="9" height="4" fill="#9aacf0"/>
<rect x="322" y="443" width="9" height="4" fill="#92a6ef"/>
<rect x="322" y="440" width="9" height="3" fill="#90a3ee"/>
<rect x="322" y="436" width="9" height="4" fill="#92a5ef"/>
<rect x="322" y="433" width="9" height="3" fill="#99abf0"/>
<rect x="322" y="429" width="9" height="4" fill="#a5b5f2"/>
<rect x="322" y="425" width="9" height="4" fill="#b3c1f4"/>
<rect x="322" y="422" width="9" height="3" fill="#c2cdf6"/>
<rect x="322" y="418" width="9" height="4" fill="#d1d9f8"/>
<rect x="322" y="415" width="9" height="3" fill="#dee4fa"/>
<rect x="322" y="411" width="9" height="4" fill="#e7ebfb"/>
<rect x="322" y="407" width="9" height="4" fill="#eef1fc"/>
<rect x="322" y="404" width="9" height="3" fill="#f3f5fd"/>
<rect x="322" y="400" width="9" height="4" fill="#f6f8fe"/>
<rect x="322" y="397" width="9" height="3" fill="#f9fafe"/>
<rect x="331" y="483" width="8" height="4" fill="#f9fafe"/>
<rect x="331" y="479" width="8" height="4" fill="#f7f8fe"/>
<rect x="331" y="476" width="8" height="3" fill="#f4f6fd"/>
<rect x="331" y="472" width="8" height="4" fill="#f0f3fd"/>
<rect x="331" y="469" width="8" height="3" fill="#ebeefc"/>
<rect x="331" y="465" width="8" height="4" fill="#e3e8fb"/>
<rect x="331" y="461" width="8" height="4" fill="#dae0f9"/>
<rect x="331" y="458" width="8" height="3" fill="#ced7f8"/>
<rect x="331" y="454" width="8" height="4" fill="#c1ccf6"/>
<rect x="331" y="451" width="8" height="3" fill="#b5c2f4"/>
<rect x="331" y="447" width="8" height="4" fill="#aab9f2"/>
<rect x="331" y="443" width="8" height="4" fill="#a3b4f1"/>
<rect x="331" y="440" width="8" height="3" fill="#a1b2f1"/>
<rect x="331" y="436" width="8" height="4" fill="#a4b4f1"/>
<rect x="331" y="433" width="8" height="3" fill="#abbaf2"/>
<rect x="331" y="429" width="8" height="4" fill="#b5c2f4"/>
<rect x="331" y="425" width="8" height="4" fill="#c2cdf6"/>
<rect x="331" y="422" width="8" height="3" fill="#cfd8f8"/>
<rect x="331" y="418" width="8" height="4" fill="#dbe2fa"/>
<rect x="331" y="415" width="8" height="3" fill="#e5eafb"/>
<rect x="331" y="411" width="8" height="4" fill="#edf0fc"/>
<rect x="331" y="407" width="8" height="4" fill="#f2f4fd"/>
<rect x="331" y="404" width="8" height="3" fill="#f6f7fe"/>
<rect x="331" y="400" width="8" height="4" fill="#f8f9fe"/>
<rect x="331" y="397" width="8" height="3" fill="#fafbfe"/>
<rect x="339" y="479" width="8" height="4" fill="#f9fafe"/>
<rect x="339" y="476" width="8" height="3" fill="#f6f8fe"/>
<rect x="339" y="472" width="8" height="4" fill="#f3f5fd"/>
<rect x="339" y="469" width="8" height="3" fill="#eff2fd"/>
<rect x="339" y="465" width="8" height="4" fill="#e9edfc"/>
<rect x="339" y="461" width="8" height="4" fill="#e1e6fb"/>
<rect x="339" y="458" width="8" height="3" fill="#d7def9"/>
<rect x="339" y="454" width="8" height="4" fill="#cdd6f7"/>
<rect x="339" y="451" width="8" height="3" fill="#c2cdf6"/>
<rect x="339" y="447" width="8" height="4" fill="#b9c6f5"/>
<rect x="339" y="443" width="8" height="4" fill="#b4c1f4"/>
<rect x="339" y="440" width="8" height="3" fill="#b2c0f4"/>
<rect x="339" y="436" width="8" height="4" fill="#b5c2f4"/>
<rect x="339" y="433" width="8" height="3" fill="#bbc7f5"/>
<rect x="339" y="429" width="8" height="4" fill="#c4cff6"/>
<rect x="339" y="425" width="8" height="4" fill="#cfd8f8"/>
<rect x="339" y="422" width="8" height="3" fill="#dae1fa"/>
<rect x="339" y="418" width="8" height="4" fill="#e4e9fb"/>
<rect x="339" y="415" width="8" height="3" fill="#eceffc"/>
<rect x="339" y="411" width="8" height="4" fill="#f1f4fd"/>
<rect x="339" y="407" width="8" height="4" fill="#f5f7fe"/>
<rect x="339" y="404" width="8" height="3" fill="#f8f9fe"/>
<rect x="339" y="400" width="8" height="4" fill="#fafbfe"/>
<rect x="347" y="479" width="8" height="4" fill="#fafbfe"/>
<rect x="347" y="476" width="8" height="3" fill="#f8f9fe"/>
<rect x="347" y="472" width="8" height="4" fill="#f6f7fe"/>
<rect x="347" y="469" width="8" height="3" fill="#f2f4fd"/>
<rect x="347" y="465" width="8" height="4" fill="#eef1fc"/>
<rect x="347" y="461" width="8" height="4" fill="#e7ecfb"/>
<rect x="347" y="458" width="8" height="3" fill="#e0e5fa"/>
<rect x="347" y="454" width="8" height="4" fill="#d7def9"/>
<rect x="347" y="451" width="8" height="3" fill="#ced7f8"/>
<rect x="347" y="447" width="8" height="4" fill="#c7d1f7"/>
<rect x="347" y="443" width="8" height="4" fill="#c3cef6"/>
<rect x="347" y="440" width="8" height="3" fill="#c2cdf6"/>
<rect x="347" y="436" width="8" height="4" fill="#c4cff6"/>
<rect x="347" y="433" width="8" height="3" fill="#cad3f7"/>
<rect x="347" y="429" width="8" height="4" fill="#d2daf8"/>
<rect x="347" y="425" width="8" height="4" fill="#dbe1fa"/>
<rect x="347" y="422" width="8" height="3" fill="#e4e9fb"/>
<rect x="347" y="418" width="8" height="4" fill="#ebeffc"/>
<rect x="347" y="415" width="8" height="3" fill="#f1f3fd"/>
<rect x="347" y="411" width="8" height="4" fill="#f5f7fe"/>
<rect x="347" y="407" width="8" height="4" fill="#f8f9fe"/>
<rect x="347" y="404" width="8" height="3" fill="#fafbfe"/>
<rect x="355" y="476" width="9" height="3" fill="#fafbfe"/>
<rect x="355" y="472" width="9" height="4" fill="#f8f9fe"/>
<rect x="355" y="469" width="9" height="3" fill="#f5f7fe"/>
<rect x="355" y="465" width="9" height="4" fill="#f2f4fd"/>
<rect x="355" y="461" width="9" height="4" fill="#edf0fc"/>
<rect x="355" y="458" width="9" height="3" fill="#e7ebfb"/>
<rect x="355" y="454" width="9" height="4" fill="#e0e6fa"/>
<rect x="355" y="451" width="9" height="3" fill="#d9e0f9"/>
<rect x="355" y="447" width="9" height="4" fill="#d4dbf9"/>
<rect x="355" y="443" width="9" height="4" fill="#d0d9f8"/>
<rect x="355" y="440" width="9" height="3" fill="#d0d8f8"/>
<rect x="355" y="436" width="9" height="4" fill="#d2daf8"/>
<rect x="355" y="433" width="9" height="3" fill="#d7def9"/>
<rect x="355" y="429" width="9" height="4" fill="#dee4fa"/>
<rect x="355" y="425" width="9" height="4" fill="#e5e9fb"/>
<rect x="355" y="422" width="9" height="3" fill="#ebeffc"/>
<rect x="355" y="418" width="9" height="4" fill="#f1f3fd"/>
<rect x="355" y="415" width="9" height="3" fill="#f5f7fe"/>
<rect x="355" y="411" width="9" height="4" fill="#f8f9fe"/>
<rect x="355" y="407" width="9" height="4" fill="#fafbfe"/>
<rect x="364" y="472" width="8" height="4" fill="#fafbfe"/>
<rect x="364" y="469" width="8" height="3" fill="#f8f9fe"/>
<rect x="364" y="465" width="8" height="4" fill="#f5f7fe"/>
<rect x="364" y="461" width="8" height="4" fill="#f2f4fd"/>
<rect x="364" y="458" width="8" height="3" fill="#edf0fc"/>
<rect x="364" y="454" width="8" height="4" fill="#e8ecfc"/>
<rect x="364" y="451" width="8" height="3" fill="#e3e8fb"/>
<rect x="364" y="447" width="8" height="4" fill="#dee4fa"/>
<rect x="364" y="443" width="8" height="4" fill="#dce2fa"/>
<rect x="364" y="440" width="8" height="3" fill="#dce2fa"/>
<rect x="364" y="436" width="8" height="4" fill="#dee4fa"/>
<rect x="364" y="433" width="8" height="3" fill="#e2e7fb"/>
<rect x="364" y="429" width="8" height="4" fill="#e7ebfb"/>
<rect x="364" y="425" width="8" height="4" fill="#ecf0fc"/>
<rect x="364" y="422" width="8" height="3" fill="#f1f4fd"/>
<rect x="364" y="418" width="8" height="4" fill="#f5f7fe"/>
<rect x="364" y="415" width="8" height="3" fill="#f8f9fe"/>
<rect x="364" y="411" width="8" height="4" fill="#fafbfe"/>
<rect x="372" y="469" width="8" height="3" fill="#fafbfe"/>
<rect x="372" y="465" width="8" height="4" fill="#f8f9fe"/>
<rect x="372" y="461" width="8" height="4" fill="#f5f7fe"/>
<rect x="372" y="458" width="8" height="3" fill="#f2f4fd"/>
<rect x="372" y="454" width="8" height="4" fill="#eef1fd"/>
<rect x="372" y="451" width="8" height="3" fill="#eaeefc"/>
<rect x="372" y="447" width="8" height="4" fill="#e7ebfb"/>
<rect x="372" y="443" width="8" height="4" fill="#e5eafb"/>
<rect x="372" y="440" width="8" height="3" fill="#e5eafb"/>
<rect x="372" y="436" width="8" height="4" fill="#e7ebfb"/>
<rect x="372" y="433" width="8" height="3" fill="#eaeefc"/>
<rect x="372" y="429" width="8" height="4" fill="#eef1fd"/>
<rect x="372" y="425" width="8" height="4" fill="#f2f5fd"/>
<rect x="372" y="422" width="8" height="3" fill="#f6f7fe"/>
<rect x="372" y="418" width="8" height="4" fill="#f9fafe"/>
<rect x="380" y="465" width="9" height="4" fill="#fafbfe"/>
<rect x="380" y="461" width="9" height="4" fill="#f8fafe"/>
<rect x="380" y="458" width="9" height="3" fill="#f6f8fe"/>
<rect x="380" y="454" width="9" height="4" fill="#f3f5fd"/>
<rect x="380" y="451" width="9" height="3" fill="#f1f3fd"/>
<rect x="380" y="447" width="9" height="4" fill="#eef1fd"/>
<rect x="380" y="443" width="9" height="4" fill="#edf0fc"/>
<rect x="380" y="440" width="9" height="3" fill="#edf0fc"/>
<rect x="380" y="436" width="9" height="4" fill="#eff1fd"/>
<rect x="380" y="433" width="9" height="3" fill="#f1f4fd"/>
<rect x="380" y="429" width="9" height="4" fill="#f4f6fd"/>
<rect x="380" y="425" width="9" height="4" fill="#f7f8fe"/>
<rect x="380" y="422" width="9" height="3" fill="#f9fafe"/>
<rect x="389" y="458" width="8" height="3" fill="#f9fafe"/>
<rect x="389" y="454" width="8" height="4" fill="#f7f8fe"/>
<rect x="389" y="451" width="8" height="3" fill="#f5f7fe"/>
<rect x="389" y="447" width="8" height="4" fill="#f4f6fd"/>
<rect x="389" y="443" width="8" height="4" fill="#f3f5fd"/>
<rect x="389" y="440" width="8" height="3" fill="#f3f5fd"/>
<rect x="389" y="436" width="8" height="4" fill="#f4f6fd"/>
<rect x="389" y="433" width="8" height="3" fill="#f6f7fe"/>
<rect x="389" y="429" width="8" height="4" fill="#f8f9fe"/>
<rect x="389" y="425" width="8" height="4" fill="#fafbfe"/>
<rect x="397" y="454" width="8" height="4" fill="#fafbfe"/>
<rect x="397" y="451" width="8" height="3" fill="#f9fafe"/>
<rect x="397" y="447" width="8" height="4" fill="#f8f9fe"/>
<rect x="397" y="443" width="8" height="4" fill="#f7f8fe"/>
<rect x="397" y="440" width="8" height="3" fill="#f7f9fe"/>
<rect x="397" y="436" width="8" height="4" fill="#f8f9fe"/>
<rect x="397" y="433" width="8" height="3" fill="#f9fafe"/>
<rect x="405" y="443" width="9" height="4" fill="#fafbfe"/>
<rect x="405" y="440" width="9" height="3" fill="#fafbfe"/>
</g>
<ellipse cx="588.30" cy="403.50" rx="123.10" ry="29.90" transform="rotate(5.33 588.30 403.50)" fill="none" stroke="#000" stroke-width="2.00"/>
<g clip-path="url(#clip280)">
<ellipse cx="214.70" cy="434.50" rx="63.20" ry="22.20" transform="rotate(5.80 214.70 434.50)" fill="none" stroke="#f01414" stroke-width="2.30"/>
</g>
<circle cx="215.10" cy="434.70" r="4.0" fill="#f01414"/>
<path d="M584.60 400.60L591.20 407.20M584.60 407.20L591.20 400.60" stroke="#000" stroke-width="1.80" fill="none"/>
<path d="M173.4 302.80 V519.10 H803.5" fill="none" stroke="#3a3a3a" stroke-width="1.2"/>
<path d="M168.3 302.80H173.4M168.3 338.85H173.4M168.3 374.90H173.4M168.3 410.95H173.4M168.3 447.00H173.4M168.3 483.05H173.4M168.3 519.10H173.4M222.84 519.10V524.30M305.74 519.10V524.30M388.64 519.10V524.30M471.54 519.10V524.30M554.44 519.10V524.30M637.34 519.10V524.30M720.24 519.10V524.30M803.14 519.10V524.30" stroke="#3a3a3a" stroke-width="1.2" fill="none"/>
<g font-size="13.3"><text x="162.3" y="307.30" text-anchor="end">0.75</text><text x="162.3" y="343.35" text-anchor="end">0.70</text><text x="162.3" y="379.40" text-anchor="end">0.65</text><text x="162.3" y="415.45" text-anchor="end">0.60</text><text x="162.3" y="451.50" text-anchor="end">0.55</text><text x="162.3" y="487.55" text-anchor="end">0.50</text><text x="162.3" y="523.60" text-anchor="end">0.45</text></g>
<g font-size="12.8"><text x="223.14" y="539.50" text-anchor="middle">0.025</text><text x="306.04" y="539.50" text-anchor="middle">0.050</text><text x="388.94" y="539.50" text-anchor="middle">0.075</text><text x="471.84" y="539.50" text-anchor="middle">0.100</text><text x="554.74" y="539.50" text-anchor="middle">0.125</text><text x="637.64" y="539.50" text-anchor="middle">0.150</text><text x="720.54" y="539.50" text-anchor="middle">0.175</text><text x="803.44" y="539.50" text-anchor="middle">0.200</text></g>
<text x="472.3" y="557.70" font-size="12.2">Im<tspan font-style="italic">(k</tspan><tspan font-size="8.5" dy="3">2</tspan><tspan dy="-3" font-style="italic">)</tspan></text>
<text transform="translate(123.9 427.10) rotate(-90)" font-size="12">Re<tspan font-style="italic">(k</tspan><tspan font-size="8.4" dy="3">2</tspan><tspan dy="-3" font-style="italic">)</tspan></text>
<text x="113.8" y="298.90" font-size="14.3" font-weight="bold" style="stroke-width:0.6px">b</text>
<text x="183" y="318.70" font-size="13">With ocean</text>
<path d="M665 321.00H697" stroke="#f01414" stroke-width="3.3" fill="none"/>
<circle cx="681" cy="321.00" r="4.1" fill="#f01414"/>
<path d="M665 341.00H697" stroke="#000" stroke-width="3.3" fill="none"/>
<path d="M677.50 338.00L683.50 344.00M677.50 344.00L683.50 338.00" stroke="#000" stroke-width="1.60" fill="none"/>
<text x="702.0" y="325.60" font-size="13">Model</text>
<text x="702.0" y="345.80" font-size="13">Observations</text>
<rect x="824.6" y="302.80" width="10.5" height="216.20" fill="url(#cbg)" stroke="#222" stroke-width="1.1"/>
<path d="M835 519.00H840.5M835 468.95H840.5M835 418.90H840.5M835 368.85H840.5M835 318.80H840.5" stroke="#3a3a3a" stroke-width="1.2" fill="none"/>
<g font-size="13.2"><text x="846" y="523.50">0</text><text x="846" y="473.45">500</text><text x="846" y="423.40">1,000</text><text x="846" y="373.35">1,500</text><text x="846" y="323.30">2,000</text></g>
<text transform="translate(892.5 410.50) rotate(-90)" text-anchor="middle" font-size="13">No. of samples</text>
</svg></body></html>
